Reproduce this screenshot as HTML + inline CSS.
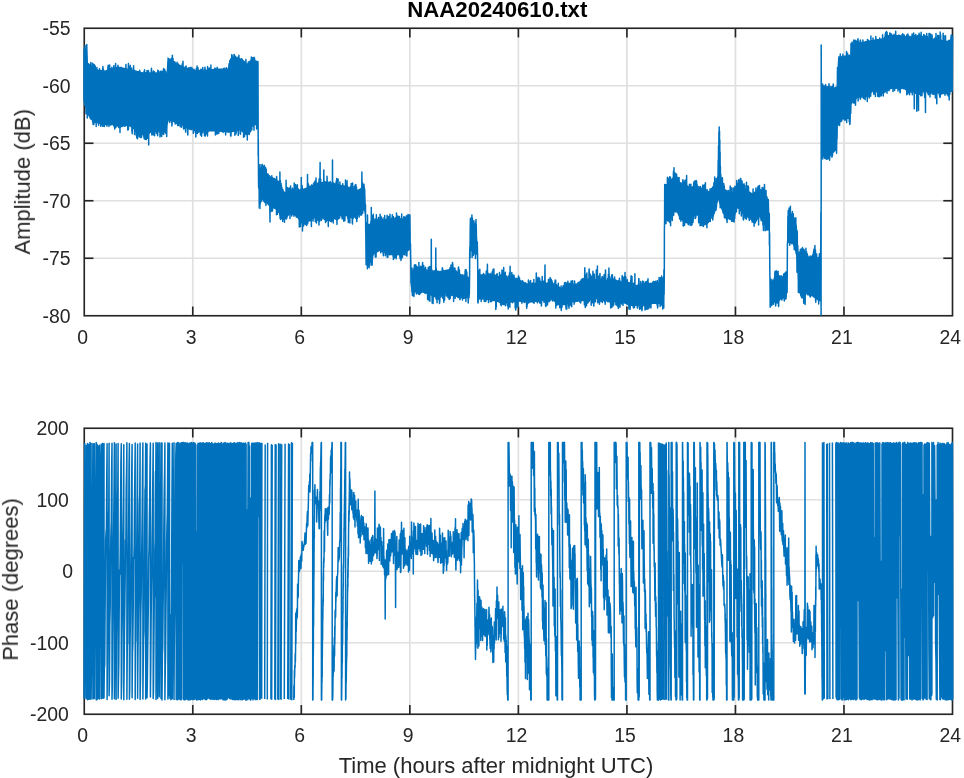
<!DOCTYPE html>
<html lang="en">
<head>
<meta charset="utf-8">
<title>NAA20240610.txt</title>
<style>
html,body{margin:0;padding:0;background:#fff;}
body{width:964px;height:778px;overflow:hidden;}
svg{display:block;}
.g{stroke:#E0E0E0;stroke-width:1.7;}
.ax{stroke:#262626;stroke-width:1.65;stroke-linecap:butt;}
.d{fill:none;stroke:#0072BD;stroke-width:1.5;stroke-linejoin:round;}
text{font-family:"Liberation Sans",Arial,Helvetica,sans-serif;fill:#262626;}
.t{font-size:19.4px;}
.lab{font-size:22.0px;}
.ttl{font-size:22.2px;font-weight:bold;fill:#000;}
</style>
</head>
<body>
<svg width="964" height="778" viewBox="0 0 964 778">
<rect width="964" height="778" fill="#fff"/>
<!-- amplitude axes -->
<g>
<line x1="192.78" y1="28.25" x2="192.78" y2="315.75" class="g"/>
<line x1="301.31" y1="28.25" x2="301.31" y2="315.75" class="g"/>
<line x1="409.84" y1="28.25" x2="409.84" y2="315.75" class="g"/>
<line x1="518.38" y1="28.25" x2="518.38" y2="315.75" class="g"/>
<line x1="626.91" y1="28.25" x2="626.91" y2="315.75" class="g"/>
<line x1="735.44" y1="28.25" x2="735.44" y2="315.75" class="g"/>
<line x1="843.97" y1="28.25" x2="843.97" y2="315.75" class="g"/>
<line x1="84.25" y1="85.75" x2="952.5" y2="85.75" class="g"/>
<line x1="84.25" y1="143.25" x2="952.5" y2="143.25" class="g"/>
<line x1="84.25" y1="200.75" x2="952.5" y2="200.75" class="g"/>
<line x1="84.25" y1="258.25" x2="952.5" y2="258.25" class="g"/>
<rect x="84.25" y="28.25" width="868.25" height="287.5" class="ax" fill="none"/>
<line x1="192.78" y1="315.75" x2="192.78" y2="306.55" class="ax"/>
<line x1="192.78" y1="28.25" x2="192.78" y2="37.45" class="ax"/>
<line x1="301.31" y1="315.75" x2="301.31" y2="306.55" class="ax"/>
<line x1="301.31" y1="28.25" x2="301.31" y2="37.45" class="ax"/>
<line x1="409.84" y1="315.75" x2="409.84" y2="306.55" class="ax"/>
<line x1="409.84" y1="28.25" x2="409.84" y2="37.45" class="ax"/>
<line x1="518.38" y1="315.75" x2="518.38" y2="306.55" class="ax"/>
<line x1="518.38" y1="28.25" x2="518.38" y2="37.45" class="ax"/>
<line x1="626.91" y1="315.75" x2="626.91" y2="306.55" class="ax"/>
<line x1="626.91" y1="28.25" x2="626.91" y2="37.45" class="ax"/>
<line x1="735.44" y1="315.75" x2="735.44" y2="306.55" class="ax"/>
<line x1="735.44" y1="28.25" x2="735.44" y2="37.45" class="ax"/>
<line x1="843.97" y1="315.75" x2="843.97" y2="306.55" class="ax"/>
<line x1="843.97" y1="28.25" x2="843.97" y2="37.45" class="ax"/>
<line x1="84.25" y1="85.75" x2="93.45" y2="85.75" class="ax"/>
<line x1="952.5" y1="85.75" x2="943.3" y2="85.75" class="ax"/>
<line x1="84.25" y1="143.25" x2="93.45" y2="143.25" class="ax"/>
<line x1="952.5" y1="143.25" x2="943.3" y2="143.25" class="ax"/>
<line x1="84.25" y1="200.75" x2="93.45" y2="200.75" class="ax"/>
<line x1="952.5" y1="200.75" x2="943.3" y2="200.75" class="ax"/>
<line x1="84.25" y1="258.25" x2="93.45" y2="258.25" class="ax"/>
<line x1="952.5" y1="258.25" x2="943.3" y2="258.25" class="ax"/>
<polygon points="83.5,48.4 84.0,48.4 84.5,48.4 85.0,48.4 85.5,48.4 86.0,48.4 86.5,48.4 87.0,48.4 87.5,55.3 88.0,62.4 88.5,63.0 89.0,63.5 89.5,64.1 90.0,64.7 90.5,65.2 91.0,65.7 91.5,66.2 92.0,66.7 92.5,67.2 93.0,67.7 93.5,68.2 94.0,68.7 94.5,69.2 95.0,69.7 95.5,69.7 96.0,69.7 96.5,69.8 97.0,69.8 97.5,69.8 98.0,69.9 98.5,69.9 99.0,70.0 99.5,70.0 100.0,70.0 100.5,70.1 101.0,70.1 101.5,70.1 102.0,70.2 102.5,70.2 103.0,70.2 103.5,70.3 104.0,70.3 104.5,70.4 105.0,70.4 105.5,70.2 106.0,70.1 106.5,69.9 107.0,69.8 107.5,69.6 108.0,69.4 108.5,69.3 109.0,69.1 109.5,69.0 110.0,68.8 110.5,68.6 111.0,68.5 111.5,68.3 112.0,68.2 112.5,68.0 113.0,67.8 113.5,67.7 114.0,67.5 114.5,67.4 115.0,67.2 115.5,67.0 116.0,66.9 116.5,66.7 117.0,66.6 117.5,66.4 118.0,66.5 118.5,66.6 119.0,66.7 119.5,66.8 120.0,66.9 120.5,67.0 121.0,67.1 121.5,67.2 122.0,67.3 122.5,67.4 123.0,67.5 123.5,67.6 124.0,67.7 124.5,67.8 125.0,67.9 125.5,68.0 126.0,68.1 126.5,68.2 127.0,68.3 127.5,68.4 128.0,68.5 128.5,68.6 129.0,68.7 129.5,68.8 130.0,68.9 130.5,69.0 131.0,69.2 131.5,69.3 132.0,69.4 132.5,69.6 133.0,69.7 133.5,69.8 134.0,69.9 134.5,70.1 135.0,70.2 135.5,70.3 136.0,70.5 136.5,70.6 137.0,70.7 137.5,70.9 138.0,71.0 138.5,71.1 139.0,71.2 139.5,71.4 140.0,71.5 140.5,71.6 141.0,71.8 141.5,71.9 142.0,72.0 142.5,72.2 143.0,72.2 143.5,72.2 144.0,72.2 144.5,72.2 145.0,72.2 145.5,72.2 146.0,72.2 146.5,72.2 147.0,72.2 147.5,72.2 148.0,72.2 148.5,72.2 149.0,72.2 149.5,72.2 150.0,72.2 150.5,72.2 151.0,72.2 151.5,72.2 152.0,72.2 152.5,72.2 153.0,72.2 153.5,72.2 154.0,72.2 154.5,72.2 155.0,72.2 155.5,72.2 156.0,72.3 156.5,72.3 157.0,72.4 157.5,72.4 158.0,72.5 158.5,72.5 159.0,72.6 159.5,72.6 160.0,72.7 160.5,72.7 161.0,72.8 161.5,72.9 162.0,72.9 162.5,73.0 163.0,73.0 163.5,73.1 164.0,73.1 164.5,73.2 165.0,73.2 165.5,73.3 166.0,73.3 166.5,73.4 167.0,65.3 167.5,57.1 168.0,57.5 168.5,57.8 169.0,58.1 169.5,58.5 170.0,58.8 170.5,59.1 171.0,59.5 171.5,59.8 172.0,60.1 172.5,60.5 173.0,60.8 173.5,61.1 174.0,61.5 174.5,61.8 175.0,62.1 175.5,62.4 176.0,62.6 176.5,62.9 177.0,63.1 177.5,63.4 178.0,63.6 178.5,63.9 179.0,64.2 179.5,64.4 180.0,64.7 180.5,64.9 181.0,65.2 181.5,65.4 182.0,65.7 182.5,65.9 183.0,66.2 183.5,66.4 184.0,66.7 184.5,66.9 185.0,67.2 185.5,67.3 186.0,67.5 186.5,67.7 187.0,67.8 187.5,68.0 188.0,68.2 188.5,68.3 189.0,68.5 189.5,68.7 190.0,68.8 190.5,69.0 191.0,69.2 191.5,69.3 192.0,69.5 192.5,69.7 193.0,69.7 193.5,69.7 194.0,69.7 194.5,69.7 195.0,69.7 195.5,69.7 196.0,69.7 196.5,69.7 197.0,69.7 197.5,69.7 198.0,69.7 198.5,69.7 199.0,69.7 199.5,69.7 200.0,69.7 200.5,69.7 201.0,69.7 201.5,69.7 202.0,69.7 202.5,69.7 203.0,69.7 203.5,69.7 204.0,69.7 204.5,69.7 205.0,69.7 205.5,69.6 206.0,69.6 206.5,69.5 207.0,69.5 207.5,69.4 208.0,69.4 208.5,69.3 209.0,69.2 209.5,69.2 210.0,69.2 210.5,69.1 211.0,69.1 211.5,69.0 212.0,69.0 212.5,68.9 213.0,68.9 213.5,68.8 214.0,68.8 214.5,68.7 215.0,68.7 215.5,68.6 216.0,68.6 216.5,68.5 217.0,68.5 217.5,68.4 218.0,68.4 218.5,68.4 219.0,68.4 219.5,68.4 220.0,68.4 220.5,68.4 221.0,68.4 221.5,68.4 222.0,68.4 222.5,68.4 223.0,68.4 223.5,68.4 224.0,68.4 224.5,68.4 225.0,68.4 225.5,68.4 226.0,68.4 226.5,68.4 227.0,68.4 227.5,68.4 228.0,68.4 228.5,66.0 229.0,63.6 229.5,61.3 230.0,58.9 230.5,58.5 231.0,58.1 231.5,57.6 232.0,57.2 232.5,56.8 233.0,56.4 233.5,56.5 234.0,56.7 234.5,56.8 235.0,56.9 235.5,57.1 236.0,57.2 236.5,57.3 237.0,57.5 237.5,57.6 238.0,57.7 238.5,57.8 239.0,58.0 239.5,58.1 240.0,58.2 240.5,58.4 241.0,58.5 241.5,58.6 242.0,58.8 242.5,58.9 243.0,59.5 243.5,60.0 244.0,60.6 244.5,61.1 245.0,61.7 245.5,62.2 246.0,62.8 246.5,63.3 247.0,63.9 247.5,63.3 248.0,62.7 248.5,62.1 249.0,61.5 249.5,61.0 250.0,60.4 250.5,59.8 251.0,59.2 251.5,59.0 252.0,59.1 252.5,59.3 253.0,59.5 253.5,59.6 254.0,59.8 254.5,59.9 255.0,60.1 255.5,60.3 256.0,60.4 256.5,60.6 257.0,60.7 257.5,60.9 258.0,60.9 258.5,170.9 259.0,170.0 259.5,169.0 260.0,168.1 260.5,167.2 261.0,166.2 261.5,165.3 262.0,164.3 262.5,163.4 263.0,164.4 263.5,165.4 264.0,166.4 264.5,167.4 265.0,168.4 265.5,169.4 266.0,170.4 266.5,171.4 267.0,172.4 267.5,173.4 268.0,173.9 268.5,174.4 269.0,174.9 269.5,175.4 270.0,175.9 270.5,176.4 271.0,176.9 271.5,177.4 272.0,177.9 272.5,178.4 273.0,178.9 273.5,179.4 274.0,179.9 274.5,180.4 275.0,180.9 275.5,181.4 276.0,181.9 276.5,182.4 277.0,182.9 277.5,183.4 278.0,184.0 278.5,184.6 279.0,185.2 279.5,185.7 280.0,186.3 280.5,186.9 281.0,187.5 281.5,188.1 282.0,188.7 282.5,189.2 283.0,189.8 283.5,190.4 284.0,191.0 284.5,191.6 285.0,192.2 285.5,191.9 286.0,191.7 286.5,191.5 287.0,191.3 287.5,191.1 288.0,190.8 288.5,190.6 289.0,190.4 289.5,190.2 290.0,190.0 290.5,189.8 291.0,189.6 291.5,189.3 292.0,189.1 292.5,188.9 293.0,188.9 293.5,189.0 294.0,189.0 294.5,189.1 295.0,189.1 295.5,189.2 296.0,189.2 296.5,189.2 297.0,189.3 297.5,189.3 298.0,189.4 298.5,189.4 299.0,189.5 299.5,189.5 300.0,189.5 300.5,189.6 301.0,189.6 301.5,189.6 302.0,189.3 302.5,189.2 303.0,189.0 303.5,188.8 304.0,188.6 304.5,188.3 305.0,188.2 305.5,188.0 306.0,187.8 306.5,187.6 307.0,187.3 307.5,187.2 308.0,186.9 308.5,186.7 309.0,186.5 309.5,186.3 310.0,186.1 310.5,185.8 311.0,185.6 311.5,185.4 312.0,185.2 312.5,185.0 313.0,184.8 313.5,184.6 314.0,184.3 314.5,184.1 315.0,183.9 315.5,183.7 316.0,183.6 316.5,183.4 317.0,183.2 317.5,183.0 318.0,182.8 318.5,182.7 319.0,182.5 319.5,182.3 320.0,182.2 320.5,182.1 321.0,182.1 321.5,182.0 322.0,182.0 322.5,181.9 323.0,181.8 323.5,181.8 324.0,181.8 324.5,181.7 325.0,181.7 325.5,181.6 326.0,181.6 326.5,181.5 327.0,181.5 327.5,181.4 328.0,181.5 328.5,181.7 329.0,181.8 329.5,181.9 330.0,182.1 330.5,182.2 331.0,182.3 331.5,182.4 332.0,182.6 332.5,182.7 333.0,182.8 333.5,183.0 334.0,183.1 334.5,183.2 335.0,183.3 335.5,183.5 336.0,183.6 336.5,183.7 337.0,183.9 337.5,184.0 338.0,184.1 338.5,184.3 339.0,184.4 339.5,184.5 340.0,184.7 340.5,184.8 341.0,184.9 341.5,185.0 342.0,185.2 342.5,185.3 343.0,185.4 343.5,185.5 344.0,185.7 344.5,185.8 345.0,185.9 345.5,186.0 346.0,186.2 346.5,186.3 347.0,186.4 347.5,186.5 348.0,186.7 348.5,186.8 349.0,186.9 349.5,187.0 350.0,187.2 350.5,187.3 351.0,187.5 351.5,187.7 352.0,187.8 352.5,188.0 353.0,188.2 353.5,188.3 354.0,188.5 354.5,188.7 355.0,188.8 355.5,189.0 356.0,189.2 356.5,189.3 357.0,189.5 357.5,189.7 358.0,189.4 358.5,189.2 359.0,189.0 359.5,188.8 360.0,188.6 360.5,188.4 361.0,188.2 361.5,188.0 362.0,187.8 362.5,187.6 363.0,187.3 363.5,187.1 364.0,186.9 364.5,186.7 365.0,186.5 365.5,203.2 366.0,228.3 366.5,227.8 367.0,227.3 367.5,226.8 368.0,226.4 368.5,225.9 369.0,225.4 369.5,224.9 370.0,224.4 370.5,224.0 371.0,223.5 371.5,223.0 372.0,222.5 372.5,222.0 373.0,221.6 373.5,221.1 374.0,220.6 374.5,220.1 375.0,219.7 375.5,219.6 376.0,219.6 376.5,219.5 377.0,219.5 377.5,219.4 378.0,219.4 378.5,219.4 379.0,219.3 379.5,219.3 380.0,219.2 380.5,219.2 381.0,219.2 381.5,219.1 382.0,219.1 382.5,219.0 383.0,219.0 383.5,218.9 384.0,218.9 384.5,218.9 385.0,218.8 385.5,218.8 386.0,218.7 386.5,218.7 387.0,218.7 387.5,218.6 388.0,218.6 388.5,218.5 389.0,218.5 389.5,218.4 390.0,218.4 390.5,218.4 391.0,218.4 391.5,218.4 392.0,218.4 392.5,218.4 393.0,218.4 393.5,218.4 394.0,218.4 394.5,218.4 395.0,218.4 395.5,218.4 396.0,218.4 396.5,218.4 397.0,218.4 397.5,218.4 398.0,218.4 398.5,218.4 399.0,218.4 399.5,218.4 400.0,218.4 400.5,218.4 401.0,218.4 401.5,218.4 402.0,218.4 402.5,218.4 403.0,218.1 403.5,217.9 404.0,217.6 404.5,217.4 405.0,217.1 405.5,216.9 406.0,216.6 406.5,216.3 407.0,216.1 407.5,215.8 408.0,215.6 408.5,215.3 409.0,215.0 409.5,214.8 410.0,214.5 410.5,234.1 411.0,273.4 411.5,272.4 412.0,271.3 412.5,270.3 413.0,269.3 413.5,268.2 414.0,267.2 414.5,266.2 415.0,265.1 415.5,265.4 416.0,265.6 416.5,265.8 417.0,266.0 417.5,266.3 418.0,266.5 418.5,266.7 419.0,266.9 419.5,267.2 420.0,267.4 420.5,267.6 421.0,267.8 421.5,268.1 422.0,268.3 422.5,268.5 423.0,268.8 423.5,269.0 424.0,269.2 424.5,269.4 425.0,269.6 425.5,269.7 426.0,269.7 426.5,269.8 427.0,269.8 427.5,269.9 428.0,269.9 428.5,269.9 429.0,270.0 429.5,270.0 430.0,270.1 430.5,270.1 431.0,270.1 431.5,270.2 432.0,270.2 432.5,270.3 433.0,270.3 433.5,270.4 434.0,270.4 434.5,270.4 435.0,270.5 435.5,270.5 436.0,270.6 436.5,270.6 437.0,270.6 437.5,270.7 438.0,270.7 438.5,270.8 439.0,270.8 439.5,270.9 440.0,270.9 440.5,270.8 441.0,270.7 441.5,270.6 442.0,270.5 442.5,270.4 443.0,270.3 443.5,270.2 444.0,270.1 444.5,270.0 445.0,269.9 445.5,269.8 446.0,269.7 446.5,269.6 447.0,269.5 447.5,269.4 448.0,269.3 448.5,269.2 449.0,269.1 449.5,269.0 450.0,268.9 450.5,268.8 451.0,268.7 451.5,268.6 452.0,268.5 452.5,268.4 453.0,268.7 453.5,269.1 454.0,269.4 454.5,269.7 455.0,270.1 455.5,270.4 456.0,270.7 456.5,271.1 457.0,271.4 457.5,271.7 458.0,272.1 458.5,272.4 459.0,272.7 459.5,273.1 460.0,273.4 460.5,273.7 461.0,273.9 461.5,274.2 462.0,274.5 462.5,274.7 463.0,275.0 463.5,275.2 464.0,275.5 464.5,275.8 465.0,276.0 465.5,276.3 466.0,276.6 466.5,276.8 467.0,277.1 467.5,277.3 468.0,277.6 468.5,277.9 469.0,278.1 469.5,278.4 470.0,220.4 470.5,220.7 471.0,221.1 471.5,221.4 472.0,221.7 472.5,222.1 473.0,222.4 473.5,222.7 474.0,222.9 474.5,223.2 475.0,223.4 475.5,223.7 476.0,223.9 476.5,224.2 477.0,224.4 477.5,256.2 478.0,272.3 478.5,272.7 479.0,273.1 479.5,273.5 480.0,273.9 480.5,274.3 481.0,274.7 481.5,275.1 482.0,275.5 482.5,275.9 483.0,275.9 483.5,275.9 484.0,275.9 484.5,275.9 485.0,275.9 485.5,275.9 486.0,275.9 486.5,275.9 487.0,275.9 487.5,275.9 488.0,275.9 488.5,275.9 489.0,275.9 489.5,275.9 490.0,275.9 490.5,275.9 491.0,275.9 491.5,275.9 492.0,275.9 492.5,275.9 493.0,275.9 493.5,275.9 494.0,275.9 494.5,275.9 495.0,275.9 495.5,275.9 496.0,275.9 496.5,275.9 497.0,275.9 497.5,275.9 498.0,276.0 498.5,276.0 499.0,276.1 499.5,276.2 500.0,276.3 500.5,276.3 501.0,276.4 501.5,276.5 502.0,276.6 502.5,276.6 503.0,276.7 503.5,276.8 504.0,276.8 504.5,276.9 505.0,277.0 505.5,277.1 506.0,277.1 506.5,277.2 507.0,277.3 507.5,277.3 508.0,277.4 508.5,277.5 509.0,277.6 509.5,277.6 510.0,277.7 510.5,277.8 511.0,277.9 511.5,277.9 512.0,278.0 512.5,278.1 513.0,278.1 513.5,278.2 514.0,278.3 514.5,278.4 515.0,278.4 515.5,278.5 516.0,278.6 516.5,278.6 517.0,278.7 517.5,278.8 518.0,278.9 518.5,279.0 519.0,279.3 519.5,279.5 520.0,279.8 520.5,280.0 521.0,280.2 521.5,280.5 522.0,280.7 522.5,281.0 523.0,281.2 523.5,281.5 524.0,281.7 524.5,281.9 525.0,282.2 525.5,282.4 526.0,282.7 526.5,282.9 527.0,283.2 527.5,283.4 528.0,283.4 528.5,283.4 529.0,283.4 529.5,283.3 530.0,283.3 530.5,283.3 531.0,283.3 531.5,283.3 532.0,283.3 532.5,283.2 533.0,283.2 533.5,283.2 534.0,283.2 534.5,283.2 535.0,283.2 535.5,283.2 536.0,283.1 536.5,283.1 537.0,283.1 537.5,283.1 538.0,283.1 538.5,283.1 539.0,283.1 539.5,283.0 540.0,283.0 540.5,283.0 541.0,283.0 541.5,283.0 542.0,283.0 542.5,282.9 543.0,282.9 543.5,282.9 544.0,282.9 544.5,282.9 545.0,282.9 545.5,282.9 546.0,282.8 546.5,282.8 547.0,282.8 547.5,282.8 548.0,282.8 548.5,282.8 549.0,282.8 549.5,282.7 550.0,282.7 550.5,282.7 551.0,282.7 551.5,282.7 552.0,282.7 552.5,282.6 553.0,282.9 553.5,283.2 554.0,283.5 554.5,283.8 555.0,284.1 555.5,284.4 556.0,284.7 556.5,284.9 557.0,285.2 557.5,285.5 558.0,285.8 558.5,286.1 559.0,286.4 559.5,286.7 560.0,287.0 560.5,287.2 561.0,287.5 561.5,287.8 562.0,288.1 562.5,288.4 563.0,288.1 563.5,287.8 564.0,287.5 564.5,287.2 565.0,286.9 565.5,286.6 566.0,286.3 566.5,286.0 567.0,285.7 567.5,285.4 568.0,285.1 568.5,284.8 569.0,284.5 569.5,284.2 570.0,283.9 570.5,283.9 571.0,283.8 571.5,283.8 572.0,283.8 572.5,283.8 573.0,283.8 573.5,283.7 574.0,283.7 574.5,283.7 575.0,283.6 575.5,283.6 576.0,283.6 576.5,283.6 577.0,283.5 577.5,283.5 578.0,283.5 578.5,283.5 579.0,283.4 579.5,283.4 580.0,283.4 580.5,283.1 581.0,282.8 581.5,282.5 582.0,282.1 582.5,281.8 583.0,281.5 583.5,281.2 584.0,280.9 584.5,280.6 585.0,280.3 585.5,280.0 586.0,279.6 586.5,279.3 587.0,279.0 587.5,278.7 588.0,278.4 588.5,278.1 589.0,277.8 589.5,277.5 590.0,277.1 590.5,277.3 591.0,277.4 591.5,277.6 592.0,277.8 592.5,277.9 593.0,278.0 593.5,278.2 594.0,278.3 594.5,278.5 595.0,278.6 595.5,278.8 596.0,278.9 596.5,279.1 597.0,279.2 597.5,279.4 598.0,279.5 598.5,279.7 599.0,279.8 599.5,280.0 600.0,280.1 600.5,280.3 601.0,280.4 601.5,280.6 602.0,280.8 602.5,280.9 603.0,280.8 603.5,280.6 604.0,280.4 604.5,280.3 605.0,280.1 605.5,280.0 606.0,279.8 606.5,279.7 607.0,279.5 607.5,279.4 608.0,279.2 608.5,279.1 609.0,278.9 609.5,278.8 610.0,278.6 610.5,278.5 611.0,278.3 611.5,278.2 612.0,278.0 612.5,277.9 613.0,278.1 613.5,278.4 614.0,278.6 614.5,278.8 615.0,279.0 615.5,279.3 616.0,279.5 616.5,279.7 617.0,280.0 617.5,280.2 618.0,280.4 618.5,280.6 619.0,280.9 619.5,281.1 620.0,281.3 620.5,281.6 621.0,281.8 621.5,282.0 622.0,282.2 622.5,282.5 623.0,282.7 623.5,282.9 624.0,283.2 624.5,283.4 625.0,283.6 625.5,283.8 626.0,284.1 626.5,284.3 627.0,284.5 627.5,284.8 628.0,285.0 628.5,285.2 629.0,285.4 629.5,285.7 630.0,285.9 630.5,285.8 631.0,285.7 631.5,285.6 632.0,285.6 632.5,285.5 633.0,285.4 633.5,285.3 634.0,285.2 634.5,285.1 635.0,285.1 635.5,285.0 636.0,284.9 636.5,284.8 637.0,284.7 637.5,284.6 638.0,284.6 638.5,284.5 639.0,284.4 639.5,284.3 640.0,284.2 640.5,284.1 641.0,284.1 641.5,284.0 642.0,283.9 642.5,283.8 643.0,283.7 643.5,283.6 644.0,283.6 644.5,283.5 645.0,283.4 645.5,283.4 646.0,283.3 646.5,283.3 647.0,283.2 647.5,283.2 648.0,283.2 648.5,283.1 649.0,283.1 649.5,283.1 650.0,283.0 650.5,283.0 651.0,282.9 651.5,282.9 652.0,282.9 652.5,282.8 653.0,282.8 653.5,282.8 654.0,282.7 654.5,282.7 655.0,282.6 655.5,282.6 656.0,282.5 656.5,282.5 657.0,282.4 657.5,282.4 658.0,282.3 658.5,282.3 659.0,282.2 659.5,282.2 660.0,282.1 660.5,281.3 661.0,280.5 661.5,279.6 662.0,278.8 662.5,277.9 663.0,277.1 663.5,276.2 664.0,275.4 664.5,216.1 665.0,186.1 665.5,185.5 666.0,184.9 666.5,184.3 667.0,183.7 667.5,183.1 668.0,182.5 668.5,181.9 669.0,181.3 669.5,180.7 670.0,180.2 670.5,179.7 671.0,179.2 671.5,178.7 672.0,178.2 672.5,177.7 673.0,177.2 673.5,176.7 674.0,176.2 674.5,175.7 675.0,175.2 675.5,175.8 676.0,176.6 676.5,177.2 677.0,178.0 677.5,178.7 678.0,179.3 678.5,180.1 679.0,180.8 679.5,181.5 680.0,182.2 680.5,182.3 681.0,182.4 681.5,182.5 682.0,182.7 682.5,182.8 683.0,182.9 683.5,183.0 684.0,183.2 684.5,183.3 685.0,183.4 685.5,183.8 686.0,184.2 686.5,184.5 687.0,184.9 687.5,185.3 688.0,185.7 688.5,186.0 689.0,186.4 689.5,186.8 690.0,187.2 690.5,187.0 691.0,186.8 691.5,186.6 692.0,186.3 692.5,186.2 693.0,186.0 693.5,185.8 694.0,185.6 694.5,185.3 695.0,185.2 695.5,185.0 696.0,184.8 696.5,184.8 697.0,185.1 697.5,185.4 698.0,185.7 698.5,185.9 699.0,186.2 699.5,186.5 700.0,186.8 700.5,187.1 701.0,187.4 701.5,187.7 702.0,187.9 702.5,188.2 703.0,188.5 703.5,188.8 704.0,189.1 704.5,189.4 705.0,189.7 705.5,189.8 706.0,190.0 706.5,190.2 707.0,190.3 707.5,190.5 708.0,190.7 708.5,190.8 709.0,191.0 709.5,191.2 710.0,191.3 710.5,191.5 711.0,191.7 711.5,191.8 712.0,192.0 712.5,192.2 713.0,190.5 713.5,188.9 714.0,187.3 714.5,185.7 715.0,184.1 715.5,182.5 716.0,180.9 716.5,181.1 717.0,181.4 717.5,181.6 718.0,181.9 718.5,182.1 719.0,182.3 719.5,182.6 720.0,182.8 720.5,183.0 721.0,183.3 721.5,183.8 722.0,184.5 722.5,185.2 723.0,185.8 723.5,186.6 724.0,187.2 724.5,188.0 725.0,188.7 725.5,189.3 726.0,190.1 726.5,190.8 727.0,191.5 727.5,192.2 728.0,192.2 728.5,192.2 729.0,192.2 729.5,192.2 730.0,192.2 730.5,192.2 731.0,192.2 731.5,192.2 732.0,192.2 732.5,192.2 733.0,192.2 733.5,192.2 734.0,192.2 734.5,192.2 735.0,192.2 735.5,189.0 736.0,185.8 736.5,182.7 737.0,182.7 737.5,182.7 738.0,182.7 738.5,182.7 739.0,182.7 739.5,182.7 740.0,182.7 740.5,183.2 741.0,183.8 741.5,184.4 742.0,185.0 742.5,185.5 743.0,186.1 743.5,186.7 744.0,187.2 744.5,187.8 745.0,188.4 745.5,188.7 746.0,189.1 746.5,189.4 747.0,189.7 747.5,190.1 748.0,190.4 748.5,190.7 749.0,191.1 749.5,191.4 750.0,191.7 750.5,192.1 751.0,192.4 751.5,192.7 752.0,193.1 752.5,193.4 753.0,193.0 753.5,192.6 754.0,192.2 754.5,191.8 755.0,191.4 755.5,191.0 756.0,190.6 756.5,190.2 757.0,189.8 757.5,189.4 758.0,189.0 758.5,188.6 759.0,188.5 759.5,188.7 760.0,188.8 760.5,189.0 761.0,189.2 761.5,189.4 762.0,189.5 762.5,189.7 763.0,189.9 763.5,190.1 764.0,190.7 764.5,191.8 765.0,192.9 765.5,194.0 766.0,195.1 766.5,196.2 767.0,197.3 767.5,198.4 768.0,199.1 768.5,199.8 769.0,200.5 769.5,226.7 770.0,278.4 770.5,279.4 771.0,280.4 771.5,281.4 772.0,282.4 772.5,283.4 773.0,282.1 773.5,280.9 774.0,279.6 774.5,278.4 775.0,277.1 775.5,275.9 776.0,274.6 776.5,273.4 777.0,272.1 777.5,272.9 778.0,273.6 778.5,274.4 779.0,275.1 779.5,275.8 780.0,276.6 780.5,277.3 781.0,278.0 781.5,278.3 782.0,278.0 782.5,277.7 783.0,277.4 783.5,277.1 784.0,276.8 784.5,276.6 785.0,276.3 785.5,276.0 786.0,275.7 786.5,275.4 787.0,275.1 787.5,241.6 788.0,216.1 788.5,214.9 789.0,213.8 789.5,212.6 790.0,211.4 790.5,212.0 791.0,212.6 791.5,213.2 792.0,213.8 792.5,214.4 793.0,215.0 793.5,215.6 794.0,216.7 794.5,218.3 795.0,219.9 795.5,221.6 796.0,223.2 796.5,224.8 797.0,226.4 797.5,237.2 798.0,248.0 798.5,253.0 799.0,252.2 799.5,251.3 800.0,250.5 800.5,249.7 801.0,248.9 801.5,248.0 802.0,247.2 802.5,246.4 803.0,247.3 803.5,248.3 804.0,249.2 804.5,250.1 805.0,251.1 805.5,252.0 806.0,252.9 806.5,253.8 807.0,254.5 807.5,255.3 808.0,256.0 808.5,256.8 809.0,257.5 809.5,258.3 810.0,259.0 810.5,259.8 811.0,260.5 811.5,260.0 812.0,258.2 812.5,256.5 813.0,254.7 813.5,253.0 814.0,251.2 814.5,249.4 815.0,247.7 815.5,250.3 816.0,252.9 816.5,255.5 817.0,258.1 817.5,260.8 818.0,263.4 818.5,261.5 819.0,259.6 819.5,257.7 820.0,255.8 820.5,253.9 821.0,197.9 821.5,87.9 822.0,87.7 822.5,87.5 823.0,87.3 823.5,87.1 824.0,86.9 824.5,86.8 825.0,86.6 825.5,86.4 826.0,86.2 826.5,86.0 827.0,86.0 827.5,86.1 828.0,86.3 828.5,86.5 829.0,86.6 829.5,86.8 830.0,86.9 830.5,87.1 831.0,87.3 831.5,87.4 832.0,87.6 832.5,87.7 833.0,87.9 833.5,87.7 834.0,87.4 834.5,87.2 835.0,86.9 835.5,86.7 836.0,86.4 836.5,86.2 837.0,85.9 837.5,67.6 838.0,58.3 838.5,58.0 839.0,57.8 839.5,57.6 840.0,57.3 840.5,57.1 841.0,56.9 841.5,56.6 842.0,56.4 842.5,56.1 843.0,55.9 843.5,55.8 844.0,55.7 844.5,55.6 845.0,55.5 845.5,55.4 846.0,55.3 846.5,55.2 847.0,55.1 847.5,55.0 848.0,54.9 848.5,54.8 849.0,54.7 849.5,54.6 850.0,54.6 850.5,54.6 851.0,47.1 851.5,43.4 852.0,43.3 852.5,43.2 853.0,43.2 853.5,43.1 854.0,43.0 854.5,43.0 855.0,42.9 855.5,42.8 856.0,42.8 856.5,42.7 857.0,42.6 857.5,42.6 858.0,42.5 858.5,42.4 859.0,42.4 859.5,42.3 860.0,42.2 860.5,42.1 861.0,42.0 861.5,41.9 862.0,41.9 862.5,41.8 863.0,41.6 863.5,41.5 864.0,41.4 864.5,41.4 865.0,41.2 865.5,41.1 866.0,41.0 866.5,40.9 867.0,40.9 867.5,40.8 868.0,40.6 868.5,40.5 869.0,40.4 869.5,40.4 870.0,40.2 870.5,40.1 871.0,40.0 871.5,39.9 872.0,39.9 872.5,39.8 873.0,39.6 873.5,39.6 874.0,39.5 874.5,39.5 875.0,39.4 875.5,39.3 876.0,39.3 876.5,39.2 877.0,39.1 877.5,39.1 878.0,39.0 878.5,39.0 879.0,38.9 879.5,38.8 880.0,38.8 880.5,38.7 881.0,38.6 881.5,38.6 882.0,38.5 882.5,38.5 883.0,38.4 883.5,37.8 884.0,37.2 884.5,36.6 885.0,36.1 885.5,35.5 886.0,34.9 886.5,34.9 887.0,34.9 887.5,34.9 888.0,34.9 888.5,34.9 889.0,34.9 889.5,34.9 890.0,34.9 890.5,34.9 891.0,34.9 891.5,34.9 892.0,34.9 892.5,34.9 893.0,34.9 893.5,34.9 894.0,34.9 894.5,34.9 895.0,34.9 895.5,34.9 896.0,34.9 896.5,34.9 897.0,34.9 897.5,34.9 898.0,34.9 898.5,35.0 899.0,35.0 899.5,35.1 900.0,35.2 900.5,35.2 901.0,35.3 901.5,35.4 902.0,35.4 902.5,35.5 903.0,35.6 903.5,35.6 904.0,35.7 904.5,35.8 905.0,35.8 905.5,35.9 906.0,36.2 906.5,36.6 907.0,36.9 907.5,37.2 908.0,37.6 908.5,37.9 909.0,38.2 909.5,38.3 910.0,38.1 910.5,37.9 911.0,37.7 911.5,37.5 912.0,37.3 912.5,37.1 913.0,36.9 913.5,36.7 914.0,36.5 914.5,36.3 915.0,36.1 915.5,35.9 916.0,35.7 916.5,35.5 917.0,35.3 917.5,35.1 918.0,34.9 918.5,35.0 919.0,35.1 919.5,35.2 920.0,35.4 920.5,35.5 921.0,35.6 921.5,35.7 922.0,35.8 922.5,35.9 923.0,36.0 923.5,36.1 924.0,36.2 924.5,36.4 925.0,36.5 925.5,36.6 926.0,36.7 926.5,36.8 927.0,36.9 927.5,37.0 928.0,37.1 928.5,37.3 929.0,37.4 929.5,37.5 930.0,37.6 930.5,37.8 931.0,37.9 931.5,38.0 932.0,38.1 932.5,38.3 933.0,38.4 933.5,38.5 934.0,38.6 934.5,38.8 935.0,38.9 935.5,39.0 936.0,39.1 936.5,39.3 937.0,39.4 937.5,39.5 938.0,39.6 938.5,39.7 939.0,39.8 939.5,39.8 940.0,39.9 940.5,40.0 941.0,40.0 941.5,40.1 942.0,40.1 942.5,40.2 943.0,40.3 943.5,40.3 944.0,40.4 944.5,40.5 945.0,40.5 945.5,40.6 946.0,40.6 946.5,40.7 947.0,40.8 947.5,40.8 948.0,40.9 948.5,40.5 949.0,40.1 949.5,39.7 950.0,39.3 950.5,39.0 951.0,38.6 951.5,38.2 952.0,37.8 952.5,37.4 953.0,37.4 953.0,91.6 952.5,91.6 952.0,91.7 951.5,91.9 951.0,92.0 950.5,92.1 950.0,92.3 949.5,92.4 949.0,92.5 948.5,92.7 948.0,92.8 947.5,92.9 947.0,93.0 946.5,93.2 946.0,93.3 945.5,93.4 945.0,93.6 944.5,93.7 944.0,93.8 943.5,94.0 943.0,94.1 942.5,94.0 942.0,94.0 941.5,93.9 941.0,93.9 940.5,93.8 940.0,93.8 939.5,93.8 939.0,93.7 938.5,93.6 938.0,93.6 937.5,93.5 937.0,93.5 936.5,93.4 936.0,93.4 935.5,93.3 935.0,93.3 934.5,93.2 934.0,93.2 933.5,93.1 933.0,93.1 932.5,93.0 932.0,93.0 931.5,92.9 931.0,92.9 930.5,92.8 930.0,92.8 929.5,92.7 929.0,92.6 928.5,92.5 928.0,92.4 927.5,92.3 927.0,92.3 926.5,92.2 926.0,92.1 925.5,92.0 925.0,91.9 924.5,91.8 924.0,91.8 923.5,91.7 923.0,91.6 922.5,91.6 922.0,91.7 921.5,91.7 921.0,91.8 920.5,91.8 920.0,91.9 919.5,91.9 919.0,92.0 918.5,92.0 918.0,92.1 917.5,92.1 917.0,92.1 916.5,92.2 916.0,92.2 915.5,92.3 915.0,92.3 914.5,92.4 914.0,92.4 913.5,92.5 913.0,92.5 912.5,92.6 912.0,92.6 911.5,92.6 911.0,92.7 910.5,92.7 910.0,92.8 909.5,92.8 909.0,92.7 908.5,92.3 908.0,92.0 907.5,91.7 907.0,91.3 906.5,91.0 906.0,90.6 905.5,90.3 905.0,90.0 904.5,89.6 904.0,89.3 903.5,88.9 903.0,88.6 902.5,88.6 902.0,88.6 901.5,88.7 901.0,88.7 900.5,88.7 900.0,88.7 899.5,88.7 899.0,88.8 898.5,88.8 898.0,88.8 897.5,88.8 897.0,88.8 896.5,88.9 896.0,88.9 895.5,88.9 895.0,88.9 894.5,88.9 894.0,89.0 893.5,89.0 893.0,89.0 892.5,89.0 892.0,89.0 891.5,89.1 891.0,89.1 890.5,89.1 890.0,89.4 889.5,89.8 889.0,90.1 888.5,90.4 888.0,90.8 887.5,91.1 887.0,91.4 886.5,91.8 886.0,92.1 885.5,92.4 885.0,92.8 884.5,93.1 884.0,93.4 883.5,93.8 883.0,94.1 882.5,94.0 882.0,93.8 881.5,93.7 881.0,93.6 880.5,93.5 880.0,93.3 879.5,93.2 879.0,93.1 878.5,93.0 878.0,92.8 877.5,92.7 877.0,92.6 876.5,92.5 876.0,92.3 875.5,92.2 875.0,92.1 874.5,92.0 874.0,91.8 873.5,91.7 873.0,91.6 872.5,92.0 872.0,92.4 871.5,92.8 871.0,93.3 870.5,93.7 870.0,94.1 869.5,94.5 869.0,94.9 868.5,95.3 868.0,95.8 867.5,96.2 867.0,96.6 866.5,97.0 866.0,97.4 865.5,97.8 865.0,97.8 864.5,97.8 864.0,97.8 863.5,97.8 863.0,97.8 862.5,97.8 862.0,97.8 861.5,97.8 861.0,97.8 860.5,97.8 860.0,97.8 859.5,97.8 859.0,97.8 858.5,97.8 858.0,97.8 857.5,98.2 857.0,98.6 856.5,99.0 856.0,99.3 855.5,99.7 855.0,100.1 854.5,100.4 854.0,100.8 853.5,101.2 853.0,101.6 852.5,101.9 852.0,102.3 851.5,102.7 851.0,108.3 850.5,119.1 850.0,119.1 849.5,119.1 849.0,119.1 848.5,119.1 848.0,119.1 847.5,119.1 847.0,119.1 846.5,119.1 846.0,119.1 845.5,119.1 845.0,119.2 844.5,119.3 844.0,119.3 843.5,119.4 843.0,119.5 842.5,119.6 842.0,119.7 841.5,119.7 841.0,119.8 840.5,119.9 840.0,120.0 839.5,120.1 839.0,120.1 838.5,120.2 838.0,120.3 837.5,130.1 837.0,149.6 836.5,150.1 836.0,150.5 835.5,151.0 835.0,151.5 834.5,151.9 834.0,152.4 833.5,152.9 833.0,153.3 832.5,153.9 832.0,154.5 831.5,155.0 831.0,155.6 830.5,156.2 830.0,156.7 829.5,157.3 829.0,157.8 828.5,158.4 828.0,158.9 827.5,159.5 827.0,160.1 826.5,160.1 826.0,159.6 825.5,159.2 825.0,158.7 824.5,158.2 824.0,157.7 823.5,157.3 823.0,156.8 822.5,156.3 822.0,155.8 821.5,155.3 821.0,252.8 820.5,301.5 820.0,301.3 819.5,301.1 819.0,300.9 818.5,300.7 818.0,300.5 817.5,300.4 817.0,300.0 816.5,299.6 816.0,299.2 815.5,298.9 815.0,298.5 814.5,298.1 814.0,297.7 813.5,297.4 813.0,297.0 812.5,296.6 812.0,296.3 811.5,296.1 811.0,295.8 810.5,295.6 810.0,295.3 809.5,295.0 809.0,294.8 808.5,294.5 808.0,294.3 807.5,294.0 807.0,293.7 806.5,293.5 806.0,293.6 805.5,294.2 805.0,294.8 804.5,295.4 804.0,295.9 803.5,296.5 803.0,297.1 802.5,297.7 802.0,298.2 801.5,298.8 801.0,298.1 800.5,296.0 800.0,293.9 799.5,291.8 799.0,289.7 798.5,287.6 798.0,281.6 797.5,271.6 797.0,262.9 796.5,255.3 796.0,251.1 795.5,250.1 795.0,249.1 794.5,248.1 794.0,247.1 793.5,246.1 793.0,245.1 792.5,244.1 792.0,244.0 791.5,243.8 791.0,243.7 790.5,243.6 790.0,243.4 789.5,243.3 789.0,243.2 788.5,243.0 788.0,242.9 787.5,265.9 787.0,296.6 786.5,296.8 786.0,297.0 785.5,297.2 785.0,297.4 784.5,297.6 784.0,297.8 783.5,298.0 783.0,298.2 782.5,298.4 782.0,298.7 781.5,299.0 781.0,299.2 780.5,299.6 780.0,299.9 779.5,300.2 779.0,300.5 778.5,300.8 778.0,301.1 777.5,301.4 777.0,301.7 776.5,302.0 776.0,302.2 775.5,302.6 775.0,302.9 774.5,302.7 774.0,302.6 773.5,302.5 773.0,302.4 772.5,302.2 772.0,302.1 771.5,302.0 771.0,301.9 770.5,301.7 770.0,301.6 769.5,251.6 769.0,226.6 768.5,226.6 768.0,226.6 767.5,226.6 767.0,226.6 766.5,226.6 766.0,226.6 765.5,226.6 765.0,226.6 764.5,225.4 764.0,224.2 763.5,223.0 763.0,221.8 762.5,220.6 762.0,219.4 761.5,218.2 761.0,217.0 760.5,215.8 760.0,214.6 759.5,215.6 759.0,216.6 758.5,217.6 758.0,218.6 757.5,219.6 757.0,220.6 756.5,221.6 756.0,222.6 755.5,223.6 755.0,224.6 754.5,224.0 754.0,223.5 753.5,222.9 753.0,222.4 752.5,221.8 752.0,221.3 751.5,220.8 751.0,220.2 750.5,219.7 750.0,219.1 749.5,218.8 749.0,218.4 748.5,218.1 748.0,217.8 747.5,217.4 747.0,217.1 746.5,216.8 746.0,216.4 745.5,216.1 745.0,215.8 744.5,215.4 744.0,215.1 743.5,214.8 743.0,214.4 742.5,214.1 742.0,213.4 741.5,212.7 741.0,212.0 740.5,211.3 740.0,210.6 739.5,209.9 739.0,209.2 738.5,208.5 738.0,207.8 737.5,207.1 737.0,209.0 736.5,210.8 736.0,212.7 735.5,214.6 735.0,216.4 734.5,218.3 734.0,220.2 733.5,221.0 733.0,220.8 732.5,220.6 732.0,220.4 731.5,220.3 731.0,220.1 730.5,219.9 730.0,219.7 729.5,219.5 729.0,219.3 728.5,219.2 728.0,219.0 727.5,218.8 727.0,218.6 726.5,218.4 726.0,218.2 725.5,218.0 725.0,217.8 724.5,216.7 724.0,215.5 723.5,214.3 723.0,213.2 722.5,212.0 722.0,210.8 721.5,209.7 721.0,208.4 720.5,206.9 720.0,205.4 719.5,204.0 719.0,202.5 718.5,201.1 718.0,199.6 717.5,201.9 717.0,204.2 716.5,206.5 716.0,208.8 715.5,211.1 715.0,213.3 714.5,214.1 714.0,214.8 713.5,215.5 713.0,216.2 712.5,216.9 712.0,217.7 711.5,218.4 711.0,219.1 710.5,219.8 710.0,220.5 709.5,221.2 709.0,221.9 708.5,222.7 708.0,223.4 707.5,224.1 707.0,224.0 706.5,223.8 706.0,223.7 705.5,223.6 705.0,223.5 704.5,223.3 704.0,223.2 703.5,223.1 703.0,223.0 702.5,222.8 702.0,222.0 701.5,221.1 701.0,220.3 700.5,219.4 700.0,218.5 699.5,217.7 699.0,216.8 698.5,216.0 698.0,215.1 697.5,214.2 697.0,213.4 696.5,212.5 696.0,212.7 695.5,213.9 695.0,215.1 694.5,216.3 694.0,217.5 693.5,218.7 693.0,219.9 692.5,221.1 692.0,222.3 691.5,223.5 691.0,224.0 690.5,223.9 690.0,223.8 689.5,223.8 689.0,223.7 688.5,223.5 688.0,223.4 687.5,223.3 687.0,223.2 686.5,223.2 686.0,223.0 685.5,222.9 685.0,222.8 684.5,222.5 684.0,222.1 683.5,221.7 683.0,221.3 682.5,221.0 682.0,220.6 681.5,220.2 681.0,219.8 680.5,219.5 680.0,219.1 679.5,218.0 679.0,216.9 678.5,215.9 678.0,214.8 677.5,213.7 677.0,212.7 676.5,211.6 676.0,210.5 675.5,209.4 675.0,208.3 674.5,209.8 674.0,211.2 673.5,212.7 673.0,214.2 672.5,215.6 672.0,217.0 671.5,218.5 671.0,219.9 670.5,221.4 670.0,222.8 669.5,222.5 669.0,222.1 668.5,221.8 668.0,221.4 667.5,221.1 667.0,220.7 666.5,220.3 666.0,220.0 665.5,219.6 665.0,219.3 664.5,247.3 664.0,303.6 663.5,303.6 663.0,303.6 662.5,303.7 662.0,303.7 661.5,303.7 661.0,303.7 660.5,303.8 660.0,303.8 659.5,303.8 659.0,303.8 658.5,303.8 658.0,303.9 657.5,303.9 657.0,303.9 656.5,303.9 656.0,303.9 655.5,304.0 655.0,304.0 654.5,304.0 654.0,304.0 653.5,304.1 653.0,304.1 652.5,304.1 652.0,304.2 651.5,304.3 651.0,304.3 650.5,304.4 650.0,304.5 649.5,304.6 649.0,304.7 648.5,304.7 648.0,304.8 647.5,304.9 647.0,305.0 646.5,305.1 646.0,305.1 645.5,305.2 645.0,305.3 644.5,305.4 644.0,305.5 643.5,305.5 643.0,305.6 642.5,305.7 642.0,305.8 641.5,305.9 641.0,305.9 640.5,306.0 640.0,306.1 639.5,306.1 639.0,306.1 638.5,306.1 638.0,306.1 637.5,306.1 637.0,306.1 636.5,306.1 636.0,306.1 635.5,306.1 635.0,306.1 634.5,306.1 634.0,306.1 633.5,306.1 633.0,306.1 632.5,306.1 632.0,306.1 631.5,306.1 631.0,306.1 630.5,306.1 630.0,306.1 629.5,305.9 629.0,305.7 628.5,305.4 628.0,305.2 627.5,305.0 627.0,304.8 626.5,304.5 626.0,304.3 625.5,304.1 625.0,303.9 624.5,303.6 624.0,303.4 623.5,303.2 623.0,303.0 622.5,302.7 622.0,302.5 621.5,302.3 621.0,302.1 620.5,301.8 620.0,301.6 619.5,301.7 619.0,301.7 618.5,301.8 618.0,301.9 617.5,301.9 617.0,302.0 616.5,302.0 616.0,302.1 615.5,302.2 615.0,302.2 614.5,302.3 614.0,302.4 613.5,302.4 613.0,302.5 612.5,302.5 612.0,302.6 611.5,302.7 611.0,302.7 610.5,302.8 610.0,302.9 609.5,302.6 609.0,302.4 608.5,302.2 608.0,302.0 607.5,301.7 607.0,301.5 606.5,301.3 606.0,301.1 605.5,300.8 605.0,300.6 604.5,300.4 604.0,300.2 603.5,299.9 603.0,299.7 602.5,299.5 602.0,299.2 601.5,299.0 601.0,298.8 600.5,298.6 600.0,298.4 599.5,298.5 599.0,298.6 598.5,298.7 598.0,298.8 597.5,298.9 597.0,299.0 596.5,299.1 596.0,299.2 595.5,299.2 595.0,299.4 594.5,299.5 594.0,299.6 593.5,299.7 593.0,299.8 592.5,299.9 592.0,300.0 591.5,300.1 591.0,300.2 590.5,300.2 590.0,300.4 589.5,300.4 589.0,300.5 588.5,300.5 588.0,300.6 587.5,300.6 587.0,300.7 586.5,300.7 586.0,300.8 585.5,300.8 585.0,300.9 584.5,300.9 584.0,301.0 583.5,301.0 583.0,301.1 582.5,301.1 582.0,301.2 581.5,301.2 581.0,301.2 580.5,301.3 580.0,301.4 579.5,301.4 579.0,301.5 578.5,301.5 578.0,301.6 577.5,301.6 577.0,301.7 576.5,301.8 576.0,301.8 575.5,301.9 575.0,302.0 574.5,302.1 574.0,302.2 573.5,302.2 573.0,302.3 572.5,302.4 572.0,302.5 571.5,302.6 571.0,302.6 570.5,302.7 570.0,302.8 569.5,302.9 569.0,303.0 568.5,303.0 568.0,303.1 567.5,303.2 567.0,303.3 566.5,303.4 566.0,303.4 565.5,303.5 565.0,303.6 564.5,303.4 564.0,303.3 563.5,303.1 563.0,303.0 562.5,302.8 562.0,302.6 561.5,302.5 561.0,302.3 560.5,302.2 560.0,302.0 559.5,301.8 559.0,301.7 558.5,301.5 558.0,301.4 557.5,301.2 557.0,301.0 556.5,300.9 556.0,300.7 555.5,300.6 555.0,300.4 554.5,300.2 554.0,300.1 553.5,299.9 553.0,299.8 552.5,299.6 552.0,299.7 551.5,299.8 551.0,299.8 550.5,299.9 550.0,300.0 549.5,300.1 549.0,300.2 548.5,300.2 548.0,300.3 547.5,300.4 547.0,300.5 546.5,300.6 546.0,300.6 545.5,300.7 545.0,300.8 544.5,300.9 544.0,301.0 543.5,301.0 543.0,301.1 542.5,301.2 542.0,301.3 541.5,301.4 541.0,301.4 540.5,301.5 540.0,301.6 539.5,301.7 539.0,301.7 538.5,301.8 538.0,301.8 537.5,301.9 537.0,301.9 536.5,302.0 536.0,302.0 535.5,302.1 535.0,302.1 534.5,302.2 534.0,302.2 533.5,302.2 533.0,302.3 532.5,302.4 532.0,302.4 531.5,302.5 531.0,302.5 530.5,302.6 530.0,302.6 529.5,302.7 529.0,302.7 528.5,302.8 528.0,302.8 527.5,302.9 527.0,302.8 526.5,302.7 526.0,302.6 525.5,302.6 525.0,302.5 524.5,302.4 524.0,302.4 523.5,302.3 523.0,302.2 522.5,302.2 522.0,302.1 521.5,302.0 521.0,302.0 520.5,301.9 520.0,301.8 519.5,301.8 519.0,301.7 518.5,301.6 518.0,301.6 517.5,301.7 517.0,301.8 516.5,301.9 516.0,301.9 515.5,302.0 515.0,302.1 514.5,302.2 514.0,302.2 513.5,302.3 513.0,302.4 512.5,302.5 512.0,302.5 511.5,302.6 511.0,302.7 510.5,302.8 510.0,302.8 509.5,302.9 509.0,303.0 508.5,303.1 508.0,303.1 507.5,303.2 507.0,303.3 506.5,303.4 506.0,303.4 505.5,303.5 505.0,303.6 504.5,303.5 504.0,303.4 503.5,303.3 503.0,303.2 502.5,303.1 502.0,303.0 501.5,302.8 501.0,302.7 500.5,302.6 500.0,302.5 499.5,302.4 499.0,302.3 498.5,302.2 498.0,302.1 497.5,302.0 497.0,301.9 496.5,301.8 496.0,301.7 495.5,301.5 495.0,301.4 494.5,301.3 494.0,301.2 493.5,301.1 493.0,301.0 492.5,300.9 492.0,300.8 491.5,300.7 491.0,300.6 490.5,300.5 490.0,300.4 489.5,300.3 489.0,300.2 488.5,300.2 488.0,300.1 487.5,300.1 487.0,300.0 486.5,300.0 486.0,299.9 485.5,299.9 485.0,299.8 484.5,299.8 484.0,299.7 483.5,299.7 483.0,299.6 482.5,299.6 482.0,299.5 481.5,299.5 481.0,299.4 480.5,299.4 480.0,299.3 479.5,299.3 479.0,299.2 478.5,299.2 478.0,299.1 477.5,283.6 477.0,252.6 476.5,252.5 476.0,252.3 475.5,252.2 475.0,252.1 474.5,252.0 474.0,251.8 473.5,251.7 473.0,251.6 472.5,251.6 472.0,251.6 471.5,251.6 471.0,251.6 470.5,251.6 470.0,251.6 469.5,297.9 469.0,297.9 468.5,298.0 468.0,298.1 467.5,298.2 467.0,298.3 466.5,298.4 466.0,298.4 465.5,298.5 465.0,298.6 464.5,298.5 464.0,298.4 463.5,298.3 463.0,298.2 462.5,298.1 462.0,298.0 461.5,297.9 461.0,297.8 460.5,297.7 460.0,297.6 459.5,297.5 459.0,297.4 458.5,297.3 458.0,297.2 457.5,297.1 457.0,297.0 456.5,296.9 456.0,296.8 455.5,296.7 455.0,296.6 454.5,296.4 454.0,296.3 453.5,296.1 453.0,296.0 452.5,295.8 452.0,295.6 451.5,295.5 451.0,295.3 450.5,295.1 450.0,295.0 449.5,294.8 449.0,294.7 448.5,294.5 448.0,294.3 447.5,294.2 447.0,294.0 446.5,293.8 446.0,293.7 445.5,293.5 445.0,293.4 444.5,293.7 444.0,294.1 443.5,294.4 443.0,294.8 442.5,295.1 442.0,295.5 441.5,295.8 441.0,296.2 440.5,296.5 440.0,296.9 439.5,297.2 439.0,297.6 438.5,297.9 438.0,298.2 437.5,298.6 437.0,298.4 436.5,298.2 436.0,297.9 435.5,297.7 435.0,297.5 434.5,297.2 434.0,297.0 433.5,296.8 433.0,296.6 432.5,296.4 432.0,296.1 431.5,295.9 431.0,295.7 430.5,295.5 430.0,295.2 429.5,295.0 429.0,294.8 428.5,294.6 428.0,294.3 427.5,294.1 427.0,294.0 426.5,293.8 426.0,293.7 425.5,293.5 425.0,293.4 424.5,293.2 424.0,293.1 423.5,292.9 423.0,292.8 422.5,292.6 422.0,292.5 421.5,292.3 421.0,292.2 420.5,292.0 420.0,291.9 419.5,291.7 419.0,291.6 418.5,291.4 418.0,291.2 417.5,291.1 417.0,291.0 416.5,290.8 416.0,290.7 415.5,290.5 415.0,290.4 414.5,290.2 414.0,290.0 413.5,289.9 413.0,289.7 412.5,289.6 412.0,289.4 411.5,289.3 411.0,289.1 410.5,262.8 410.0,249.8 409.5,250.2 409.0,250.5 408.5,250.9 408.0,251.3 407.5,251.6 407.0,252.0 406.5,252.4 406.0,252.8 405.5,253.1 405.0,253.5 404.5,253.9 404.0,254.2 403.5,254.6 403.0,255.0 402.5,255.3 402.0,255.3 401.5,255.3 401.0,255.3 400.5,255.3 400.0,255.3 399.5,255.3 399.0,255.3 398.5,255.3 398.0,255.3 397.5,255.3 397.0,255.3 396.5,255.3 396.0,255.3 395.5,255.3 395.0,255.3 394.5,255.3 394.0,255.3 393.5,255.3 393.0,255.3 392.5,255.3 392.0,255.3 391.5,255.3 391.0,255.3 390.5,255.3 390.0,255.3 389.5,255.1 389.0,254.9 388.5,254.7 388.0,254.5 387.5,254.2 387.0,254.0 386.5,253.8 386.0,253.5 385.5,253.3 385.0,253.1 384.5,252.9 384.0,252.7 383.5,252.4 383.0,252.2 382.5,252.0 382.0,251.8 381.5,251.5 381.0,251.3 380.5,251.1 380.0,250.8 379.5,251.2 379.0,251.4 378.5,251.8 378.0,252.0 377.5,252.3 377.0,252.7 376.5,253.0 376.0,253.2 375.5,253.5 375.0,253.8 374.5,254.2 374.0,254.5 373.5,255.4 373.0,257.1 372.5,258.7 372.0,260.4 371.5,262.0 371.0,262.9 370.5,263.1 370.0,263.3 369.5,263.4 369.0,263.6 368.5,263.7 368.0,263.9 367.5,264.1 367.0,264.2 366.5,264.4 366.0,264.6 365.5,231.3 365.0,209.3 364.5,209.8 364.0,210.3 363.5,210.8 363.0,211.2 362.5,211.7 362.0,212.2 361.5,212.7 361.0,213.1 360.5,213.6 360.0,214.1 359.5,214.4 359.0,214.8 358.5,215.1 358.0,215.4 357.5,215.8 357.0,216.1 356.5,216.4 356.0,216.8 355.5,217.1 355.0,217.4 354.5,217.8 354.0,218.1 353.5,218.4 353.0,218.8 352.5,219.1 352.0,218.8 351.5,218.6 351.0,218.3 350.5,218.1 350.0,217.8 349.5,217.6 349.0,217.3 348.5,217.1 348.0,216.8 347.5,216.6 347.0,216.3 346.5,216.1 346.0,215.8 345.5,215.6 345.0,215.3 344.5,215.4 344.0,215.5 343.5,215.5 343.0,215.6 342.5,215.7 342.0,215.7 341.5,215.8 341.0,215.8 340.5,215.9 340.0,216.0 339.5,216.0 339.0,216.1 338.5,216.2 338.0,216.2 337.5,216.3 337.0,216.3 336.5,216.4 336.0,216.5 335.5,216.5 335.0,216.6 334.5,216.9 334.0,217.2 333.5,217.5 333.0,217.7 332.5,218.0 332.0,218.3 331.5,218.6 331.0,218.9 330.5,219.2 330.0,219.5 329.5,219.7 329.0,220.0 328.5,220.3 328.0,220.6 327.5,220.9 327.0,221.2 326.5,221.5 326.0,221.4 325.5,221.0 325.0,220.6 324.5,220.2 324.0,219.8 323.5,219.4 323.0,219.0 322.5,218.6 322.0,218.2 321.5,217.8 321.0,217.4 320.5,217.0 320.0,216.6 319.5,216.8 319.0,216.9 318.5,217.1 318.0,217.3 317.5,217.4 317.0,217.6 316.5,217.8 316.0,217.9 315.5,218.1 315.0,218.3 314.5,218.4 314.0,218.6 313.5,218.8 313.0,218.9 312.5,219.1 312.0,219.5 311.5,219.8 311.0,220.2 310.5,220.6 310.0,220.9 309.5,221.3 309.0,221.7 308.5,222.0 308.0,222.4 307.5,222.8 307.0,223.1 306.5,223.5 306.0,223.9 305.5,224.2 305.0,224.6 304.5,224.4 304.0,224.1 303.5,223.9 303.0,223.7 302.5,223.4 302.0,223.2 301.5,223.0 301.0,222.5 300.5,221.9 300.0,221.3 299.5,220.7 299.0,220.1 298.5,219.5 298.0,218.9 297.5,218.2 297.0,217.6 296.5,217.0 296.0,216.4 295.5,215.8 295.0,215.2 294.5,214.6 294.0,213.9 293.5,213.3 293.0,212.7 292.5,212.1 292.0,212.6 291.5,213.0 291.0,213.5 290.5,214.0 290.0,214.4 289.5,214.9 289.0,215.4 288.5,215.8 288.0,216.3 287.5,216.8 287.0,217.2 286.5,217.7 286.0,218.2 285.5,218.6 285.0,219.1 284.5,218.5 284.0,217.9 283.5,217.3 283.0,216.8 282.5,216.2 282.0,215.6 281.5,215.0 281.0,214.4 280.5,213.8 280.0,213.3 279.5,212.7 279.0,212.1 278.5,211.5 278.0,210.9 277.5,210.3 277.0,210.1 276.5,209.9 276.0,209.7 275.5,209.5 275.0,209.3 274.5,209.0 274.0,208.8 273.5,208.6 273.0,208.4 272.5,208.2 272.0,208.0 271.5,207.8 271.0,207.5 270.5,207.3 270.0,207.1 269.5,206.6 269.0,206.1 268.5,205.6 268.0,205.1 267.5,204.6 267.0,204.1 266.5,203.6 266.0,203.1 265.5,202.6 265.0,202.1 264.5,201.6 264.0,201.1 263.5,200.6 263.0,200.1 262.5,199.6 262.0,200.8 261.5,202.0 261.0,203.2 260.5,204.3 260.0,205.5 259.5,206.7 259.0,207.9 258.5,209.1 258.0,125.3 257.5,125.3 257.0,125.3 256.5,125.3 256.0,125.3 255.5,125.3 255.0,125.3 254.5,125.3 254.0,125.3 253.5,125.3 253.0,125.3 252.5,125.3 252.0,127.1 251.5,128.8 251.0,130.6 250.5,132.3 250.0,134.1 249.5,134.3 249.0,134.4 248.5,134.6 248.0,134.8 247.5,134.9 247.0,135.1 246.5,135.3 246.0,135.2 245.5,134.8 245.0,134.3 244.5,133.9 244.0,133.5 243.5,133.2 243.0,132.8 242.5,132.3 242.0,131.9 241.5,131.5 241.0,131.2 240.5,130.8 240.0,130.3 239.5,130.5 239.0,130.6 238.5,130.7 238.0,130.8 237.5,131.0 237.0,131.1 236.5,131.2 236.0,131.3 235.5,131.5 235.0,131.6 234.5,131.7 234.0,131.8 233.5,132.0 233.0,132.1 232.5,132.2 232.0,132.3 231.5,132.5 231.0,132.6 230.5,132.7 230.0,132.8 229.5,132.8 229.0,132.8 228.5,132.7 228.0,132.7 227.5,132.6 227.0,132.5 226.5,132.5 226.0,132.4 225.5,132.4 225.0,132.3 224.5,132.3 224.0,132.2 223.5,132.2 223.0,132.2 222.5,132.1 222.0,132.0 221.5,132.0 221.0,131.9 220.5,131.9 220.0,131.8 219.5,131.8 219.0,131.8 218.5,131.7 218.0,131.7 217.5,131.6 217.0,131.6 216.5,131.6 216.0,131.6 215.5,131.6 215.0,131.6 214.5,131.6 214.0,131.6 213.5,131.6 213.0,131.6 212.5,131.6 212.0,131.6 211.5,131.6 211.0,131.6 210.5,131.6 210.0,131.6 209.5,131.6 209.0,131.6 208.5,131.6 208.0,131.6 207.5,131.6 207.0,131.6 206.5,131.6 206.0,131.6 205.5,131.6 205.0,131.6 204.5,131.5 204.0,131.5 203.5,131.4 203.0,131.3 202.5,131.2 202.0,131.2 201.5,131.1 201.0,131.0 200.5,131.0 200.0,130.9 199.5,130.8 199.0,130.7 198.5,130.7 198.0,130.6 197.5,130.5 197.0,130.5 196.5,130.4 196.0,130.3 195.5,130.2 195.0,130.2 194.5,130.1 194.0,130.0 193.5,130.0 193.0,129.9 192.5,129.8 192.0,129.7 191.5,129.7 191.0,129.6 190.5,129.5 190.0,129.5 189.5,129.4 189.0,129.3 188.5,129.2 188.0,129.2 187.5,129.1 187.0,128.8 186.5,128.4 186.0,128.1 185.5,127.8 185.0,127.4 184.5,127.1 184.0,126.8 183.5,126.4 183.0,126.1 182.5,125.8 182.0,125.4 181.5,125.1 181.0,124.8 180.5,124.4 180.0,124.1 179.5,123.9 179.0,123.8 178.5,123.6 178.0,123.5 177.5,123.3 177.0,123.2 176.5,123.0 176.0,122.8 175.5,122.7 175.0,122.5 174.5,122.4 174.0,122.2 173.5,122.1 173.0,121.9 172.5,121.8 172.0,121.6 171.5,121.4 171.0,121.3 170.5,121.1 170.0,121.0 169.5,120.8 169.0,120.7 168.5,120.5 168.0,120.3 167.5,124.5 167.0,128.7 166.5,132.8 166.0,132.8 165.5,132.8 165.0,132.7 164.5,132.7 164.0,132.6 163.5,132.6 163.0,132.5 162.5,132.5 162.0,132.4 161.5,132.4 161.0,132.4 160.5,132.3 160.0,132.3 159.5,132.2 159.0,132.2 158.5,132.1 158.0,132.1 157.5,132.0 157.0,132.0 156.5,132.0 156.0,131.9 155.5,131.9 155.0,131.8 154.5,131.8 154.0,131.7 153.5,131.7 153.0,131.6 152.5,131.6 152.0,132.0 151.5,132.3 151.0,132.7 150.5,133.0 150.0,133.4 149.5,133.7 149.0,134.1 148.5,134.5 148.0,134.8 147.5,135.2 147.0,135.5 146.5,135.9 146.0,136.2 145.5,136.6 145.0,136.3 144.5,136.0 144.0,135.8 143.5,135.5 143.0,135.2 142.5,134.9 142.0,134.6 141.5,134.3 141.0,134.1 140.5,133.8 140.0,133.5 139.5,133.2 139.0,132.9 138.5,132.7 138.0,132.4 137.5,132.1 137.0,131.7 136.5,131.4 136.0,131.0 135.5,130.6 135.0,130.3 134.5,129.9 134.0,129.5 133.5,129.2 133.0,128.8 132.5,128.4 132.0,128.1 131.5,127.7 131.0,127.3 130.5,127.0 130.0,126.6 129.5,126.5 129.0,126.4 128.5,126.4 128.0,126.3 127.5,126.2 127.0,126.1 126.5,126.0 126.0,126.0 125.5,125.9 125.0,125.8 124.5,125.7 124.0,125.6 123.5,125.6 123.0,125.5 122.5,125.4 122.0,125.3 121.5,125.2 121.0,125.2 120.5,125.1 120.0,125.0 119.5,124.9 119.0,124.8 118.5,124.8 118.0,124.7 117.5,124.6 117.0,124.6 116.5,124.7 116.0,124.7 115.5,124.7 115.0,124.8 114.5,124.8 114.0,124.8 113.5,124.8 113.0,124.9 112.5,124.9 112.0,124.9 111.5,125.0 111.0,125.0 110.5,125.0 110.0,125.0 109.5,125.1 109.0,125.1 108.5,125.1 108.0,125.2 107.5,125.2 107.0,125.2 106.5,125.3 106.0,125.3 105.5,125.3 105.0,125.3 104.5,125.2 104.0,125.1 103.5,125.0 103.0,124.8 102.5,124.7 102.0,124.6 101.5,124.5 101.0,124.3 100.5,124.2 100.0,124.1 99.5,124.0 99.0,123.8 98.5,123.7 98.0,123.6 97.5,123.5 97.0,123.3 96.5,123.2 96.0,123.1 95.5,123.0 95.0,122.8 94.5,122.5 94.0,122.1 93.5,121.7 93.0,121.3 92.5,121.0 92.0,120.6 91.5,120.2 91.0,119.8 90.5,119.5 90.0,119.1 89.5,118.1 89.0,117.1 88.5,116.1 88.0,115.1 87.5,114.1 87.0,113.1 86.5,112.1 86.0,110.3 85.5,107.8 85.0,105.3 84.5,102.8 84.0,101.6 83.5,101.6" fill="#0072BD" stroke="none"/>
<polyline class="d" points="84.2,100.8 84.3,53.3 84.5,48.8 84.6,104.9 84.8,82.6 84.9,52.7 85.1,45.8 85.2,104.3 85.4,105.4 85.5,87.1 85.7,50.9 85.9,83.2 86.0,113.8 86.2,54.0 86.3,113.8 86.5,50.3 86.6,65.9 86.8,44.6 86.9,108.0 87.1,71.7 87.3,118.1 87.4,99.5 87.6,110.9 87.7,100.2 87.9,89.8 88.0,115.1 88.2,102.3 88.3,64.9 88.5,89.7 88.6,85.7 88.8,88.1 89.0,78.5 89.1,64.4 89.3,85.3 89.4,98.4 89.6,70.0 89.7,105.4 89.9,91.5 90.0,86.0 90.2,66.4 90.4,71.5 90.5,68.5 90.7,71.0 90.8,62.5 91.0,118.2 91.1,118.7 91.3,92.2 91.4,112.9 91.6,89.1 91.8,79.1 91.9,71.3 92.1,67.4 92.2,65.7 92.4,111.0 92.5,63.3 92.7,122.1 92.8,75.7 93.0,121.7 93.1,124.4 93.3,114.0 93.5,70.6 93.6,64.3 93.8,124.6 93.9,100.9 94.1,64.4 94.2,71.9 94.4,96.5 94.5,65.0 94.7,122.4 94.9,121.9 95.0,68.7 95.2,79.6 95.3,66.3 95.5,122.2 95.6,69.6 95.8,122.5 95.9,82.7 96.1,119.5 96.2,126.4 96.4,92.9 96.6,71.3 96.7,102.0 96.9,67.6 97.0,110.1 97.2,74.7 97.3,92.7 97.5,93.4 97.6,115.6 97.8,70.3 98.0,70.9 98.1,91.4 98.3,72.0 98.4,101.4 98.6,125.2 98.7,93.3 98.9,114.2 99.0,87.6 99.2,116.8 99.4,68.8 99.5,85.6 99.7,69.2 99.8,107.4 100.0,108.0 100.1,73.2 100.3,71.7 100.4,105.7 100.6,121.8 100.7,126.2 100.9,107.2 101.1,90.3 101.2,106.1 101.4,90.4 101.5,80.7 101.7,121.6 101.8,79.0 102.0,85.7 102.1,124.8 102.3,93.5 102.5,126.3 102.6,68.6 102.8,113.1 102.9,66.5 103.1,124.4 103.2,120.0 103.4,69.1 103.5,113.7 103.7,75.6 103.8,109.4 104.0,126.5 104.2,87.0 104.3,126.4 104.5,109.8 104.6,117.6 104.8,79.0 104.9,118.9 105.1,71.4 105.2,92.7 105.4,121.0 105.6,99.0 105.7,90.6 105.9,86.0 106.0,107.3 106.2,99.5 106.3,93.7 106.5,90.5 106.6,112.1 106.8,77.5 107.0,126.2 107.1,113.9 107.3,115.4 107.4,122.9 107.6,88.8 107.7,97.1 107.9,66.7 108.0,123.1 108.2,65.2 108.3,68.7 108.5,79.4 108.7,69.4 108.8,74.0 109.0,126.5 109.1,99.9 109.3,92.5 109.4,98.0 109.6,67.4 109.7,65.0 109.9,120.1 110.1,114.5 110.2,75.2 110.4,124.7 110.5,69.0 110.7,76.8 110.8,125.3 111.0,101.9 111.1,95.0 111.3,69.9 111.4,68.7 111.6,80.8 111.8,120.2 111.9,67.2 112.1,101.9 112.2,75.5 112.4,122.5 112.5,120.8 112.7,114.4 112.8,124.4 113.0,119.4 113.2,117.8 113.3,69.4 113.5,125.6 113.6,98.7 113.8,65.7 113.9,123.4 114.1,89.8 114.2,91.2 114.4,127.2 114.6,77.3 114.7,129.1 114.9,119.7 115.0,108.5 115.2,81.3 115.3,111.4 115.5,65.5 115.6,63.4 115.8,126.8 115.9,127.5 116.1,86.4 116.3,124.6 116.4,123.9 116.6,124.9 116.7,117.4 116.9,111.6 117.0,70.7 117.2,97.7 117.3,125.1 117.5,126.0 117.7,115.7 117.8,103.4 118.0,65.3 118.1,100.7 118.3,84.6 118.4,103.5 118.6,96.0 118.7,127.6 118.9,104.8 119.0,102.6 119.2,97.5 119.4,102.6 119.5,113.3 119.7,80.4 119.8,106.7 120.0,132.5 120.1,90.7 120.3,103.6 120.4,125.2 120.6,95.7 120.8,126.9 120.9,67.3 121.1,71.2 121.2,103.4 121.4,67.4 121.5,80.3 121.7,118.6 121.8,85.6 122.0,123.9 122.2,72.8 122.3,126.6 122.5,118.8 122.6,102.4 122.8,124.7 122.9,125.6 123.1,80.3 123.2,90.8 123.4,75.8 123.5,78.3 123.7,100.1 123.9,77.4 124.0,125.6 124.2,126.1 124.3,123.8 124.5,104.2 124.6,94.7 124.8,88.7 124.9,118.3 125.1,126.2 125.3,87.3 125.4,125.2 125.6,89.0 125.7,117.9 125.9,64.4 126.0,67.0 126.2,113.2 126.3,71.6 126.5,80.5 126.6,73.9 126.8,109.0 127.0,90.8 127.1,100.2 127.3,116.5 127.4,118.4 127.6,75.0 127.7,129.4 127.9,130.1 128.0,128.4 128.2,88.4 128.4,63.5 128.5,129.3 128.7,82.6 128.8,103.4 129.0,66.6 129.1,88.3 129.3,114.0 129.4,85.6 129.6,85.8 129.8,73.4 129.9,115.7 130.1,68.4 130.2,65.3 130.4,69.9 130.5,95.8 130.7,80.5 130.8,102.5 131.0,75.9 131.1,108.9 131.3,73.7 131.5,104.9 131.6,68.1 131.8,120.0 131.9,131.4 132.1,119.5 132.2,133.8 132.4,126.5 132.5,121.4 132.7,107.0 132.9,86.7 133.0,99.5 133.2,90.5 133.3,126.0 133.5,76.8 133.6,65.7 133.8,75.1 133.9,84.7 134.1,70.1 134.2,89.8 134.4,126.8 134.6,134.4 134.7,106.6 134.9,90.8 135.0,108.7 135.2,76.5 135.3,119.2 135.5,88.6 135.6,81.0 135.8,131.3 136.0,90.2 136.1,126.8 136.3,135.5 136.4,132.7 136.6,86.2 136.7,137.7 136.9,78.2 137.0,129.7 137.2,77.7 137.4,138.8 137.5,138.1 137.7,71.8 137.8,91.9 138.0,101.8 138.1,134.8 138.3,76.4 138.4,87.7 138.6,132.7 138.7,121.0 138.9,131.5 139.1,123.8 139.2,136.9 139.4,92.6 139.5,136.7 139.7,70.2 139.8,92.7 140.0,76.0 140.1,136.1 140.3,78.0 140.5,120.9 140.6,81.9 140.8,137.6 140.9,103.2 141.1,128.7 141.2,85.0 141.4,137.6 141.5,132.5 141.7,136.1 141.9,134.4 142.0,134.7 142.2,105.1 142.3,124.8 142.5,122.3 142.6,130.6 142.8,105.0 142.9,89.3 143.1,89.8 143.2,129.8 143.4,101.2 143.6,132.1 143.7,129.3 143.9,137.4 144.0,71.4 144.2,105.4 144.3,139.0 144.5,69.8 144.6,101.2 144.8,137.7 145.0,96.9 145.1,126.6 145.3,112.2 145.4,138.4 145.6,139.4 145.7,97.2 145.9,72.8 146.0,123.1 146.2,74.2 146.3,139.6 146.5,123.5 146.7,87.9 146.8,124.4 147.0,70.6 147.1,97.0 147.3,78.4 147.4,138.2 147.6,125.5 147.7,123.6 147.9,99.2 148.1,137.7 148.2,127.2 148.4,129.6 148.5,70.6 148.7,145.0 148.8,123.0 149.0,124.9 149.1,78.7 149.3,119.3 149.5,124.2 149.6,76.8 149.8,90.3 149.9,74.3 150.1,131.5 150.2,124.9 150.4,95.4 150.5,76.3 150.7,79.5 150.8,113.8 151.0,107.0 151.2,105.1 151.3,69.8 151.5,68.3 151.6,113.7 151.8,133.2 151.9,134.9 152.1,100.9 152.2,130.2 152.4,134.8 152.6,80.5 152.7,122.2 152.9,72.8 153.0,116.1 153.2,133.1 153.3,71.1 153.5,78.9 153.6,90.5 153.8,135.1 153.9,130.2 154.1,78.1 154.3,128.9 154.4,71.8 154.6,135.8 154.7,124.8 154.9,96.1 155.0,79.1 155.2,82.6 155.3,112.7 155.5,121.1 155.7,116.4 155.8,74.4 156.0,83.0 156.1,76.1 156.3,121.0 156.4,133.4 156.6,116.8 156.7,122.7 156.9,118.0 157.1,101.2 157.2,82.5 157.4,110.3 157.5,95.2 157.7,135.7 157.8,70.3 158.0,126.6 158.1,87.9 158.3,91.0 158.4,75.9 158.6,71.1 158.8,125.4 158.9,120.7 159.1,121.8 159.2,107.2 159.4,110.2 159.5,131.9 159.7,92.6 159.8,79.5 160.0,136.9 160.2,71.7 160.3,135.8 160.5,130.3 160.6,74.6 160.8,71.2 160.9,109.9 161.1,71.1 161.2,81.6 161.4,131.6 161.5,76.3 161.7,136.4 161.9,97.4 162.0,99.5 162.2,99.2 162.3,132.5 162.5,133.5 162.6,71.9 162.8,71.2 162.9,123.1 163.1,134.1 163.3,124.2 163.4,69.9 163.6,68.5 163.7,134.5 163.9,79.4 164.0,91.1 164.2,73.8 164.3,78.3 164.5,113.8 164.7,89.0 164.8,69.4 165.0,82.4 165.1,128.7 165.3,112.6 165.4,119.4 165.6,125.2 165.7,133.2 165.9,71.7 166.0,113.2 166.2,131.4 166.4,127.0 166.5,73.2 166.7,136.4 166.8,128.0 167.0,88.6 167.1,76.2 167.3,75.5 167.4,123.3 167.6,119.7 167.8,84.7 167.9,72.8 168.1,115.7 168.2,99.5 168.4,61.4 168.5,72.4 168.7,104.5 168.8,68.0 169.0,73.1 169.1,117.4 169.3,121.1 169.5,108.1 169.6,112.7 169.8,122.6 169.9,118.8 170.1,120.0 170.2,85.1 170.4,70.9 170.5,114.6 170.7,120.4 170.9,61.9 171.0,80.5 171.2,58.3 171.3,119.7 171.5,93.0 171.6,88.8 171.8,120.0 171.9,125.9 172.1,123.3 172.3,64.6 172.4,55.3 172.6,72.7 172.7,118.3 172.9,67.0 173.0,58.5 173.2,63.0 173.3,84.9 173.5,121.5 173.6,105.1 173.8,96.4 174.0,84.5 174.1,81.7 174.3,61.9 174.4,112.0 174.6,120.9 174.7,61.7 174.9,78.5 175.0,117.2 175.2,124.0 175.4,116.2 175.5,84.3 175.7,93.8 175.8,71.4 176.0,78.3 176.1,101.7 176.3,120.7 176.4,121.6 176.6,123.5 176.7,121.5 176.9,119.3 177.1,62.2 177.2,76.5 177.4,105.9 177.5,93.2 177.7,125.4 177.8,83.6 178.0,125.0 178.1,122.3 178.3,63.9 178.5,125.6 178.6,105.6 178.8,79.2 178.9,123.2 179.1,100.7 179.2,78.1 179.4,118.0 179.5,78.2 179.7,102.5 179.9,124.1 180.0,87.2 180.2,126.8 180.3,124.2 180.5,84.7 180.6,71.1 180.8,88.7 180.9,125.4 181.1,66.9 181.2,109.4 181.4,88.2 181.6,127.2 181.7,119.9 181.9,81.6 182.0,116.8 182.2,63.9 182.3,108.8 182.5,69.3 182.6,107.8 182.8,70.2 183.0,61.3 183.1,70.9 183.3,96.1 183.4,90.7 183.6,129.0 183.7,73.1 183.9,111.0 184.0,125.7 184.2,93.2 184.3,128.6 184.5,109.0 184.7,125.9 184.8,86.2 185.0,125.1 185.1,67.0 185.3,69.1 185.4,69.8 185.6,132.1 185.7,128.1 185.9,97.4 186.1,65.9 186.2,78.3 186.4,99.1 186.5,99.4 186.7,100.6 186.8,80.8 187.0,125.8 187.1,91.4 187.3,110.2 187.5,97.3 187.6,133.0 187.8,134.9 187.9,133.2 188.1,67.9 188.2,91.7 188.4,118.1 188.5,124.6 188.7,69.6 188.8,85.2 189.0,67.7 189.2,114.9 189.3,76.5 189.5,80.5 189.6,72.5 189.8,129.3 189.9,128.0 190.1,67.9 190.2,72.9 190.4,86.1 190.6,67.6 190.7,69.3 190.9,67.3 191.0,95.5 191.2,129.7 191.3,84.9 191.5,70.8 191.6,75.7 191.8,108.3 192.0,68.1 192.1,119.6 192.3,91.6 192.4,68.7 192.6,127.7 192.7,107.8 192.9,127.4 193.0,95.5 193.2,103.3 193.3,133.3 193.5,107.6 193.7,130.4 193.8,113.6 194.0,69.3 194.1,90.0 194.3,82.1 194.4,130.4 194.6,106.0 194.7,122.9 194.9,99.8 195.1,123.4 195.2,124.7 195.4,132.5 195.5,87.4 195.7,87.7 195.8,136.9 196.0,133.1 196.1,89.6 196.3,129.7 196.4,68.2 196.6,70.6 196.8,68.7 196.9,106.8 197.1,66.0 197.2,84.5 197.4,133.5 197.5,95.2 197.7,67.6 197.8,115.2 198.0,67.8 198.2,129.9 198.3,123.3 198.5,112.5 198.6,130.2 198.8,132.2 198.9,104.3 199.1,103.2 199.2,121.2 199.4,79.6 199.6,108.3 199.7,130.9 199.9,102.4 200.0,118.8 200.2,124.3 200.3,105.7 200.5,135.0 200.6,131.3 200.8,123.7 200.9,69.3 201.1,134.9 201.3,105.1 201.4,126.1 201.6,136.2 201.7,107.7 201.9,94.8 202.0,69.3 202.2,89.8 202.3,132.8 202.5,68.7 202.7,114.2 202.8,67.4 203.0,127.0 203.1,70.7 203.3,123.4 203.4,70.9 203.6,113.6 203.7,75.9 203.9,95.1 204.0,133.0 204.2,75.7 204.4,96.8 204.5,135.7 204.7,75.0 204.8,68.2 205.0,67.2 205.1,127.2 205.3,136.0 205.4,96.1 205.6,124.0 205.8,130.9 205.9,125.5 206.1,112.7 206.2,130.7 206.4,133.8 206.5,129.8 206.7,124.4 206.8,90.0 207.0,134.3 207.2,73.8 207.3,104.8 207.5,136.1 207.6,66.5 207.8,77.0 207.9,74.4 208.1,99.9 208.2,77.9 208.4,131.4 208.5,89.0 208.7,87.0 208.9,68.6 209.0,128.9 209.2,114.8 209.3,102.0 209.5,68.1 209.6,93.6 209.8,108.8 209.9,74.3 210.1,128.3 210.3,127.7 210.4,91.8 210.6,130.3 210.7,125.6 210.9,64.9 211.0,105.5 211.2,70.6 211.3,82.4 211.5,71.5 211.6,69.4 211.8,80.9 212.0,102.1 212.1,108.4 212.3,78.5 212.4,126.8 212.6,75.3 212.7,128.7 212.9,73.8 213.0,87.6 213.2,88.0 213.4,129.6 213.5,74.0 213.7,102.6 213.8,128.9 214.0,96.8 214.1,126.0 214.3,123.9 214.4,116.4 214.6,116.3 214.8,74.0 214.9,67.9 215.1,113.8 215.2,121.0 215.4,135.1 215.5,92.1 215.7,122.8 215.8,76.2 216.0,114.8 216.1,69.0 216.3,70.8 216.5,133.0 216.6,134.1 216.8,90.5 216.9,84.9 217.1,108.9 217.2,67.2 217.4,119.6 217.5,133.8 217.7,78.7 217.9,126.7 218.0,131.6 218.2,128.1 218.3,116.7 218.5,87.5 218.6,120.8 218.8,133.6 218.9,127.8 219.1,74.0 219.2,108.2 219.4,89.6 219.6,85.6 219.7,113.7 219.9,79.0 220.0,77.2 220.2,126.8 220.3,76.7 220.5,71.7 220.6,99.2 220.8,76.9 221.0,85.7 221.1,96.2 221.3,100.2 221.4,116.2 221.6,99.1 221.7,75.6 221.9,74.1 222.0,70.5 222.2,93.4 222.4,73.9 222.5,122.5 222.7,130.4 222.8,115.9 223.0,77.4 223.1,132.6 223.3,109.0 223.4,93.5 223.6,68.4 223.7,120.8 223.9,68.9 224.1,123.9 224.2,86.6 224.4,91.8 224.5,68.3 224.7,109.9 224.8,78.0 225.0,103.9 225.1,85.8 225.3,81.8 225.5,81.8 225.6,134.9 225.8,109.7 225.9,93.2 226.1,119.6 226.2,70.2 226.4,67.7 226.5,92.4 226.7,67.9 226.8,69.3 227.0,88.1 227.2,127.7 227.3,70.7 227.5,72.0 227.6,131.5 227.8,101.0 227.9,106.0 228.1,75.1 228.2,76.3 228.4,118.6 228.6,75.1 228.7,70.7 228.9,98.4 229.0,65.6 229.2,63.6 229.3,73.9 229.5,108.6 229.6,130.9 229.8,60.8 230.0,77.5 230.1,71.4 230.3,128.5 230.4,86.7 230.6,136.0 230.7,128.4 230.9,59.1 231.0,136.0 231.2,91.2 231.3,63.4 231.5,103.2 231.7,54.7 231.8,55.3 232.0,71.8 232.1,54.9 232.3,66.7 232.4,63.5 232.6,60.9 232.7,131.0 232.9,78.4 233.1,104.5 233.2,98.5 233.4,88.4 233.5,65.0 233.7,82.9 233.8,86.6 234.0,54.8 234.1,57.8 234.3,54.4 234.4,65.3 234.6,85.8 234.8,98.1 234.9,135.3 235.1,108.9 235.2,121.7 235.4,56.3 235.5,124.9 235.7,130.3 235.8,94.9 236.0,134.0 236.2,58.1 236.3,57.4 236.5,132.0 236.6,84.5 236.8,109.5 236.9,122.0 237.1,125.7 237.2,108.5 237.4,78.7 237.6,104.6 237.7,97.9 237.9,89.3 238.0,108.0 238.2,56.8 238.3,135.5 238.5,58.5 238.6,109.3 238.8,110.1 238.9,55.2 239.1,110.7 239.3,58.9 239.4,77.4 239.6,59.0 239.7,99.9 239.9,110.9 240.0,119.5 240.2,133.7 240.3,87.7 240.5,134.2 240.7,76.6 240.8,127.4 241.0,130.9 241.1,129.9 241.3,62.4 241.4,59.2 241.6,95.9 241.7,58.8 241.9,117.9 242.1,100.5 242.2,119.9 242.4,119.8 242.5,129.2 242.7,101.1 242.8,84.0 243.0,114.4 243.1,69.4 243.3,113.5 243.4,67.8 243.6,137.2 243.8,124.6 243.9,119.0 244.1,65.2 244.2,75.1 244.4,136.3 244.5,136.4 244.7,133.5 244.8,109.1 245.0,98.3 245.2,61.7 245.3,131.9 245.5,81.0 245.6,116.5 245.8,106.7 245.9,59.6 246.1,72.0 246.2,129.6 246.4,82.1 246.5,120.1 246.7,98.2 246.9,91.2 247.0,123.3 247.2,71.1 247.3,140.1 247.5,101.7 247.6,125.4 247.8,111.2 247.9,92.9 248.1,64.2 248.3,62.0 248.4,93.8 248.6,74.2 248.7,105.6 248.9,86.6 249.0,83.3 249.2,134.6 249.3,78.4 249.5,122.2 249.7,109.6 249.8,61.4 250.0,63.4 250.1,79.6 250.3,122.9 250.4,70.9 250.6,65.3 250.7,131.3 250.9,96.6 251.0,120.5 251.2,71.9 251.4,56.9 251.5,126.8 251.7,105.2 251.8,129.8 252.0,60.5 252.1,106.0 252.3,87.8 252.4,63.2 252.6,75.4 252.8,57.7 252.9,125.6 253.1,88.8 253.2,110.0 253.4,87.2 253.5,126.5 253.7,118.5 253.8,101.1 254.0,130.2 254.1,57.3 254.3,92.8 254.5,122.8 254.6,58.3 254.8,121.2 254.9,98.8 255.1,63.1 255.2,77.3 255.4,111.2 255.5,81.0 255.7,107.6 255.9,69.8 256.0,121.5 256.2,77.4 256.3,96.1 256.5,85.3 256.6,129.0 256.8,82.2 256.9,111.5 257.1,119.1 257.3,110.7 257.4,64.2 257.6,112.2 257.7,73.7 257.9,61.5 258.0,64.4 258.2,156.0 258.3,138.9 258.5,178.5 258.6,187.2 258.8,182.9 259.0,188.3 259.1,171.2 259.3,168.5 259.4,178.1 259.6,182.4 259.7,172.9 259.9,208.4 260.0,164.4 260.2,203.1 260.4,180.5 260.5,191.6 260.7,172.5 260.8,194.8 261.0,180.0 261.1,196.7 261.3,193.8 261.4,195.9 261.6,186.1 261.7,201.1 261.9,168.5 262.1,164.5 262.2,172.4 262.4,165.5 262.5,165.4 262.7,177.8 262.8,169.3 263.0,166.9 263.1,181.8 263.3,166.7 263.5,193.6 263.6,195.8 263.8,177.9 263.9,201.5 264.1,200.5 264.2,173.1 264.4,165.4 264.5,178.4 264.7,174.4 264.9,202.4 265.0,170.5 265.2,198.6 265.3,190.4 265.5,167.5 265.6,200.7 265.8,178.2 265.9,205.5 266.1,186.6 266.2,169.1 266.4,179.2 266.6,201.4 266.7,202.3 266.9,202.2 267.0,180.4 267.2,182.4 267.3,183.2 267.5,177.6 267.6,190.7 267.8,175.9 268.0,174.0 268.1,197.7 268.3,183.3 268.4,178.0 268.6,181.4 268.7,202.7 268.9,203.4 269.0,199.9 269.2,194.4 269.3,191.9 269.5,175.8 269.7,192.7 269.8,207.8 270.0,222.0 270.1,197.4 270.3,206.8 270.4,198.2 270.6,177.5 270.7,204.5 270.9,211.4 271.1,185.5 271.2,183.1 271.4,186.9 271.5,211.0 271.7,209.1 271.8,175.7 272.0,206.8 272.1,190.4 272.3,180.6 272.5,210.9 272.6,180.1 272.8,178.0 272.9,187.4 273.1,205.5 273.2,178.2 273.4,195.3 273.5,184.9 273.7,203.8 273.8,202.4 274.0,201.4 274.2,179.6 274.3,198.7 274.5,178.6 274.6,180.1 274.8,184.4 274.9,179.4 275.1,206.0 275.2,196.2 275.4,198.2 275.6,181.1 275.7,186.4 275.9,203.9 276.0,202.2 276.2,199.4 276.3,178.7 276.5,214.8 276.6,176.6 276.8,180.9 276.9,208.3 277.1,181.8 277.3,182.2 277.4,214.3 277.6,181.9 277.7,181.7 277.9,185.7 278.0,181.1 278.2,186.2 278.3,185.0 278.5,211.8 278.7,212.2 278.8,181.8 279.0,183.8 279.1,202.6 279.3,183.7 279.4,182.3 279.6,206.2 279.7,215.2 279.9,172.1 280.1,218.5 280.2,211.0 280.4,180.6 280.5,211.6 280.7,219.5 280.8,212.2 281.0,190.1 281.1,183.6 281.3,201.0 281.4,185.4 281.6,200.7 281.8,195.6 281.9,187.4 282.1,217.1 282.2,218.8 282.4,190.7 282.5,204.5 282.7,221.6 282.8,189.6 283.0,190.7 283.2,214.6 283.3,205.3 283.5,195.5 283.6,193.9 283.8,219.2 283.9,211.7 284.1,204.1 284.2,209.9 284.4,210.5 284.5,222.3 284.7,206.1 284.9,210.2 285.0,213.6 285.2,198.2 285.3,200.4 285.5,196.2 285.6,206.0 285.8,218.5 285.9,211.8 286.1,180.3 286.3,218.9 286.4,188.3 286.6,190.1 286.7,209.1 286.9,218.0 287.0,187.4 287.2,200.6 287.3,211.6 287.5,212.0 287.7,188.0 287.8,207.8 288.0,199.4 288.1,199.3 288.3,210.1 288.4,213.0 288.6,195.9 288.7,193.3 288.9,203.2 289.0,193.4 289.2,188.1 289.4,198.2 289.5,190.4 289.7,200.9 289.8,188.5 290.0,218.4 290.1,197.1 290.3,191.7 290.4,212.5 290.6,186.0 290.8,193.4 290.9,191.0 291.1,198.1 291.2,213.4 291.4,212.2 291.5,210.2 291.7,216.0 291.8,192.0 292.0,200.5 292.1,206.8 292.3,207.9 292.5,188.3 292.6,209.3 292.8,197.9 292.9,211.6 293.1,189.3 293.2,214.6 293.4,193.5 293.5,205.5 293.7,195.5 293.9,216.2 294.0,206.3 294.2,183.1 294.3,190.2 294.5,213.4 294.6,184.5 294.8,200.6 294.9,200.9 295.1,214.8 295.3,184.4 295.4,197.4 295.6,215.5 295.7,185.1 295.9,204.8 296.0,200.3 296.2,203.1 296.3,217.3 296.5,215.3 296.6,212.4 296.8,201.4 297.0,186.2 297.1,191.3 297.3,184.7 297.4,186.3 297.6,200.7 297.7,206.3 297.9,206.6 298.0,205.3 298.2,191.1 298.4,195.9 298.5,189.1 298.7,189.8 298.8,200.0 299.0,219.5 299.1,191.1 299.3,226.9 299.4,222.7 299.6,206.2 299.8,202.7 299.9,202.1 300.1,193.1 300.2,225.7 300.4,196.6 300.5,226.4 300.7,214.9 300.8,189.2 301.0,191.0 301.1,207.2 301.3,177.5 301.5,220.3 301.6,193.5 301.8,195.1 301.9,222.8 302.1,215.4 302.2,185.7 302.4,192.7 302.5,230.9 302.7,189.5 302.9,203.7 303.0,210.6 303.2,209.4 303.3,211.7 303.5,200.6 303.6,225.9 303.8,194.0 303.9,216.9 304.1,215.0 304.2,188.9 304.4,190.0 304.6,191.1 304.7,196.5 304.9,194.2 305.0,223.4 305.2,194.3 305.3,224.4 305.5,200.9 305.6,223.3 305.8,213.9 306.0,209.2 306.1,204.2 306.3,221.9 306.4,190.5 306.6,208.6 306.7,225.4 306.9,193.9 307.0,195.8 307.2,189.0 307.4,185.4 307.5,174.5 307.7,223.8 307.8,206.9 308.0,217.8 308.1,183.2 308.3,214.3 308.4,184.2 308.6,188.4 308.7,185.1 308.9,200.9 309.1,214.6 309.2,186.8 309.4,214.3 309.5,186.7 309.7,220.7 309.8,206.6 310.0,186.7 310.1,190.8 310.3,217.5 310.5,190.2 310.6,218.2 310.8,202.0 310.9,217.5 311.1,198.9 311.2,217.3 311.4,226.4 311.5,184.9 311.7,193.6 311.8,201.9 312.0,189.8 312.2,216.6 312.3,185.6 312.5,209.6 312.6,190.6 312.8,188.6 312.9,213.9 313.1,221.1 313.2,209.8 313.4,185.6 313.6,183.2 313.7,183.5 313.9,189.9 314.0,184.1 314.2,186.5 314.3,182.9 314.5,185.4 314.6,203.6 314.8,182.1 315.0,181.2 315.1,203.2 315.3,221.8 315.4,215.6 315.6,212.2 315.7,208.8 315.9,190.7 316.0,177.9 316.2,184.3 316.3,202.5 316.5,223.0 316.7,210.5 316.8,194.5 317.0,219.0 317.1,218.0 317.3,220.3 317.4,185.9 317.6,219.8 317.7,192.3 317.9,216.4 318.1,193.2 318.2,182.9 318.4,182.5 318.5,199.4 318.7,191.9 318.8,218.6 319.0,224.9 319.1,178.9 319.3,179.3 319.4,220.6 319.6,221.2 319.8,213.1 319.9,182.1 320.1,162.5 320.2,192.1 320.4,181.6 320.5,182.6 320.7,179.3 320.8,188.8 321.0,205.1 321.2,220.6 321.3,215.8 321.5,213.8 321.6,195.4 321.8,219.4 321.9,193.3 322.1,204.1 322.2,215.9 322.4,216.7 322.6,189.5 322.7,182.5 322.9,182.6 323.0,187.5 323.2,188.1 323.3,193.1 323.5,213.6 323.6,207.9 323.8,170.0 323.9,179.7 324.1,209.7 324.3,182.1 324.4,194.4 324.6,189.7 324.7,186.9 324.9,203.4 325.0,181.7 325.2,186.2 325.3,194.3 325.5,222.5 325.7,213.6 325.8,187.9 326.0,216.8 326.1,198.7 326.3,221.3 326.4,220.1 326.6,194.2 326.7,216.7 326.9,204.8 327.0,176.2 327.2,180.4 327.4,182.0 327.5,201.1 327.7,213.0 327.8,195.5 328.0,215.4 328.1,188.4 328.3,226.4 328.4,212.8 328.6,184.0 328.8,187.0 328.9,209.2 329.1,220.2 329.2,196.0 329.4,209.2 329.5,186.6 329.7,188.8 329.8,202.9 330.0,196.7 330.2,181.5 330.3,221.3 330.5,216.7 330.6,210.2 330.8,193.8 330.9,185.2 331.1,220.2 331.2,216.3 331.4,203.8 331.5,221.8 331.7,188.5 331.9,213.4 332.0,188.4 332.2,185.2 332.3,220.8 332.5,160.0 332.6,191.9 332.8,219.3 332.9,218.6 333.1,201.0 333.3,223.0 333.4,183.6 333.6,182.9 333.7,217.9 333.9,183.2 334.0,214.0 334.2,199.6 334.3,218.4 334.5,195.0 334.6,199.0 334.8,215.5 335.0,185.5 335.1,216.2 335.3,216.2 335.4,219.0 335.6,219.1 335.7,195.4 335.9,211.7 336.0,182.6 336.2,217.0 336.4,180.2 336.5,214.2 336.7,178.4 336.8,218.7 337.0,224.4 337.1,190.1 337.3,214.1 337.4,204.6 337.6,218.4 337.8,219.5 337.9,202.9 338.1,179.1 338.2,207.6 338.4,186.0 338.5,215.3 338.7,195.6 338.8,204.6 339.0,184.9 339.1,218.3 339.3,190.3 339.5,206.5 339.6,216.9 339.8,217.7 339.9,182.1 340.1,194.9 340.2,189.2 340.4,215.0 340.5,206.7 340.7,215.3 340.9,194.3 341.0,201.4 341.2,188.4 341.3,187.0 341.5,187.6 341.6,198.1 341.8,216.9 341.9,206.6 342.1,211.5 342.2,219.0 342.4,189.2 342.6,184.8 342.7,183.7 342.9,186.3 343.0,187.1 343.2,188.8 343.3,193.5 343.5,217.4 343.6,215.6 343.8,221.3 344.0,186.1 344.1,210.0 344.3,190.8 344.4,189.7 344.6,214.1 344.7,213.5 344.9,220.7 345.0,198.1 345.2,211.1 345.4,216.1 345.5,179.9 345.7,197.3 345.8,201.5 346.0,188.0 346.1,213.2 346.3,189.4 346.4,213.0 346.6,214.0 346.7,206.7 346.9,210.1 347.1,180.7 347.2,213.8 347.4,185.9 347.5,216.5 347.7,218.2 347.8,198.0 348.0,189.2 348.1,197.7 348.3,222.4 348.5,220.4 348.6,219.6 348.8,197.2 348.9,188.6 349.1,207.5 349.2,217.5 349.4,207.2 349.5,213.7 349.7,203.0 349.9,223.1 350.0,187.3 350.2,208.2 350.3,188.2 350.5,213.4 350.6,195.9 350.8,186.2 350.9,191.0 351.1,190.7 351.2,183.4 351.4,195.9 351.6,195.3 351.7,187.4 351.9,202.1 352.0,195.0 352.2,205.8 352.3,222.5 352.5,223.9 352.6,183.1 352.8,193.0 353.0,218.4 353.1,218.1 353.3,217.5 353.4,190.4 353.6,210.3 353.7,198.6 353.9,194.5 354.0,192.5 354.2,205.4 354.3,186.4 354.5,199.4 354.7,214.9 354.8,203.9 355.0,185.2 355.1,195.2 355.3,216.3 355.4,204.2 355.6,203.1 355.7,218.2 355.9,184.5 356.1,203.1 356.2,199.6 356.4,202.3 356.5,186.9 356.7,219.3 356.8,221.6 357.0,199.6 357.1,210.3 357.3,218.4 357.5,194.9 357.6,200.1 357.8,199.9 357.9,192.2 358.1,214.2 358.2,213.9 358.4,205.0 358.5,211.1 358.7,213.6 358.8,211.7 359.0,215.0 359.2,217.1 359.3,204.5 359.5,209.1 359.6,204.2 359.8,214.1 359.9,204.0 360.1,210.2 360.2,205.4 360.4,190.4 360.6,214.1 360.7,215.1 360.9,204.3 361.0,188.4 361.2,205.7 361.3,215.1 361.5,214.9 361.6,215.0 361.8,182.6 361.9,172.0 362.1,209.1 362.3,185.9 362.4,182.4 362.6,184.0 362.7,213.2 362.9,198.0 363.0,208.7 363.2,204.7 363.3,190.6 363.5,204.8 363.7,193.1 363.8,185.6 364.0,184.3 364.1,209.5 364.3,209.2 364.4,201.6 364.6,189.2 364.7,195.2 364.9,212.2 365.1,203.9 365.2,207.9 365.4,216.7 365.5,204.8 365.7,232.2 365.8,226.0 366.0,250.4 366.1,264.8 366.3,228.5 366.4,235.4 366.6,223.1 366.8,225.8 366.9,242.0 367.1,233.4 367.2,234.1 367.4,268.8 367.5,215.0 367.7,230.3 367.8,226.9 368.0,232.3 368.2,239.7 368.3,254.7 368.5,253.9 368.6,264.0 368.8,253.4 368.9,266.9 369.1,224.4 369.2,267.8 369.4,231.4 369.5,262.1 369.7,224.4 369.9,229.7 370.0,226.6 370.2,242.5 370.3,225.4 370.5,238.9 370.6,223.2 370.8,244.8 370.9,220.9 371.1,265.2 371.3,207.5 371.4,222.4 371.6,231.5 371.7,256.8 371.9,215.7 372.0,219.1 372.2,264.9 372.3,240.8 372.5,259.3 372.7,219.5 372.8,251.8 373.0,231.8 373.1,224.7 373.3,214.2 373.4,242.7 373.6,250.7 373.7,221.1 373.9,245.6 374.0,230.5 374.2,236.1 374.4,234.5 374.5,241.2 374.7,231.6 374.8,223.5 375.0,218.9 375.1,223.4 375.3,256.9 375.4,228.4 375.6,226.2 375.8,247.4 375.9,225.0 376.1,256.9 376.2,235.2 376.4,214.8 376.5,226.5 376.7,227.6 376.8,235.5 377.0,221.6 377.1,244.4 377.3,220.1 377.5,250.2 377.6,222.1 377.8,251.1 377.9,220.2 378.1,238.8 378.2,224.2 378.4,218.2 378.5,217.5 378.7,231.5 378.9,237.0 379.0,232.7 379.2,226.6 379.3,234.2 379.5,249.4 379.6,249.0 379.8,220.0 379.9,245.4 380.1,214.2 380.3,233.3 380.4,236.8 380.6,222.7 380.7,252.8 380.9,217.4 381.0,216.5 381.2,227.4 381.3,230.6 381.5,220.9 381.6,238.3 381.8,233.0 382.0,218.0 382.1,251.8 382.3,221.1 382.4,250.1 382.6,251.8 382.7,230.9 382.9,225.3 383.0,220.2 383.2,253.0 383.4,255.8 383.5,253.1 383.7,247.0 383.8,237.9 384.0,244.3 384.1,217.4 384.3,219.3 384.4,244.0 384.6,249.1 384.7,215.6 384.9,233.3 385.1,235.6 385.2,227.4 385.4,255.8 385.5,228.5 385.7,224.6 385.8,226.2 386.0,232.0 386.1,251.2 386.3,238.6 386.5,241.4 386.6,253.9 386.8,227.0 386.9,234.9 387.1,215.3 387.2,257.4 387.4,216.5 387.5,254.9 387.7,253.3 387.9,257.1 388.0,216.9 388.2,216.6 388.3,243.5 388.5,235.6 388.6,220.0 388.8,217.0 388.9,223.9 389.1,253.1 389.2,246.2 389.4,228.9 389.6,254.7 389.7,216.3 389.9,254.1 390.0,214.2 390.2,221.1 390.3,242.6 390.5,224.8 390.6,227.7 390.8,221.9 391.0,241.2 391.1,240.8 391.3,244.0 391.4,225.3 391.6,250.1 391.7,252.0 391.9,217.7 392.0,223.3 392.2,230.4 392.3,214.8 392.5,227.5 392.7,235.8 392.8,228.2 393.0,245.7 393.1,256.5 393.3,216.4 393.4,259.4 393.6,242.7 393.7,219.0 393.9,236.2 394.1,232.5 394.2,256.0 394.4,258.0 394.5,245.2 394.7,255.5 394.8,235.4 395.0,241.9 395.1,217.7 395.3,222.7 395.5,243.3 395.6,221.3 395.8,225.2 395.9,257.6 396.1,220.1 396.2,258.7 396.4,255.1 396.5,213.1 396.7,237.9 396.8,228.5 397.0,254.7 397.2,216.2 397.3,240.7 397.5,248.9 397.6,225.3 397.8,224.0 397.9,215.9 398.1,246.4 398.2,230.6 398.4,216.9 398.6,248.4 398.7,243.9 398.9,216.8 399.0,251.1 399.2,234.7 399.3,225.5 399.5,216.5 399.6,231.7 399.8,256.5 400.0,252.7 400.1,258.8 400.3,240.4 400.4,247.5 400.6,219.0 400.7,258.9 400.9,221.4 401.0,260.4 401.2,253.0 401.3,220.6 401.5,257.4 401.7,214.1 401.8,223.0 402.0,257.9 402.1,252.9 402.3,233.9 402.4,257.2 402.6,243.7 402.7,238.7 402.9,223.9 403.1,253.1 403.2,251.8 403.4,254.4 403.5,253.8 403.7,254.3 403.8,216.7 404.0,219.9 404.1,227.2 404.3,243.3 404.4,246.7 404.6,233.3 404.8,245.9 404.9,217.0 405.1,255.3 405.2,218.3 405.4,218.6 405.5,242.0 405.7,222.8 405.8,246.6 406.0,250.5 406.2,218.5 406.3,251.2 406.5,215.8 406.6,243.8 406.8,256.1 406.9,255.4 407.1,237.3 407.2,216.7 407.4,242.0 407.6,249.1 407.7,249.0 407.9,244.5 408.0,214.5 408.2,245.3 408.3,222.8 408.5,233.7 408.6,223.2 408.8,215.0 408.9,227.6 409.1,245.8 409.3,241.0 409.4,239.6 409.6,226.1 409.7,218.9 409.9,214.9 410.0,245.3 410.2,247.8 410.3,242.9 410.5,244.7 410.7,258.5 410.8,261.4 411.0,283.0 411.1,269.0 411.3,282.4 411.4,286.1 411.6,271.3 411.7,271.8 411.9,291.9 412.0,267.9 412.2,281.3 412.4,295.4 412.5,291.6 412.7,275.3 412.8,293.5 413.0,293.3 413.1,287.1 413.3,289.9 413.4,295.5 413.6,293.5 413.8,271.0 413.9,296.5 414.1,293.1 414.2,271.9 414.4,265.1 414.5,292.1 414.7,273.5 414.8,265.1 415.0,290.0 415.2,291.4 415.3,279.2 415.5,282.4 415.6,284.8 415.8,264.8 415.9,274.4 416.1,292.6 416.2,270.8 416.4,293.9 416.5,277.1 416.7,271.4 416.9,271.1 417.0,271.2 417.2,283.9 417.3,275.1 417.5,270.1 417.6,285.7 417.8,290.7 417.9,293.2 418.1,273.4 418.3,294.1 418.4,280.8 418.6,285.3 418.7,284.2 418.9,262.4 419.0,274.2 419.2,291.9 419.3,290.6 419.5,294.6 419.6,267.2 419.8,292.4 420.0,271.0 420.1,283.3 420.3,285.6 420.4,291.1 420.6,293.3 420.7,266.2 420.9,271.9 421.0,288.4 421.2,276.0 421.4,271.8 421.5,267.5 421.7,292.3 421.8,291.6 422.0,288.1 422.1,272.3 422.3,267.0 422.4,265.7 422.6,262.6 422.8,287.9 422.9,266.0 423.1,285.8 423.2,275.5 423.4,280.3 423.5,280.4 423.7,265.5 423.8,281.4 424.0,279.7 424.1,268.2 424.3,286.6 424.5,272.3 424.6,279.9 424.8,291.1 424.9,268.4 425.1,293.4 425.2,292.2 425.4,269.5 425.5,267.2 425.7,283.6 425.9,271.0 426.0,291.6 426.2,285.4 426.3,277.1 426.5,291.6 426.6,284.3 426.8,275.8 426.9,270.1 427.1,280.2 427.2,277.6 427.4,271.9 427.6,299.4 427.7,275.4 427.9,273.5 428.0,274.8 428.2,295.2 428.3,267.2 428.5,298.6 428.6,284.6 428.8,286.5 429.0,275.2 429.1,300.7 429.3,295.6 429.4,271.9 429.6,279.8 429.7,266.6 429.9,301.3 430.0,271.6 430.2,286.9 430.4,267.7 430.5,266.9 430.7,291.6 430.8,283.6 431.0,287.6 431.1,293.3 431.3,239.2 431.4,274.3 431.6,269.5 431.7,269.5 431.9,276.7 432.1,300.3 432.2,303.1 432.4,281.2 432.5,285.7 432.7,276.6 432.8,276.8 433.0,303.3 433.1,303.4 433.3,280.4 433.5,289.8 433.6,271.8 433.8,295.6 433.9,294.8 434.1,281.4 434.2,281.8 434.4,271.3 434.5,280.4 434.7,273.8 434.8,270.7 435.0,295.8 435.2,295.2 435.3,273.8 435.5,293.0 435.6,293.2 435.8,248.0 435.9,271.7 436.1,298.9 436.2,268.0 436.4,278.5 436.6,298.2 436.7,295.7 436.9,271.6 437.0,302.8 437.2,285.1 437.3,278.3 437.5,280.9 437.6,296.5 437.8,284.8 438.0,271.2 438.1,299.0 438.3,296.1 438.4,283.7 438.6,271.9 438.7,294.6 438.9,295.6 439.0,296.0 439.2,297.7 439.3,299.1 439.5,303.5 439.7,296.3 439.8,301.8 440.0,285.6 440.1,297.3 440.3,297.3 440.4,284.8 440.6,276.9 440.7,274.1 440.9,297.1 441.1,284.8 441.2,289.5 441.4,275.1 441.5,278.4 441.7,276.8 441.8,272.6 442.0,293.1 442.1,287.6 442.3,267.8 442.4,269.7 442.6,297.6 442.8,269.1 442.9,298.4 443.1,275.3 443.2,281.4 443.4,281.1 443.5,297.9 443.7,297.5 443.8,302.3 444.0,292.1 444.2,295.0 444.3,299.5 444.5,284.7 444.6,300.1 444.8,271.3 444.9,284.4 445.1,272.3 445.2,281.4 445.4,277.6 445.6,282.7 445.7,289.2 445.9,284.5 446.0,271.5 446.2,287.5 446.3,296.0 446.5,295.4 446.6,285.3 446.8,294.5 446.9,271.3 447.1,286.7 447.3,282.7 447.4,274.2 447.6,285.2 447.7,285.5 447.9,297.6 448.0,293.0 448.2,270.6 448.3,291.1 448.5,296.8 448.7,270.8 448.8,270.7 449.0,297.5 449.1,299.0 449.3,299.4 449.4,293.1 449.6,282.8 449.7,297.5 449.9,274.9 450.0,267.8 450.2,298.5 450.4,272.1 450.5,295.0 450.7,288.3 450.8,277.1 451.0,265.0 451.1,293.8 451.3,290.5 451.4,295.6 451.6,289.7 451.8,295.0 451.9,292.8 452.1,294.6 452.2,290.5 452.4,263.7 452.5,262.5 452.7,293.0 452.8,264.1 453.0,271.0 453.2,294.9 453.3,286.0 453.5,278.3 453.6,301.6 453.8,295.4 453.9,286.8 454.1,292.4 454.2,267.9 454.4,271.6 454.5,294.2 454.7,279.0 454.9,288.5 455.0,268.3 455.2,298.2 455.3,271.7 455.5,273.0 455.6,280.3 455.8,281.9 455.9,289.2 456.1,276.5 456.3,271.0 456.4,294.2 456.6,276.9 456.7,277.1 456.9,272.1 457.0,275.6 457.2,291.6 457.3,289.3 457.5,276.3 457.7,297.3 457.8,279.1 458.0,290.6 458.1,297.4 458.3,267.8 458.4,297.6 458.6,266.9 458.7,283.4 458.9,275.5 459.0,297.3 459.2,286.1 459.4,269.9 459.5,287.8 459.7,278.5 459.8,299.3 460.0,299.6 460.1,277.2 460.3,298.6 460.4,276.9 460.6,293.3 460.8,281.4 460.9,286.9 461.1,288.7 461.2,289.4 461.4,292.6 461.5,277.9 461.7,284.3 461.8,290.0 462.0,297.9 462.1,294.1 462.3,297.7 462.5,299.9 462.6,282.3 462.8,274.7 462.9,285.4 463.1,285.4 463.2,297.1 463.4,297.9 463.5,280.2 463.7,284.1 463.9,279.5 464.0,298.5 464.2,283.8 464.3,290.8 464.5,289.5 464.6,274.7 464.8,294.2 464.9,281.3 465.1,271.5 465.3,269.8 465.4,269.9 465.6,270.0 465.7,278.9 465.9,301.5 466.0,275.4 466.2,269.7 466.3,289.2 466.5,295.6 466.6,284.8 466.8,272.0 467.0,278.1 467.1,281.3 467.3,284.7 467.4,279.7 467.6,276.8 467.7,294.1 467.9,293.9 468.0,289.9 468.2,303.0 468.4,298.8 468.5,280.3 468.7,295.1 468.8,298.0 469.0,277.5 469.1,293.9 469.3,294.7 469.4,289.3 469.6,273.9 469.7,252.3 469.9,246.7 470.1,257.7 470.2,231.8 470.4,218.4 470.5,250.0 470.7,249.1 470.8,220.5 471.0,218.0 471.1,248.3 471.3,249.4 471.5,250.1 471.6,232.9 471.8,250.7 471.9,215.1 472.1,257.6 472.2,241.3 472.4,218.1 472.5,229.1 472.7,225.4 472.9,238.0 473.0,233.9 473.2,227.8 473.3,255.4 473.5,225.2 473.6,223.8 473.8,223.2 473.9,220.7 474.1,227.7 474.2,247.6 474.4,231.6 474.6,252.6 474.7,251.8 474.9,254.0 475.0,254.1 475.2,226.2 475.3,235.6 475.5,258.4 475.6,222.8 475.8,248.7 476.0,219.6 476.1,246.3 476.3,244.6 476.4,237.8 476.6,252.0 476.7,249.7 476.9,254.2 477.0,245.3 477.2,245.8 477.3,241.9 477.5,251.4 477.7,265.9 477.8,302.6 478.0,276.4 478.1,303.0 478.3,288.9 478.4,270.2 478.6,298.2 478.7,299.7 478.9,297.3 479.1,282.7 479.2,298.0 479.4,293.5 479.5,281.7 479.7,296.9 479.8,269.2 480.0,297.9 480.1,285.0 480.3,275.5 480.5,292.6 480.6,295.6 480.8,297.3 480.9,296.2 481.1,289.5 481.2,301.5 481.4,298.8 481.5,293.4 481.7,278.0 481.8,281.6 482.0,274.4 482.2,295.9 482.3,291.5 482.5,275.4 482.6,277.4 482.8,296.5 482.9,275.8 483.1,280.2 483.2,287.3 483.4,285.8 483.6,273.4 483.7,274.2 483.9,286.7 484.0,295.7 484.2,277.7 484.3,301.5 484.5,288.5 484.6,297.5 484.8,275.0 484.9,280.0 485.1,300.6 485.3,287.9 485.4,294.9 485.6,301.4 485.7,284.9 485.9,283.6 486.0,301.0 486.2,275.1 486.3,271.0 486.5,275.3 486.7,272.4 486.8,296.4 487.0,273.5 487.1,296.8 487.3,276.7 487.4,264.2 487.6,291.6 487.7,275.4 487.9,274.8 488.1,283.8 488.2,273.2 488.4,300.0 488.5,302.6 488.7,291.5 488.8,277.5 489.0,289.2 489.1,274.7 489.3,288.9 489.4,288.1 489.6,293.9 489.8,274.2 489.9,289.8 490.1,282.5 490.2,273.6 490.4,277.1 490.5,301.7 490.7,286.9 490.8,274.3 491.0,279.2 491.2,294.8 491.3,300.2 491.5,301.6 491.6,299.6 491.8,295.5 491.9,282.3 492.1,272.0 492.2,276.7 492.4,274.1 492.5,294.7 492.7,276.4 492.9,300.6 493.0,269.6 493.2,273.5 493.3,270.6 493.5,271.0 493.6,300.3 493.8,281.7 493.9,269.0 494.1,297.5 494.3,292.0 494.4,283.9 494.6,297.1 494.7,277.7 494.9,275.4 495.0,292.4 495.2,275.3 495.3,292.4 495.5,294.6 495.7,286.3 495.8,309.4 496.0,303.7 496.1,291.6 496.3,307.0 496.4,280.4 496.6,274.3 496.7,300.0 496.9,276.2 497.0,297.5 497.2,273.7 497.4,300.1 497.5,276.8 497.7,294.4 497.8,282.0 498.0,290.4 498.1,296.7 498.3,299.9 498.4,280.8 498.6,291.2 498.8,280.5 498.9,278.3 499.1,302.3 499.2,299.3 499.4,276.5 499.5,272.5 499.7,299.7 499.8,296.5 500.0,287.9 500.1,285.4 500.3,299.3 500.5,301.3 500.6,304.5 500.8,274.9 500.9,301.7 501.1,280.0 501.2,305.8 501.4,274.5 501.5,283.4 501.7,303.8 501.9,275.2 502.0,270.1 502.2,284.8 502.3,298.6 502.5,273.7 502.6,270.4 502.8,280.1 502.9,304.5 503.1,284.8 503.3,291.5 503.4,296.9 503.6,276.1 503.7,267.5 503.9,304.4 504.0,273.5 504.2,290.1 504.3,277.3 504.5,293.9 504.6,284.7 504.8,283.3 505.0,279.9 505.1,284.5 505.3,272.2 505.4,305.7 505.6,281.6 505.7,281.2 505.9,292.7 506.0,279.1 506.2,291.7 506.4,277.5 506.5,293.4 506.7,284.2 506.8,276.0 507.0,276.7 507.1,301.6 507.3,303.6 507.4,305.8 507.6,282.0 507.8,287.9 507.9,305.3 508.1,285.4 508.2,309.1 508.4,287.9 508.5,297.1 508.7,276.0 508.8,281.2 509.0,286.4 509.1,305.6 509.3,305.7 509.5,272.7 509.6,301.6 509.8,300.1 509.9,307.2 510.1,266.2 510.2,275.1 510.4,293.5 510.5,291.7 510.7,280.6 510.9,278.1 511.0,277.5 511.2,295.1 511.3,278.5 511.5,296.7 511.6,299.5 511.8,272.6 511.9,293.6 512.1,275.5 512.2,302.2 512.4,293.9 512.6,302.8 512.7,294.3 512.9,296.9 513.0,275.0 513.2,275.9 513.3,282.5 513.5,281.4 513.6,278.2 513.8,296.3 514.0,275.3 514.1,293.6 514.3,280.3 514.4,300.8 514.6,277.9 514.7,301.6 514.9,278.0 515.0,278.5 515.2,308.0 515.4,305.1 515.5,281.9 515.7,310.1 515.8,307.7 516.0,307.4 516.1,308.0 516.3,303.8 516.4,305.0 516.6,283.2 516.7,296.2 516.9,278.2 517.1,306.2 517.2,280.0 517.4,289.0 517.5,280.3 517.7,285.1 517.8,297.4 518.0,306.9 518.1,305.5 518.3,291.8 518.5,276.1 518.6,283.3 518.8,277.2 518.9,296.6 519.1,293.6 519.2,288.7 519.4,279.2 519.5,278.0 519.7,299.1 519.8,286.2 520.0,291.8 520.2,296.7 520.3,301.2 520.5,288.7 520.6,292.4 520.8,298.8 520.9,296.6 521.1,294.8 521.2,298.2 521.4,289.1 521.6,298.6 521.7,293.9 521.9,303.3 522.0,295.0 522.2,284.2 522.3,289.4 522.5,292.2 522.6,280.8 522.8,296.7 523.0,295.6 523.1,297.6 523.3,294.7 523.4,285.4 523.6,300.7 523.7,285.1 523.9,301.6 524.0,293.2 524.2,292.7 524.3,302.5 524.5,283.3 524.7,292.9 524.8,297.9 525.0,288.9 525.1,297.1 525.3,290.3 525.4,286.4 525.6,283.0 525.7,288.9 525.9,300.6 526.1,298.6 526.2,299.2 526.4,296.8 526.5,304.5 526.7,308.3 526.8,303.6 527.0,306.7 527.1,290.8 527.3,304.9 527.4,293.2 527.6,293.5 527.8,290.3 527.9,301.4 528.1,293.3 528.2,296.7 528.4,280.0 528.5,286.3 528.7,302.9 528.8,289.2 529.0,285.2 529.2,297.4 529.3,282.8 529.5,283.4 529.6,300.6 529.8,301.8 529.9,300.1 530.1,295.7 530.2,281.1 530.4,301.1 530.6,280.6 530.7,290.9 530.9,293.5 531.0,288.1 531.2,292.0 531.3,286.4 531.5,300.2 531.6,291.6 531.8,287.2 531.9,296.7 532.1,292.9 532.3,283.0 532.4,284.9 532.6,284.8 532.7,295.5 532.9,300.9 533.0,286.8 533.2,302.5 533.3,290.2 533.5,296.0 533.7,302.8 533.8,279.4 534.0,296.9 534.1,303.3 534.3,297.4 534.4,284.0 534.6,299.2 534.7,299.4 534.9,300.6 535.0,299.8 535.2,283.4 535.4,300.4 535.5,289.3 535.7,287.3 535.8,294.1 536.0,288.6 536.1,283.9 536.3,273.0 536.4,295.4 536.6,293.3 536.8,286.7 536.9,299.2 537.1,296.6 537.2,302.1 537.4,302.8 537.5,297.9 537.7,293.8 537.8,279.5 538.0,277.3 538.2,284.3 538.3,278.3 538.5,278.9 538.6,296.5 538.8,280.7 538.9,279.9 539.1,301.7 539.2,299.0 539.4,288.6 539.5,278.1 539.7,303.1 539.9,279.9 540.0,287.6 540.2,301.6 540.3,300.4 540.5,281.5 540.6,301.2 540.8,297.8 540.9,283.4 541.1,303.9 541.3,286.4 541.4,305.9 541.6,302.3 541.7,297.0 541.9,297.9 542.0,285.1 542.2,276.4 542.3,282.1 542.5,284.7 542.6,293.7 542.8,280.4 543.0,298.3 543.1,289.5 543.3,299.0 543.4,281.4 543.6,294.7 543.7,291.7 543.9,298.7 544.0,302.3 544.2,299.5 544.4,293.1 544.5,289.2 544.7,284.2 544.8,279.2 545.0,265.0 545.1,281.2 545.3,282.6 545.4,299.7 545.6,306.2 545.8,283.9 545.9,306.5 546.1,298.9 546.2,286.4 546.4,305.0 546.5,304.7 546.7,300.8 546.8,284.7 547.0,295.5 547.1,286.3 547.3,291.9 547.5,304.9 547.6,283.1 547.8,284.1 547.9,302.8 548.1,289.8 548.2,301.4 548.4,298.7 548.5,279.4 548.7,289.8 548.9,291.7 549.0,295.5 549.2,279.7 549.3,282.6 549.5,301.5 549.6,282.3 549.8,300.7 549.9,286.1 550.1,277.6 550.2,287.6 550.4,300.3 550.6,284.3 550.7,285.9 550.9,290.9 551.0,278.9 551.2,293.7 551.3,279.7 551.5,281.0 551.6,291.6 551.8,286.7 552.0,280.7 552.1,295.6 552.3,282.5 552.4,301.1 552.6,282.9 552.7,290.3 552.9,300.5 553.0,290.0 553.2,292.5 553.4,298.3 553.5,295.5 553.7,290.9 553.8,285.9 554.0,287.6 554.1,299.3 554.3,301.1 554.4,300.1 554.6,287.8 554.7,292.0 554.9,281.5 555.1,294.9 555.2,279.9 555.4,302.1 555.5,283.8 555.7,280.2 555.8,308.0 556.0,301.3 556.1,285.3 556.3,302.7 556.5,284.8 556.6,292.8 556.8,287.0 556.9,294.2 557.1,305.0 557.2,286.2 557.4,304.6 557.5,287.8 557.7,288.3 557.9,304.8 558.0,299.7 558.2,291.6 558.3,283.2 558.5,292.2 558.6,286.6 558.8,300.2 558.9,303.9 559.1,289.4 559.2,294.0 559.4,298.9 559.6,304.6 559.7,307.6 559.9,294.2 560.0,307.7 560.2,291.1 560.3,307.0 560.5,293.2 560.6,291.9 560.8,297.3 561.0,292.3 561.1,286.0 561.3,310.5 561.4,292.0 561.6,289.8 561.7,290.3 561.9,291.2 562.0,307.2 562.2,298.1 562.3,297.4 562.5,300.7 562.7,290.8 562.8,287.3 563.0,304.5 563.1,285.7 563.3,286.1 563.4,301.4 563.6,289.8 563.7,292.2 563.9,303.2 564.1,304.6 564.2,303.9 564.4,304.0 564.5,282.7 564.7,284.7 564.8,290.6 565.0,304.5 565.1,291.1 565.3,282.9 565.5,289.5 565.6,297.9 565.8,282.4 565.9,306.2 566.1,308.9 566.2,283.1 566.4,305.4 566.5,295.7 566.7,309.2 566.8,308.3 567.0,283.7 567.2,283.5 567.3,301.8 567.5,303.6 567.6,286.4 567.8,283.1 567.9,281.3 568.1,284.8 568.2,284.0 568.4,300.2 568.6,306.5 568.7,298.4 568.9,284.2 569.0,308.3 569.2,284.6 569.3,304.3 569.5,304.1 569.6,299.7 569.8,283.3 569.9,293.9 570.1,305.0 570.3,303.3 570.4,286.2 570.6,302.4 570.7,298.5 570.9,301.2 571.0,285.1 571.2,281.0 571.3,306.0 571.5,304.3 571.7,306.7 571.8,296.8 572.0,292.5 572.1,298.9 572.3,294.0 572.4,281.7 572.6,280.7 572.7,284.6 572.9,285.1 573.1,288.2 573.2,284.7 573.4,287.6 573.5,288.0 573.7,287.9 573.8,292.8 574.0,295.7 574.1,304.3 574.3,289.0 574.4,300.5 574.6,280.9 574.8,297.1 574.9,301.9 575.1,295.1 575.2,299.4 575.4,295.9 575.5,298.1 575.7,287.8 575.8,295.0 576.0,287.1 576.2,300.7 576.3,288.0 576.5,289.8 576.6,301.0 576.8,285.6 576.9,300.7 577.1,285.8 577.2,296.6 577.4,291.2 577.5,283.6 577.7,301.2 577.9,286.4 578.0,291.2 578.2,287.5 578.3,282.5 578.5,290.1 578.6,291.1 578.8,283.8 578.9,290.6 579.1,288.4 579.3,299.6 579.4,282.0 579.6,288.0 579.7,289.5 579.9,301.9 580.0,299.1 580.2,288.3 580.3,302.5 580.5,281.3 580.7,303.0 580.8,293.1 581.0,288.7 581.1,284.7 581.3,279.8 581.4,281.4 581.6,293.6 581.7,295.8 581.9,297.9 582.0,283.7 582.2,300.1 582.4,278.8 582.5,300.5 582.7,299.5 582.8,300.4 583.0,280.9 583.1,278.6 583.3,289.8 583.4,297.8 583.6,296.1 583.8,286.6 583.9,300.7 584.1,299.3 584.2,287.8 584.4,304.8 584.5,288.4 584.7,274.0 584.8,267.7 585.0,279.0 585.1,303.4 585.3,307.5 585.5,291.1 585.6,304.2 585.8,278.6 585.9,289.2 586.1,275.0 586.2,279.8 586.4,303.7 586.5,305.8 586.7,283.5 586.9,273.0 587.0,285.7 587.2,295.8 587.3,292.3 587.5,298.9 587.6,297.1 587.8,303.1 587.9,291.7 588.1,302.7 588.3,285.7 588.4,301.7 588.6,292.6 588.7,298.7 588.9,289.4 589.0,270.5 589.2,268.9 589.3,301.3 589.5,296.9 589.6,284.0 589.8,295.9 590.0,279.7 590.1,290.0 590.3,290.7 590.4,274.3 590.6,279.1 590.7,294.9 590.9,290.2 591.0,275.9 591.2,305.2 591.4,292.2 591.5,297.7 591.7,281.6 591.8,293.2 592.0,276.4 592.1,285.3 592.3,302.8 592.4,282.3 592.6,289.3 592.7,299.9 592.9,271.2 593.1,275.5 593.2,290.9 593.4,273.8 593.5,294.9 593.7,306.1 593.8,305.6 594.0,295.0 594.1,303.3 594.3,274.2 594.5,292.4 594.6,292.4 594.8,295.3 594.9,281.8 595.1,300.2 595.2,286.9 595.4,301.8 595.5,283.5 595.7,299.1 595.9,283.4 596.0,298.5 596.2,285.4 596.3,270.0 596.5,296.7 596.6,293.7 596.8,274.2 596.9,295.8 597.1,295.1 597.2,285.5 597.4,266.1 597.6,302.7 597.7,278.6 597.9,297.5 598.0,302.4 598.2,301.9 598.3,279.2 598.5,292.5 598.6,276.3 598.8,291.8 599.0,302.2 599.1,281.6 599.3,292.8 599.4,304.3 599.6,301.6 599.7,274.9 599.9,298.3 600.0,273.6 600.2,291.1 600.3,294.2 600.5,289.6 600.7,296.0 600.8,298.9 601.0,291.1 601.1,301.4 601.3,282.9 601.4,287.0 601.6,278.7 601.7,295.6 601.9,277.4 602.1,301.5 602.2,276.4 602.4,302.4 602.5,293.9 602.7,283.5 602.8,299.3 603.0,277.5 603.1,283.9 603.3,300.7 603.5,297.9 603.6,285.8 603.8,280.2 603.9,280.7 604.1,274.8 604.2,275.2 604.4,290.5 604.5,281.7 604.7,302.1 604.8,275.3 605.0,278.3 605.2,304.3 605.3,274.4 605.5,270.0 605.6,271.4 605.8,291.0 605.9,284.9 606.1,298.9 606.2,294.8 606.4,290.3 606.6,291.4 606.7,298.1 606.9,296.1 607.0,286.5 607.2,291.2 607.3,301.8 607.5,298.8 607.6,278.4 607.8,297.1 607.9,281.9 608.1,281.5 608.3,286.1 608.4,274.3 608.6,277.0 608.7,299.0 608.9,268.1 609.0,292.5 609.2,274.1 609.3,289.5 609.5,292.1 609.7,279.1 609.8,276.8 610.0,292.9 610.1,280.6 610.3,293.4 610.4,287.4 610.6,300.6 610.7,307.9 610.9,282.0 611.1,307.1 611.2,284.8 611.4,295.2 611.5,304.7 611.7,275.0 611.8,300.6 612.0,307.2 612.1,303.8 612.3,305.2 612.4,274.7 612.6,299.5 612.8,305.6 612.9,282.4 613.1,301.3 613.2,305.7 613.4,304.9 613.5,305.4 613.7,283.8 613.8,304.6 614.0,285.4 614.2,297.1 614.3,291.8 614.5,295.1 614.6,277.1 614.8,285.8 614.9,284.3 615.1,292.0 615.2,292.6 615.4,293.7 615.6,293.6 615.7,298.0 615.9,304.8 616.0,282.8 616.2,303.2 616.3,290.0 616.5,282.5 616.6,305.1 616.8,300.9 616.9,298.7 617.1,303.6 617.3,286.3 617.4,306.0 617.6,302.8 617.7,303.6 617.9,284.1 618.0,301.3 618.2,282.6 618.3,308.4 618.5,280.8 618.7,306.4 618.8,282.2 619.0,306.2 619.1,299.1 619.3,292.6 619.4,278.2 619.6,280.9 619.7,296.2 619.9,283.1 620.0,307.2 620.2,288.1 620.4,281.4 620.5,299.1 620.7,300.8 620.8,286.2 621.0,283.5 621.1,292.7 621.3,287.5 621.4,285.9 621.6,303.9 621.8,296.7 621.9,288.4 622.1,276.2 622.2,275.6 622.4,287.4 622.5,290.1 622.7,292.4 622.8,298.8 623.0,305.6 623.2,283.9 623.3,277.5 623.5,290.0 623.6,300.7 623.8,278.0 623.9,300.4 624.1,277.5 624.2,293.0 624.4,276.5 624.5,298.4 624.7,302.2 624.9,281.0 625.0,272.5 625.2,288.8 625.3,282.1 625.5,297.1 625.6,300.2 625.8,277.0 625.9,282.6 626.1,296.6 626.3,295.2 626.4,288.5 626.6,286.0 626.7,280.4 626.9,281.1 627.0,280.0 627.2,304.1 627.3,279.7 627.5,284.8 627.6,296.4 627.8,298.3 628.0,303.3 628.1,294.5 628.3,295.8 628.4,282.4 628.6,289.5 628.7,285.2 628.9,308.9 629.0,285.7 629.2,298.4 629.4,301.7 629.5,299.7 629.7,301.2 629.8,284.1 630.0,282.4 630.1,309.3 630.3,305.3 630.4,300.5 630.6,282.0 630.8,280.3 630.9,280.0 631.1,275.7 631.2,289.3 631.4,295.0 631.5,291.4 631.7,284.7 631.8,296.8 632.0,276.5 632.1,297.7 632.3,298.2 632.5,298.2 632.6,283.3 632.8,286.5 632.9,283.4 633.1,306.7 633.2,285.7 633.4,304.0 633.5,308.0 633.7,293.8 633.9,292.5 634.0,286.0 634.2,282.7 634.3,290.0 634.5,307.5 634.6,294.2 634.8,288.0 634.9,273.8 635.1,304.2 635.2,288.3 635.4,290.7 635.6,301.2 635.7,286.6 635.9,292.5 636.0,294.6 636.2,299.9 636.3,298.5 636.5,297.1 636.6,304.4 636.8,296.8 637.0,303.7 637.1,297.8 637.3,307.7 637.4,307.0 637.6,308.0 637.7,300.0 637.9,299.7 638.0,303.5 638.2,298.9 638.4,304.7 638.5,303.5 638.7,282.1 638.8,278.4 639.0,280.3 639.1,300.4 639.3,291.4 639.4,301.3 639.6,309.2 639.7,300.7 639.9,292.1 640.1,309.1 640.2,298.4 640.4,294.1 640.5,290.3 640.7,282.3 640.8,281.4 641.0,302.5 641.1,284.5 641.3,308.6 641.5,286.5 641.6,307.5 641.8,308.6 641.9,310.7 642.1,309.3 642.2,307.2 642.4,283.2 642.5,301.8 642.7,306.4 642.8,281.0 643.0,292.5 643.2,283.3 643.3,281.5 643.5,293.3 643.6,300.9 643.8,287.1 643.9,283.2 644.1,304.6 644.2,305.5 644.4,298.1 644.6,293.5 644.7,297.7 644.9,288.9 645.0,309.9 645.2,308.7 645.3,282.1 645.5,297.4 645.6,284.6 645.8,308.2 646.0,292.6 646.1,281.8 646.3,291.6 646.4,300.8 646.6,309.2 646.7,281.5 646.9,290.1 647.0,308.2 647.2,304.7 647.3,297.5 647.5,304.6 647.7,280.5 647.8,309.1 648.0,278.7 648.1,306.1 648.3,303.4 648.4,282.5 648.6,295.4 648.7,308.5 648.9,285.7 649.1,301.7 649.2,306.7 649.4,285.9 649.5,307.0 649.7,296.3 649.8,295.8 650.0,303.9 650.1,293.0 650.3,305.4 650.4,284.7 650.6,284.4 650.8,283.2 650.9,308.0 651.1,296.2 651.2,284.4 651.4,292.8 651.5,301.9 651.7,287.8 651.8,284.3 652.0,289.6 652.2,285.4 652.3,283.0 652.5,284.4 652.6,293.2 652.8,283.3 652.9,286.4 653.1,285.6 653.2,281.6 653.4,295.2 653.6,291.9 653.7,281.5 653.9,295.5 654.0,290.5 654.2,301.1 654.3,287.6 654.5,282.0 654.6,293.0 654.8,285.9 654.9,290.6 655.1,288.4 655.3,285.8 655.4,284.4 655.6,281.3 655.7,296.0 655.9,292.6 656.0,290.3 656.2,301.8 656.3,282.3 656.5,293.5 656.7,302.5 656.8,284.1 657.0,287.0 657.1,305.3 657.3,280.5 657.4,282.7 657.6,308.1 657.7,303.4 657.9,306.9 658.0,295.9 658.2,289.7 658.4,291.4 658.5,294.5 658.7,302.9 658.8,286.3 659.0,283.9 659.1,277.5 659.3,289.8 659.4,297.6 659.6,277.9 659.8,292.2 659.9,279.9 660.1,306.6 660.2,277.7 660.4,302.5 660.5,279.2 660.7,291.8 660.8,295.9 661.0,280.4 661.2,290.7 661.3,300.0 661.5,305.1 661.6,276.1 661.8,277.0 661.9,282.4 662.1,302.9 662.2,302.6 662.4,302.6 662.5,302.1 662.7,309.0 662.9,298.3 663.0,278.3 663.2,308.0 663.3,300.9 663.5,303.4 663.6,302.0 663.8,308.0 663.9,269.8 664.1,294.5 664.3,275.6 664.4,228.7 664.6,219.9 664.7,184.4 664.9,204.0 665.0,212.2 665.2,189.7 665.3,184.6 665.5,208.7 665.7,196.5 665.8,198.4 666.0,223.7 666.1,217.6 666.3,202.0 666.4,184.8 666.6,210.9 666.7,219.7 666.9,206.2 667.0,184.4 667.2,213.7 667.4,177.3 667.5,181.0 667.7,220.7 667.8,220.7 668.0,178.8 668.1,206.8 668.3,220.6 668.4,218.6 668.6,197.9 668.8,189.1 668.9,212.9 669.1,178.3 669.2,177.9 669.4,219.3 669.5,183.8 669.7,176.8 669.8,222.4 670.0,219.8 670.1,180.0 670.3,177.3 670.5,177.2 670.6,225.7 670.8,196.8 670.9,184.1 671.1,194.1 671.2,218.2 671.4,196.1 671.5,186.5 671.7,191.6 671.9,183.6 672.0,192.3 672.2,214.4 672.3,220.5 672.5,211.7 672.6,187.6 672.8,178.9 672.9,206.3 673.1,201.8 673.3,203.9 673.4,173.3 673.6,171.1 673.7,215.3 673.9,187.8 674.0,167.7 674.2,208.7 674.3,204.9 674.5,182.3 674.6,200.2 674.8,175.8 675.0,211.7 675.1,173.1 675.3,207.0 675.4,208.5 675.6,174.0 675.7,192.7 675.9,198.7 676.0,200.5 676.2,212.0 676.4,204.4 676.5,173.9 676.7,177.3 676.8,204.4 677.0,204.8 677.1,189.4 677.3,198.8 677.4,206.7 677.6,177.6 677.7,210.7 677.9,211.0 678.1,180.3 678.2,183.9 678.4,179.1 678.5,197.9 678.7,195.7 678.8,179.3 679.0,205.5 679.1,177.6 679.3,211.7 679.5,209.6 679.6,219.1 679.8,192.8 679.9,182.7 680.1,183.0 680.2,205.3 680.4,203.1 680.5,184.8 680.7,201.8 680.9,221.2 681.0,204.3 681.2,202.7 681.3,183.6 681.5,213.5 681.6,194.6 681.8,199.6 681.9,192.2 682.1,208.9 682.2,212.2 682.4,199.4 682.6,204.4 682.7,180.3 682.9,202.7 683.0,179.7 683.2,226.1 683.3,198.1 683.5,226.0 683.6,211.2 683.8,224.1 684.0,182.3 684.1,191.1 684.3,209.5 684.4,220.9 684.6,225.3 684.7,186.1 684.9,205.9 685.0,180.2 685.2,195.6 685.3,184.7 685.5,193.6 685.7,180.3 685.8,200.9 686.0,222.5 686.1,181.0 686.3,194.3 686.4,206.0 686.6,175.5 686.7,183.3 686.9,207.8 687.1,222.5 687.2,194.8 687.4,210.6 687.5,221.1 687.7,213.0 687.8,193.0 688.0,199.7 688.1,222.7 688.3,224.7 688.5,216.3 688.6,195.0 688.8,193.4 688.9,191.7 689.1,214.9 689.2,202.4 689.4,184.3 689.5,211.6 689.7,203.5 689.8,188.4 690.0,225.1 690.2,215.6 690.3,190.1 690.5,207.3 690.6,210.1 690.8,188.4 690.9,184.3 691.1,225.4 691.2,187.7 691.4,192.4 691.6,207.7 691.7,223.7 691.9,189.4 692.0,224.7 692.2,222.2 692.3,203.2 692.5,191.5 692.6,194.2 692.8,209.5 692.9,196.9 693.1,222.2 693.3,189.0 693.4,194.0 693.6,218.7 693.7,184.3 693.9,182.0 694.0,213.1 694.2,208.3 694.3,188.0 694.5,181.3 694.7,196.5 694.8,183.6 695.0,196.8 695.1,215.0 695.3,181.0 695.4,218.5 695.6,210.8 695.7,217.6 695.9,216.0 696.1,215.3 696.2,180.6 696.4,181.9 696.5,182.8 696.7,181.7 696.8,212.6 697.0,198.1 697.1,184.7 697.3,204.9 697.4,215.1 697.6,189.7 697.8,200.1 697.9,205.5 698.1,193.3 698.2,200.7 698.4,206.2 698.5,214.0 698.7,222.7 698.8,215.7 699.0,222.0 699.2,189.4 699.3,206.4 699.5,216.3 699.6,214.7 699.8,210.5 699.9,206.1 700.1,225.7 700.2,224.6 700.4,186.5 700.5,224.8 700.7,195.8 700.9,202.5 701.0,189.0 701.2,195.8 701.3,214.7 701.5,225.6 701.6,190.0 701.8,194.2 701.9,202.8 702.1,200.2 702.3,209.4 702.4,222.2 702.6,186.3 702.7,201.2 702.9,184.9 703.0,224.2 703.2,226.5 703.3,225.2 703.5,226.3 703.7,211.5 703.8,212.7 704.0,186.3 704.1,196.5 704.3,188.5 704.4,185.1 704.6,224.5 704.7,185.5 704.9,205.8 705.0,184.2 705.2,216.0 705.4,182.7 705.5,206.5 705.7,220.0 705.8,202.4 706.0,223.3 706.1,224.6 706.3,211.6 706.4,192.3 706.6,212.3 706.8,202.0 706.9,227.8 707.1,189.5 707.2,222.6 707.4,220.2 707.5,216.0 707.7,208.6 707.8,199.0 708.0,222.6 708.1,217.3 708.3,214.0 708.5,219.2 708.6,222.1 708.8,199.1 708.9,198.8 709.1,211.2 709.2,203.6 709.4,217.7 709.5,221.1 709.7,200.6 709.9,202.4 710.0,188.9 710.2,190.3 710.3,221.4 710.5,202.0 710.6,207.4 710.8,204.3 710.9,217.5 711.1,201.1 711.3,205.4 711.4,188.6 711.6,193.2 711.7,216.0 711.9,198.8 712.0,217.5 712.2,212.2 712.3,217.3 712.5,191.2 712.6,187.4 712.8,220.0 713.0,188.1 713.1,186.5 713.3,216.2 713.4,214.3 713.6,190.2 713.7,197.6 713.9,182.8 714.0,203.1 714.2,198.4 714.4,210.9 714.5,193.0 714.7,177.1 714.8,179.5 715.0,206.8 715.1,206.7 715.3,203.6 715.4,181.4 715.6,191.5 715.8,210.6 715.9,197.6 716.1,209.8 716.2,207.3 716.4,178.5 716.5,206.9 716.7,198.2 716.8,184.5 717.0,191.1 717.1,191.5 717.3,201.7 717.5,193.6 717.6,188.5 717.8,176.0 717.9,194.0 718.1,170.0 718.2,160.0 718.4,196.0 718.5,146.0 718.7,190.0 718.9,132.0 719.0,185.0 719.2,127.0 719.3,190.0 719.5,131.0 719.6,195.0 719.8,140.0 719.9,190.0 720.1,152.0 720.2,207.8 720.4,166.0 720.6,207.4 720.7,174.0 720.9,177.8 721.0,187.0 721.2,202.8 721.3,192.6 721.5,189.7 721.6,207.0 721.8,203.5 722.0,183.8 722.1,194.4 722.3,198.8 722.4,177.8 722.6,205.5 722.7,199.7 722.9,190.3 723.0,183.5 723.2,213.0 723.4,199.8 723.5,209.3 723.7,183.4 723.8,200.5 724.0,185.0 724.1,210.2 724.3,186.4 724.4,217.0 724.6,217.7 724.7,191.2 724.9,213.1 725.1,195.5 725.2,216.3 725.4,206.4 725.5,194.1 725.7,212.4 725.8,197.0 726.0,218.2 726.1,214.4 726.3,213.4 726.5,190.8 726.6,220.0 726.8,193.1 726.9,190.6 727.1,222.4 727.2,205.6 727.4,217.1 727.5,209.6 727.7,208.8 727.8,210.1 728.0,191.9 728.2,210.7 728.3,211.0 728.5,190.5 728.6,211.5 728.8,218.5 728.9,201.0 729.1,195.4 729.2,202.4 729.4,202.9 729.6,216.3 729.7,204.2 729.9,219.5 730.0,195.0 730.2,185.9 730.3,187.6 730.5,202.8 730.6,201.9 730.8,187.4 731.0,212.0 731.1,216.0 731.3,210.8 731.4,189.2 731.6,221.2 731.7,205.9 731.9,187.9 732.0,219.4 732.2,192.7 732.3,221.3 732.5,193.8 732.7,202.6 732.8,217.2 733.0,198.1 733.1,216.3 733.3,221.4 733.4,199.2 733.6,188.0 733.7,219.8 733.9,191.0 734.1,221.9 734.2,220.0 734.4,191.2 734.5,214.1 734.7,218.3 734.8,190.9 735.0,186.2 735.1,191.9 735.3,199.8 735.4,194.8 735.6,186.7 735.8,202.2 735.9,186.2 736.1,212.0 736.2,201.5 736.4,186.1 736.5,211.5 736.7,180.4 736.8,202.6 737.0,207.9 737.2,185.2 737.3,199.3 737.5,190.8 737.6,205.3 737.8,190.2 737.9,206.3 738.1,207.1 738.2,194.9 738.4,208.2 738.6,182.8 738.7,179.7 738.9,199.3 739.0,205.3 739.2,180.1 739.3,213.7 739.5,201.7 739.6,193.0 739.8,182.1 739.9,188.2 740.1,200.9 740.3,201.9 740.4,178.5 740.6,208.5 740.7,178.6 740.9,188.3 741.0,180.6 741.2,183.1 741.3,216.1 741.5,184.9 741.7,205.5 741.8,187.0 742.0,180.9 742.1,183.1 742.3,192.3 742.4,186.7 742.6,184.5 742.7,197.3 742.9,206.9 743.0,209.5 743.2,219.3 743.4,210.0 743.5,219.9 743.7,192.8 743.8,187.0 744.0,183.7 744.1,184.5 744.3,194.2 744.4,185.6 744.6,191.8 744.8,185.5 744.9,199.8 745.1,217.9 745.2,200.0 745.4,193.0 745.5,199.4 745.7,216.8 745.8,198.8 746.0,215.3 746.2,219.2 746.3,218.2 746.5,182.2 746.6,218.5 746.8,187.3 746.9,197.7 747.1,185.9 747.2,207.9 747.4,191.2 747.5,187.4 747.7,189.2 747.9,191.2 748.0,190.8 748.2,185.9 748.3,194.8 748.5,186.9 748.6,200.4 748.8,217.8 748.9,204.4 749.1,216.2 749.3,220.5 749.4,203.3 749.6,195.9 749.7,208.3 749.9,219.3 750.0,194.8 750.2,195.5 750.3,201.4 750.5,194.3 750.6,196.9 750.8,218.4 751.0,217.0 751.1,210.1 751.3,215.4 751.4,207.0 751.6,217.7 751.7,198.6 751.9,198.8 752.0,207.4 752.2,222.3 752.4,211.5 752.5,207.2 752.7,213.4 752.8,194.1 753.0,194.1 753.1,188.9 753.3,214.0 753.4,196.7 753.6,219.9 753.8,204.0 753.9,194.3 754.1,226.3 754.2,194.9 754.4,199.9 754.5,212.9 754.7,222.6 754.8,216.5 755.0,218.6 755.1,219.9 755.3,202.1 755.5,193.2 755.6,214.6 755.8,213.0 755.9,188.0 756.1,208.9 756.2,220.6 756.4,201.2 756.5,209.7 756.7,203.8 756.9,198.7 757.0,208.0 757.2,211.8 757.3,210.8 757.5,215.2 757.6,187.7 757.8,195.6 757.9,219.3 758.1,186.2 758.2,209.3 758.4,205.0 758.6,225.1 758.7,207.2 758.9,185.9 759.0,216.7 759.2,206.2 759.3,186.5 759.5,185.6 759.6,203.3 759.8,189.9 760.0,215.8 760.1,208.9 760.3,214.2 760.4,218.0 760.6,216.9 760.7,192.7 760.9,214.5 761.0,218.7 761.2,220.8 761.4,218.7 761.5,201.3 761.7,212.3 761.8,198.8 762.0,214.9 762.1,187.5 762.3,208.5 762.4,218.0 762.6,220.6 762.7,202.9 762.9,225.1 763.1,208.4 763.2,187.9 763.4,230.6 763.5,192.4 763.7,196.6 763.8,193.5 764.0,196.9 764.1,212.3 764.3,188.2 764.5,184.4 764.6,191.2 764.8,221.7 764.9,208.2 765.1,230.8 765.2,197.9 765.4,217.1 765.5,230.0 765.7,202.7 765.8,191.1 766.0,190.5 766.2,206.3 766.3,220.3 766.5,230.1 766.6,198.4 766.8,223.7 766.9,196.7 767.1,214.7 767.2,198.4 767.4,218.8 767.6,227.3 767.7,203.4 767.9,230.1 768.0,212.9 768.2,209.0 768.3,199.6 768.5,223.9 768.6,220.7 768.8,228.4 769.0,221.7 769.1,228.9 769.3,213.4 769.4,245.2 769.6,232.9 769.7,256.6 769.9,277.0 770.0,277.3 770.2,307.3 770.3,286.4 770.5,296.4 770.7,283.1 770.8,295.9 771.0,302.1 771.1,279.2 771.3,305.4 771.4,283.0 771.6,281.2 771.7,295.7 771.9,305.3 772.1,282.4 772.2,304.3 772.4,281.4 772.5,294.3 772.7,286.7 772.8,280.1 773.0,287.5 773.1,301.9 773.3,285.1 773.5,304.2 773.6,299.5 773.8,293.3 773.9,294.3 774.1,299.3 774.2,279.2 774.4,278.0 774.5,285.1 774.7,299.1 774.8,273.7 775.0,271.4 775.2,295.8 775.3,286.8 775.5,282.7 775.6,305.9 775.8,304.6 775.9,293.7 776.1,284.7 776.2,270.7 776.4,297.8 776.6,302.5 776.7,293.2 776.9,302.8 777.0,277.6 777.2,297.3 777.3,271.7 777.5,279.8 777.6,301.5 777.8,303.1 777.9,299.1 778.1,271.3 778.3,283.0 778.4,302.9 778.6,306.5 778.7,305.2 778.9,276.6 779.0,297.3 779.2,276.3 779.3,300.6 779.5,293.0 779.7,283.3 779.8,275.9 780.0,298.9 780.1,293.2 780.3,287.3 780.4,279.6 780.6,284.0 780.7,279.5 780.9,288.4 781.1,287.7 781.2,275.7 781.4,278.4 781.5,279.3 781.7,299.0 781.8,300.0 782.0,299.2 782.1,284.7 782.3,298.7 782.4,287.6 782.6,297.3 782.8,276.4 782.9,297.6 783.1,278.4 783.2,296.2 783.4,288.9 783.5,277.5 783.7,274.1 783.8,282.5 784.0,299.0 784.2,273.6 784.3,300.9 784.5,274.2 784.6,280.8 784.8,299.5 784.9,297.4 785.1,294.3 785.2,273.5 785.4,275.4 785.5,272.2 785.7,296.2 785.9,273.3 786.0,298.8 786.2,293.9 786.3,272.1 786.5,272.4 786.6,282.1 786.8,289.3 786.9,278.5 787.1,292.6 787.3,263.8 787.4,244.3 787.6,241.7 787.7,241.1 787.9,216.2 788.0,235.8 788.2,210.4 788.3,235.3 788.5,232.1 788.7,210.2 788.8,237.3 789.0,215.1 789.1,208.0 789.3,242.2 789.4,225.9 789.6,212.0 789.7,245.3 789.9,212.7 790.0,226.6 790.2,235.9 790.4,206.3 790.5,235.3 790.7,228.6 790.8,239.2 791.0,229.0 791.1,214.9 791.3,216.0 791.4,228.2 791.6,238.8 791.8,243.7 791.9,233.3 792.1,238.3 792.2,227.6 792.4,211.5 792.5,231.1 792.7,241.1 792.8,234.7 793.0,239.9 793.1,215.2 793.3,214.0 793.5,238.7 793.6,228.1 793.8,224.6 793.9,234.6 794.1,217.9 794.2,249.5 794.4,247.6 794.5,247.7 794.7,229.9 794.9,227.1 795.0,243.3 795.2,233.3 795.3,223.5 795.5,251.0 795.6,224.4 795.8,217.7 795.9,236.4 796.1,253.7 796.3,231.1 796.4,230.3 796.6,231.4 796.7,249.2 796.9,258.7 797.0,272.2 797.2,231.0 797.3,234.5 797.5,267.5 797.6,271.3 797.8,245.6 798.0,268.6 798.1,252.3 798.3,267.3 798.4,292.5 798.6,253.7 798.7,291.0 798.9,265.8 799.0,279.9 799.2,263.8 799.4,255.9 799.5,292.2 799.7,260.1 799.8,254.6 800.0,291.9 800.1,254.3 800.3,293.8 800.4,249.3 800.6,279.2 800.7,275.0 800.9,295.6 801.1,265.3 801.2,252.3 801.4,292.2 801.5,278.7 801.7,280.1 801.8,291.1 802.0,274.1 802.1,264.2 802.3,297.6 802.5,267.8 802.6,251.7 802.8,296.5 802.9,291.9 803.1,288.8 803.2,251.0 803.4,298.8 803.5,276.8 803.7,303.2 803.9,299.0 804.0,249.4 804.2,280.3 804.3,252.8 804.5,270.3 804.6,269.9 804.8,274.1 804.9,260.1 805.1,304.6 805.2,299.4 805.4,274.6 805.6,269.4 805.7,277.7 805.9,248.2 806.0,282.3 806.2,291.5 806.3,293.5 806.5,251.4 806.6,293.2 806.8,293.7 807.0,293.0 807.1,253.4 807.3,256.4 807.4,255.5 807.6,255.1 807.7,294.7 807.9,278.9 808.0,290.0 808.2,262.6 808.3,294.2 808.5,290.1 808.7,257.1 808.8,269.5 809.0,263.5 809.1,267.3 809.3,295.4 809.4,278.3 809.6,257.8 809.7,280.2 809.9,272.3 810.1,296.7 810.2,255.9 810.4,296.8 810.5,296.9 810.7,263.6 810.8,291.8 811.0,257.1 811.1,262.1 811.3,260.3 811.5,290.3 811.6,264.9 811.8,266.3 811.9,255.9 812.1,263.2 812.2,287.8 812.4,295.5 812.5,257.6 812.7,259.2 812.8,255.7 813.0,254.0 813.2,277.7 813.3,266.3 813.5,292.0 813.6,251.0 813.8,278.6 813.9,249.3 814.1,251.8 814.2,284.7 814.4,260.1 814.6,294.4 814.7,256.8 814.9,245.5 815.0,254.2 815.2,290.4 815.3,295.7 815.5,250.6 815.6,300.3 815.8,302.2 815.9,269.9 816.1,265.1 816.3,289.1 816.4,281.7 816.6,263.5 816.7,254.1 816.9,271.8 817.0,271.2 817.2,296.7 817.3,287.8 817.5,259.0 817.7,290.3 817.8,259.3 818.0,260.0 818.1,284.2 818.3,257.5 818.4,280.0 818.6,270.5 818.7,303.9 818.9,264.4 819.1,294.9 819.2,296.0 819.4,253.7 819.5,263.8 819.7,265.7 819.8,298.7 820.0,300.6 820.1,298.1 820.3,300.1 820.4,288.5 820.6,252.3 820.8,245.2 820.9,212.4 821.1,315.0 821.2,45.0 821.4,114.6 821.5,132.1 821.7,157.3 821.8,93.6 822.0,128.0 822.2,96.8 822.3,133.0 822.5,86.9 822.6,84.0 822.8,159.1 822.9,94.4 823.1,85.3 823.2,109.2 823.4,128.5 823.6,101.6 823.7,128.5 823.9,113.7 824.0,130.9 824.2,90.6 824.3,149.3 824.5,115.3 824.6,86.0 824.8,86.1 824.9,158.4 825.1,87.4 825.3,158.5 825.4,141.0 825.6,84.6 825.7,102.1 825.9,140.2 826.0,122.7 826.2,101.9 826.3,150.2 826.5,111.5 826.7,101.2 826.8,117.4 827.0,154.1 827.1,141.6 827.3,94.8 827.4,127.7 827.6,94.1 827.7,94.5 827.9,158.9 828.0,94.8 828.2,153.2 828.4,141.2 828.5,147.4 828.7,138.2 828.8,134.5 829.0,83.8 829.1,154.2 829.3,157.9 829.4,140.7 829.6,160.3 829.8,138.7 829.9,86.2 830.1,130.5 830.2,128.6 830.4,112.5 830.5,128.7 830.7,126.3 830.8,93.2 831.0,95.1 831.2,120.6 831.3,153.4 831.5,143.5 831.6,86.7 831.8,152.5 831.9,157.2 832.1,142.3 832.2,156.6 832.4,126.3 832.5,155.6 832.7,85.9 832.9,141.5 833.0,146.9 833.2,103.1 833.3,84.0 833.5,129.9 833.6,147.2 833.8,103.0 833.9,91.4 834.1,148.5 834.3,94.3 834.4,140.5 834.6,129.3 834.7,132.5 834.9,92.0 835.0,103.1 835.2,135.2 835.3,93.0 835.5,140.8 835.6,118.4 835.8,114.6 836.0,125.0 836.1,148.7 836.3,114.7 836.4,136.4 836.6,153.2 836.7,98.7 836.9,122.9 837.0,139.0 837.2,94.2 837.4,76.6 837.5,67.5 837.7,88.4 837.8,76.6 838.0,125.0 838.1,119.4 838.3,68.2 838.4,85.7 838.6,72.4 838.8,78.1 838.9,56.7 839.1,63.5 839.2,82.7 839.4,122.0 839.5,125.6 839.7,122.2 839.8,61.5 840.0,72.4 840.1,110.8 840.3,53.9 840.5,121.1 840.6,120.8 840.8,121.5 840.9,120.3 841.1,120.9 841.2,85.5 841.4,58.8 841.5,105.3 841.7,121.0 841.9,84.6 842.0,56.4 842.2,68.1 842.3,97.1 842.5,84.9 842.6,118.0 842.8,108.8 842.9,54.3 843.1,73.1 843.2,116.9 843.4,57.4 843.6,116.5 843.7,62.3 843.9,56.9 844.0,76.3 844.2,58.3 844.3,119.7 844.5,65.0 844.6,95.8 844.8,73.4 845.0,120.2 845.1,60.3 845.3,75.5 845.4,79.3 845.6,119.8 845.7,63.1 845.9,109.4 846.0,72.3 846.2,56.4 846.4,116.0 846.5,51.6 846.7,122.5 846.8,58.1 847.0,87.4 847.1,73.0 847.3,66.8 847.4,53.8 847.6,53.4 847.7,105.8 847.9,82.2 848.1,115.1 848.2,58.7 848.4,67.8 848.5,58.7 848.7,74.2 848.8,89.7 849.0,83.3 849.1,117.3 849.3,121.6 849.5,108.1 849.6,118.4 849.8,124.5 849.9,121.9 850.1,122.9 850.2,60.4 850.4,106.9 850.5,111.8 850.7,113.4 850.8,110.3 851.0,43.4 851.2,43.9 851.3,44.0 851.5,103.6 851.6,82.6 851.8,102.5 851.9,102.5 852.1,42.1 852.2,44.8 852.4,100.1 852.6,93.4 852.7,80.1 852.9,100.1 853.0,91.0 853.2,44.2 853.3,96.8 853.5,102.9 853.6,57.5 853.8,39.9 854.0,66.5 854.1,57.2 854.3,83.8 854.4,102.1 854.6,42.2 854.7,80.7 854.9,102.8 855.0,103.5 855.2,40.3 855.3,61.2 855.5,105.2 855.7,97.5 855.8,99.4 856.0,47.6 856.1,51.6 856.3,41.3 856.4,47.9 856.6,95.9 856.7,41.1 856.9,83.2 857.1,50.5 857.2,55.2 857.4,80.9 857.5,43.5 857.7,94.0 857.8,39.3 858.0,38.8 858.1,100.9 858.3,93.0 858.4,41.5 858.6,50.2 858.8,65.6 858.9,94.0 859.1,45.0 859.2,45.6 859.4,90.0 859.5,95.6 859.7,90.1 859.8,54.0 860.0,49.2 860.2,40.3 860.3,99.3 860.5,40.1 860.6,98.4 860.8,63.0 860.9,54.7 861.1,59.2 861.2,94.1 861.4,95.2 861.6,82.5 861.7,92.3 861.9,78.2 862.0,60.1 862.2,75.7 862.3,84.4 862.5,87.1 862.6,46.0 862.8,88.2 862.9,40.1 863.1,89.5 863.3,55.0 863.4,65.7 863.6,98.4 863.7,91.2 863.9,60.6 864.0,59.3 864.2,48.8 864.3,94.2 864.5,92.6 864.7,61.7 864.8,82.7 865.0,98.1 865.1,99.8 865.3,50.5 865.4,95.5 865.6,55.6 865.7,45.2 865.9,73.4 866.0,67.1 866.2,87.5 866.4,61.5 866.5,90.4 866.7,77.6 866.8,96.4 867.0,52.1 867.1,94.1 867.3,101.4 867.4,39.6 867.6,43.4 867.8,60.0 867.9,48.1 868.1,96.0 868.2,96.1 868.4,40.3 868.5,56.6 868.7,47.7 868.8,90.9 869.0,44.4 869.2,97.9 869.3,90.6 869.5,88.1 869.6,45.4 869.8,49.8 869.9,65.8 870.1,77.4 870.2,90.6 870.4,90.5 870.5,47.5 870.7,96.3 870.9,35.9 871.0,57.9 871.2,86.7 871.3,60.8 871.5,60.2 871.6,91.5 871.8,55.3 871.9,89.3 872.1,83.3 872.3,48.9 872.4,88.2 872.6,90.6 872.7,40.4 872.9,52.5 873.0,38.0 873.2,87.8 873.3,42.7 873.5,48.6 873.6,92.9 873.8,94.2 874.0,92.3 874.1,41.6 874.3,48.1 874.4,52.1 874.6,91.0 874.7,53.5 874.9,49.1 875.0,81.2 875.2,50.8 875.4,96.4 875.5,60.9 875.7,65.7 875.8,36.6 876.0,43.4 876.1,41.7 876.3,55.8 876.4,59.9 876.6,80.9 876.8,43.9 876.9,39.4 877.1,62.3 877.2,72.3 877.4,83.0 877.5,49.2 877.7,96.2 877.8,49.5 878.0,43.7 878.1,62.6 878.3,49.7 878.5,95.4 878.6,39.9 878.8,43.7 878.9,96.8 879.1,56.0 879.2,94.1 879.4,94.1 879.5,43.4 879.7,37.9 879.9,96.6 880.0,75.2 880.2,39.6 880.3,65.4 880.5,68.7 880.6,40.5 880.8,79.0 880.9,48.1 881.1,87.9 881.3,48.8 881.4,95.7 881.6,92.4 881.7,83.6 881.9,82.0 882.0,70.1 882.2,55.5 882.3,43.0 882.5,49.9 882.6,34.7 882.8,64.3 883.0,89.2 883.1,72.4 883.3,96.1 883.4,43.0 883.6,90.0 883.7,51.2 883.9,77.3 884.0,88.9 884.2,72.3 884.4,76.7 884.5,60.8 884.7,59.7 884.8,83.5 885.0,53.3 885.1,41.0 885.3,33.7 885.4,41.0 885.6,63.3 885.7,32.6 885.9,83.7 886.1,53.8 886.2,41.0 886.4,76.1 886.5,31.5 886.7,65.1 886.8,37.1 887.0,93.3 887.1,32.4 887.3,46.3 887.5,81.4 887.6,88.3 887.8,47.7 887.9,81.3 888.1,36.3 888.2,73.4 888.4,41.8 888.5,78.1 888.7,62.5 888.9,90.8 889.0,38.1 889.2,59.4 889.3,41.2 889.5,89.7 889.6,85.0 889.8,33.1 889.9,62.2 890.1,61.4 890.2,33.3 890.4,81.5 890.6,56.1 890.7,56.8 890.9,80.3 891.0,36.3 891.2,85.2 891.3,79.6 891.5,79.5 891.6,34.1 891.8,61.9 892.0,81.3 892.1,40.1 892.3,88.6 892.4,86.9 892.6,38.6 892.7,54.5 892.9,84.1 893.0,91.4 893.2,51.6 893.3,86.2 893.5,73.3 893.7,60.3 893.8,83.0 894.0,47.4 894.1,34.3 894.3,82.4 894.4,35.9 894.6,90.5 894.7,70.7 894.9,43.0 895.1,82.1 895.2,40.9 895.4,44.9 895.5,72.6 895.7,31.3 895.8,63.5 896.0,84.0 896.1,48.9 896.3,37.9 896.5,82.0 896.6,67.5 896.8,81.5 896.9,53.6 897.1,67.3 897.2,47.0 897.4,84.4 897.5,46.7 897.7,87.6 897.8,79.5 898.0,90.9 898.2,88.6 898.3,55.7 898.5,43.1 898.6,65.7 898.8,89.0 898.9,34.9 899.1,80.8 899.2,83.7 899.4,81.2 899.6,45.8 899.7,86.1 899.9,92.0 900.0,88.9 900.2,92.7 900.3,35.9 900.5,61.8 900.6,56.0 900.8,84.9 900.9,49.4 901.1,50.4 901.3,53.6 901.4,87.8 901.6,87.2 901.7,88.6 901.9,69.9 902.0,34.4 902.2,35.2 902.3,54.0 902.5,45.3 902.7,33.8 902.8,42.4 903.0,39.0 903.1,80.7 903.3,88.8 903.4,81.7 903.6,59.3 903.7,35.0 903.9,85.2 904.1,80.2 904.2,35.1 904.4,54.3 904.5,63.9 904.7,84.7 904.8,87.8 905.0,37.2 905.1,45.9 905.3,52.1 905.4,44.4 905.6,66.6 905.8,87.9 905.9,39.4 906.1,79.1 906.2,87.6 906.4,73.5 906.5,69.9 906.7,35.0 906.8,94.8 907.0,38.8 907.2,82.8 907.3,39.2 907.5,58.9 907.6,94.0 907.8,36.6 907.9,34.1 908.1,82.0 908.2,80.8 908.4,92.1 908.5,87.6 908.7,92.7 908.9,36.1 909.0,68.7 909.2,73.3 909.3,59.5 909.5,36.8 909.6,94.8 909.8,52.0 909.9,86.3 910.1,82.8 910.3,51.1 910.4,91.5 910.6,44.0 910.7,88.9 910.9,36.4 911.0,53.0 911.2,68.9 911.3,61.0 911.5,55.3 911.7,74.4 911.8,91.9 912.0,86.0 912.1,34.1 912.3,94.8 912.4,77.0 912.6,37.2 912.7,89.1 912.9,63.0 913.0,77.6 913.2,34.6 913.4,88.8 913.5,49.4 913.7,33.0 913.8,56.1 914.0,69.2 914.1,87.7 914.3,108.8 914.4,35.6 914.6,73.1 914.8,74.7 914.9,38.6 915.1,93.2 915.2,40.6 915.4,82.6 915.5,77.1 915.7,36.0 915.8,34.4 916.0,55.8 916.1,93.6 916.3,46.3 916.5,86.8 916.6,79.5 916.8,111.2 916.9,92.4 917.1,88.6 917.2,40.2 917.4,95.1 917.5,57.5 917.7,39.6 917.9,82.9 918.0,35.6 918.2,36.7 918.3,93.8 918.5,110.5 918.6,69.7 918.8,35.3 918.9,81.1 919.1,33.2 919.3,94.0 919.4,70.2 919.6,94.3 919.7,87.6 919.9,35.3 920.0,52.8 920.2,77.2 920.3,54.4 920.5,88.2 920.6,71.4 920.8,95.8 921.0,69.5 921.1,32.3 921.3,36.2 921.4,37.7 921.6,86.0 921.7,48.0 921.9,92.1 922.0,95.8 922.2,79.3 922.4,60.0 922.5,59.3 922.7,84.7 922.8,37.3 923.0,40.2 923.1,67.3 923.3,91.4 923.4,85.0 923.6,43.6 923.7,34.6 923.9,59.5 924.1,34.7 924.2,93.3 924.4,82.8 924.5,68.3 924.7,97.4 924.8,38.9 925.0,38.0 925.1,36.0 925.3,91.0 925.5,112.5 925.6,53.4 925.8,86.0 925.9,36.3 926.1,74.7 926.2,88.1 926.4,38.0 926.5,67.6 926.7,33.6 926.9,45.8 927.0,45.6 927.2,44.5 927.3,36.6 927.5,46.1 927.6,93.0 927.8,67.8 927.9,66.7 928.1,52.0 928.2,81.1 928.4,94.7 928.6,48.0 928.7,93.6 928.9,57.6 929.0,33.4 929.2,82.8 929.3,33.6 929.5,87.5 929.6,82.8 929.8,67.9 930.0,96.9 930.1,42.1 930.3,37.0 930.4,87.8 930.6,93.7 930.7,34.0 930.9,38.1 931.0,57.9 931.2,54.5 931.4,51.1 931.5,90.5 931.7,91.7 931.8,61.4 932.0,54.7 932.1,34.9 932.3,94.0 932.4,71.2 932.6,93.7 932.7,94.0 932.9,76.6 933.1,52.6 933.2,42.6 933.4,83.7 933.5,40.3 933.7,54.9 933.8,94.4 934.0,90.1 934.1,89.8 934.3,79.4 934.5,40.3 934.6,79.5 934.8,49.1 934.9,38.0 935.1,93.6 935.2,85.1 935.4,98.1 935.5,47.0 935.7,37.2 935.8,63.3 936.0,33.5 936.2,58.7 936.3,93.2 936.5,38.1 936.6,41.5 936.8,103.8 936.9,75.8 937.1,65.0 937.2,56.0 937.4,41.9 937.6,57.5 937.7,35.5 937.9,73.6 938.0,47.6 938.2,38.2 938.3,38.9 938.5,37.1 938.6,35.5 938.8,50.0 939.0,46.4 939.1,81.3 939.3,95.1 939.4,89.7 939.6,61.3 939.7,91.2 939.9,97.4 940.0,93.2 940.2,31.9 940.3,96.6 940.5,34.2 940.7,36.5 940.8,86.6 941.0,63.3 941.1,87.1 941.3,41.2 941.4,40.2 941.6,92.5 941.7,94.1 941.9,90.6 942.1,76.9 942.2,55.3 942.4,46.3 942.5,82.0 942.7,61.8 942.8,73.0 943.0,78.9 943.1,33.3 943.3,75.0 943.4,79.8 943.6,93.4 943.8,90.8 943.9,35.7 944.1,89.6 944.2,41.0 944.4,66.2 944.5,82.3 944.7,83.0 944.8,92.3 945.0,95.2 945.2,81.2 945.3,83.8 945.5,35.7 945.6,44.9 945.8,47.4 945.9,84.3 946.1,93.3 946.2,90.2 946.4,86.7 946.6,48.9 946.7,87.7 946.9,51.5 947.0,43.9 947.2,74.2 947.3,94.8 947.5,63.2 947.6,91.6 947.8,56.4 947.9,94.7 948.1,46.3 948.3,95.9 948.4,41.6 948.6,40.4 948.7,66.7 948.9,48.5 949.0,92.3 949.2,100.0 949.3,48.9 949.5,75.4 949.7,90.9 949.8,94.3 950.0,86.2 950.1,59.7 950.3,60.7 950.4,87.8 950.6,68.5 950.7,81.2 950.9,37.0 951.0,91.2 951.2,34.9 951.4,47.7 951.5,79.8 951.7,70.8 951.8,66.1 952.0,52.1 952.1,90.4 952.3,82.8 952.4,53.9 952.6,35.6"/>
</g>
<!-- phase axes -->
<g>
<line x1="192.78" y1="428.25" x2="192.78" y2="714.25" class="g"/>
<line x1="301.31" y1="428.25" x2="301.31" y2="714.25" class="g"/>
<line x1="409.84" y1="428.25" x2="409.84" y2="714.25" class="g"/>
<line x1="518.38" y1="428.25" x2="518.38" y2="714.25" class="g"/>
<line x1="626.91" y1="428.25" x2="626.91" y2="714.25" class="g"/>
<line x1="735.44" y1="428.25" x2="735.44" y2="714.25" class="g"/>
<line x1="843.97" y1="428.25" x2="843.97" y2="714.25" class="g"/>
<line x1="84.25" y1="499.75" x2="952.5" y2="499.75" class="g"/>
<line x1="84.25" y1="571.25" x2="952.5" y2="571.25" class="g"/>
<line x1="84.25" y1="642.75" x2="952.5" y2="642.75" class="g"/>
<rect x="84.25" y="428.25" width="868.25" height="286.0" class="ax" fill="none"/>
<line x1="192.78" y1="714.25" x2="192.78" y2="705.05" class="ax"/>
<line x1="192.78" y1="428.25" x2="192.78" y2="437.45" class="ax"/>
<line x1="301.31" y1="714.25" x2="301.31" y2="705.05" class="ax"/>
<line x1="301.31" y1="428.25" x2="301.31" y2="437.45" class="ax"/>
<line x1="409.84" y1="714.25" x2="409.84" y2="705.05" class="ax"/>
<line x1="409.84" y1="428.25" x2="409.84" y2="437.45" class="ax"/>
<line x1="518.38" y1="714.25" x2="518.38" y2="705.05" class="ax"/>
<line x1="518.38" y1="428.25" x2="518.38" y2="437.45" class="ax"/>
<line x1="626.91" y1="714.25" x2="626.91" y2="705.05" class="ax"/>
<line x1="626.91" y1="428.25" x2="626.91" y2="437.45" class="ax"/>
<line x1="735.44" y1="714.25" x2="735.44" y2="705.05" class="ax"/>
<line x1="735.44" y1="428.25" x2="735.44" y2="437.45" class="ax"/>
<line x1="843.97" y1="714.25" x2="843.97" y2="705.05" class="ax"/>
<line x1="843.97" y1="428.25" x2="843.97" y2="437.45" class="ax"/>
<line x1="84.25" y1="499.75" x2="93.45" y2="499.75" class="ax"/>
<line x1="952.5" y1="499.75" x2="943.3" y2="499.75" class="ax"/>
<line x1="84.25" y1="571.25" x2="93.45" y2="571.25" class="ax"/>
<line x1="952.5" y1="571.25" x2="943.3" y2="571.25" class="ax"/>
<line x1="84.25" y1="642.75" x2="93.45" y2="642.75" class="ax"/>
<line x1="952.5" y1="642.75" x2="943.3" y2="642.75" class="ax"/>
<path class="d" d="M84.0,698.2L84.3,582.4L84.7,443.4L84.7,697.9L85.1,631.7L85.5,573.6L85.9,522.4L86.3,445.3L86.3,698.8L86.8,648.9L87.2,500.0L87.6,443.4L87.6,699.7L88.0,603.9L88.4,530.0L88.8,444.6L88.8,699.2L89.2,602.0L89.6,551.8L90.0,442.6L90.0,699.3L90.4,637.2L90.8,534.4L91.1,443.5L91.1,698.9L91.5,663.3L91.8,583.2L92.2,530.0L92.6,490.5L92.9,443.6L92.9,698.9L93.3,682.2L93.6,544.4L94.0,493.9L94.4,443.7L94.4,698.5L94.7,643.7L95.1,607.7L95.5,518.5L95.8,494.3L96.2,442.6L96.2,699.7L96.6,561.2L97.1,444.2L97.1,699.8L97.5,589.4L98.0,446.0L98.0,698.4L98.3,612.8L98.7,557.4L99.0,518.6L99.4,445.2L99.4,699.1L99.7,642.8L100.1,603.8L100.5,525.9L100.8,460.2L101.2,444.2L101.2,698.7L101.6,632.8L102.1,502.0L102.5,443.6L102.5,698.0L102.9,643.6L103.3,513.4L103.7,443.7L103.7,698.3L103.8,609.6L103.9,528.8L104.0,443.4L104.0,698.1L104.3,668.6L104.7,664.7L105.0,625.0L105.4,575.3L105.7,539.2L106.1,531.6L106.4,528.2L106.8,471.4L107.1,443.7L107.1,699.4L107.4,666.4L107.8,616.6L108.1,578.4L108.4,521.7L108.8,507.3L109.1,443.2L109.1,695.8L109.5,680.6L109.8,624.2L110.2,607.5L110.5,560.2L110.9,534.3L111.3,520.9L111.6,471.6L112.0,443.2L112.0,699.2L112.3,687.0L112.7,634.9L113.0,603.0L113.4,550.2L113.7,522.6L114.1,481.8L114.4,442.8L114.4,698.8L114.9,639.0L115.3,576.4L115.7,552.6L116.1,444.1L116.1,699.5L116.4,641.3L116.8,610.4L117.1,568.3L117.4,512.1L117.8,486.5L118.1,443.6L118.1,698.3L118.5,678.8L118.8,663.9L119.2,610.0L119.5,569.9L119.9,574.2L120.2,553.9L120.6,505.2L120.9,462.7L121.3,443.8L121.3,698.9L121.7,682.4L122.0,634.5L122.4,610.4L122.7,543.1L123.1,518.9L123.4,500.0L123.8,444.7L123.8,699.7L124.1,669.5L124.5,633.4L124.8,609.0L125.2,576.6L125.5,539.9L125.9,539.9L126.2,489.1L126.6,467.2L126.9,442.8L126.9,699.3L127.3,645.4L127.6,643.4L128.0,581.7L128.3,564.9L128.7,519.2L129.0,468.6L129.4,443.4L129.4,699.2L129.7,690.7L130.1,640.9L130.4,621.4L130.7,583.9L131.1,550.1L131.4,521.4L131.8,466.5L132.1,444.6L132.1,697.7L132.5,653.0L132.8,645.6L133.2,610.3L133.5,557.6L133.9,558.4L134.2,543.0L134.5,501.7L134.9,468.5L135.2,442.9L135.2,699.5L135.6,642.0L135.9,640.8L136.2,583.1L136.6,564.7L136.9,526.5L137.3,477.3L137.6,444.0L137.6,698.3L137.9,662.0L138.3,621.3L138.7,593.0L139.0,552.2L139.4,504.8L139.8,493.3L140.1,443.0L140.1,699.5L140.5,678.5L140.8,615.3L141.2,595.0L141.5,562.3L141.8,544.5L142.2,511.6L142.5,474.1L142.9,443.1L142.9,699.1L143.2,668.7L143.6,639.7L144.0,631.5L144.3,577.0L144.7,525.3L145.0,490.2L145.4,485.9L145.7,443.3L145.7,699.0L146.1,637.0L146.4,556.7L146.7,516.9L147.0,443.9L147.0,697.8L147.3,685.9L147.7,651.4L148.0,629.5L148.4,599.9L148.7,559.4L149.0,549.1L149.4,515.8L149.7,499.6L150.1,459.3L150.4,442.9L150.4,696.9L150.8,664.3L151.1,621.9L151.5,587.5L151.8,570.8L152.2,533.1L152.5,511.7L152.9,469.9L153.2,443.2L153.2,698.6L153.5,691.0L153.7,665.2L153.9,645.0L154.2,610.2L154.4,583.8L154.6,596.8L154.8,549.8L155.1,540.3L155.3,495.5L155.5,471.4L155.8,472.9L156.0,442.6L156.0,699.5L156.4,635.6L156.8,545.8L157.2,506.4L157.6,443.1L157.6,698.4L158.0,624.2L158.4,588.9L158.8,511.1L159.2,442.8L159.2,696.8L159.6,649.9L159.9,605.3L160.3,542.1L160.7,487.6L161.0,443.1L161.0,698.4L161.2,670.1L161.4,617.0L161.5,560.5L161.7,528.8L161.8,491.5L162.0,443.0L162.0,699.9L162.4,653.8L162.7,649.0L163.1,609.0L163.5,578.2L163.8,530.9L164.2,494.3L164.6,470.2L164.9,443.0L164.9,699.7L165.3,668.7L165.6,654.9L165.9,618.5L166.3,581.4L166.6,544.5L166.9,528.8L167.3,514.0L167.6,484.0L167.9,443.1L167.9,698.9L167.9,685.2L167.9,657.9L168.0,631.5L168.0,594.1L168.0,568.9L168.0,563.1L168.0,545.6L168.0,524.1L168.0,484.8L168.0,471.3L168.0,442.9L168.0,699.1L168.4,626.7L168.8,554.6L169.2,507.5L169.5,443.2L169.5,695.9L169.9,620.9L169.9,698.2L170.4,620.6L170.4,696.5L170.9,621.6L170.9,699.8L170.9,614.5L170.9,699.3L171.2,626.6L171.6,575.2L171.9,508.5L172.3,443.2L172.3,698.8L172.7,642.4L173.1,588.7L173.5,515.9L174.0,442.7L174.0,699.6L174.3,646.8L174.7,612.2L175.1,574.4L175.4,521.6L175.8,455.7L176.2,443.3L176.2,699.6L176.4,645.8L176.6,586.5L176.8,489.5L177.0,443.6L177.0,699.6L177.3,538.1L177.7,442.6L177.7,699.7L177.9,601.3L178.1,445.0L178.1,698.6L178.3,585.7L178.4,443.7L178.4,697.5L178.6,560.0L178.8,442.8L178.8,698.2L179.0,590.4L179.3,443.9L179.3,699.2L179.5,527.1L179.6,444.9L179.6,698.6L179.8,581.1L180.0,444.3L180.0,698.7L180.2,564.5L180.5,443.8L180.5,699.0L180.8,559.4L181.0,442.7L181.0,699.9L181.3,582.7L181.7,445.2L181.7,698.9L182.0,572.8L182.3,442.6L182.3,561.0L182.7,444.9L182.7,563.4L183.0,443.5L183.0,563.0L183.5,444.4L183.5,562.1L183.6,442.6L183.6,699.4L183.7,586.0L183.9,444.1L183.9,699.8L184.2,542.3L184.5,443.2L184.5,699.7L184.8,517.1L185.2,442.8L185.2,699.7L185.5,568.4L185.8,443.2L185.8,699.2L186.1,578.6L186.3,443.1L186.3,698.7L186.7,597.2L187.0,443.3L187.0,699.0L187.2,559.5L187.4,443.0L187.4,698.7L187.6,592.7L187.9,443.8L187.9,699.8L188.1,584.2L188.3,444.3L188.3,699.9L188.7,538.3L189.1,443.4L189.1,699.7L189.3,540.8L189.6,443.4L189.6,699.8L189.8,618.5L190.0,443.1L190.0,699.8L190.2,560.2L190.4,444.2L190.4,699.4L190.7,597.2L190.9,442.7L190.9,699.6L191.2,560.4L191.4,442.6L191.4,698.4L191.5,593.9L191.7,443.8L191.7,699.1L192.1,613.3L192.4,443.6L192.4,699.4L192.8,563.2L193.2,442.8L193.2,698.6L193.4,578.3L193.5,443.6L193.5,699.4L193.7,585.8L193.9,442.7L193.9,699.0L194.2,555.0L194.4,443.4L194.4,698.2L194.6,608.0L194.8,443.1L194.8,699.3L195.1,579.9L195.4,444.1L195.4,694.3L195.8,541.7L195.8,696.6L196.2,531.8L196.2,699.1L196.6,535.3L196.6,700.0L196.6,534.8L196.6,697.8L196.9,597.3L197.3,445.0L197.3,699.7L197.7,522.6L198.0,443.2L198.0,698.9L198.3,595.9L198.5,443.5L198.5,699.5L198.8,598.4L199.1,444.6L199.1,699.4L199.3,578.9L199.4,443.3L199.4,699.6L199.8,573.7L200.2,442.8L200.2,698.3L200.7,613.4L200.7,700.0L201.0,608.9L201.0,699.6L201.1,609.9L201.1,698.1L201.3,582.7L201.4,443.3L201.4,698.7L201.8,582.5L202.1,442.9L202.1,697.1L202.4,571.2L202.6,444.5L202.6,699.5L203.0,551.4L203.4,442.7L203.4,698.4L203.6,576.3L203.8,444.4L203.8,698.5L204.2,574.1L204.6,443.4L204.6,698.7L204.9,573.5L205.3,443.8L205.3,699.5L205.5,579.7L205.7,443.3L205.7,698.8L206.0,575.0L206.3,442.8L206.3,699.8L206.6,577.1L206.9,445.1L206.9,699.1L207.2,563.1L207.4,442.9L207.4,698.8L207.7,527.0L207.9,442.8L207.9,697.8L208.2,559.9L208.6,444.4L208.6,698.0L208.9,541.8L209.3,442.8L209.3,698.2L209.5,622.3L209.7,443.5L209.7,698.8L210.0,574.0L210.2,444.0L210.2,698.5L210.6,582.9L210.9,443.6L210.9,699.4L211.1,536.4L211.3,444.0L211.3,697.9L211.5,554.4L211.8,442.6L211.8,697.9L212.1,568.9L212.5,443.8L212.5,699.3L212.7,590.3L213.0,445.0L213.0,699.1L213.3,573.4L213.7,444.2L213.7,698.5L213.9,575.6L214.1,444.1L214.1,699.6L214.4,586.9L214.6,445.0L214.6,699.2L214.8,563.7L215.0,443.1L215.0,699.0L215.2,608.9L215.5,443.4L215.5,698.6L215.7,642.2L215.9,444.2L215.9,698.7L216.1,553.9L216.3,445.4L216.3,699.6L216.7,529.8L217.0,443.4L217.0,699.4L217.4,580.0L217.7,444.1L217.7,697.8L218.1,564.8L218.4,442.9L218.4,699.5L218.8,589.8L219.2,444.4L219.2,698.1L219.6,622.7L220.0,443.6L220.0,699.0L220.3,610.7L220.6,443.4L220.6,698.7L220.8,532.0L221.0,442.7L221.0,696.7L221.3,548.8L221.6,442.7L221.6,698.4L222.0,546.1L222.3,444.5L222.3,699.1L222.6,557.0L222.8,444.2L222.8,699.4L223.1,583.1L223.4,443.3L223.4,699.8L223.7,618.7L224.0,443.2L224.0,699.9L224.2,567.4L224.5,443.0L224.5,699.4L224.8,526.3L225.2,442.6L225.2,699.9L225.4,536.1L225.7,444.1L225.7,699.5L226.0,577.3L226.3,443.9L226.3,699.7L226.7,585.7L227.1,442.9L227.1,699.2L227.4,564.5L227.6,445.5L227.6,698.1L228.0,595.5L228.3,443.4L228.3,696.4L228.5,582.1L228.8,443.8L228.8,697.2L229.1,546.2L229.5,444.0L229.5,698.4L229.8,631.0L230.2,442.7L230.2,698.7L230.5,627.2L230.8,443.3L230.8,698.4L231.1,511.6L231.3,443.2L231.3,698.7L231.7,619.4L232.0,443.8L232.0,699.0L232.4,531.3L232.7,443.8L232.7,699.5L233.1,573.4L233.5,443.0L233.5,698.7L233.7,578.1L233.9,444.5L233.9,699.6L234.1,584.8L234.3,443.0L234.3,699.1L234.5,589.7L234.7,442.8L234.7,699.8L234.9,579.2L235.2,443.7L235.2,698.6L235.5,507.8L235.9,443.9L235.9,699.7L236.3,562.5L236.8,443.2L236.8,699.2L237.2,528.8L237.6,442.8L237.6,699.6L238.0,561.2L238.3,443.3L238.3,699.7L238.6,565.4L238.9,443.8L238.9,699.8L239.1,574.8L239.3,442.6L239.3,698.7L239.8,624.9L240.2,442.8L240.2,698.8L240.5,592.3L240.8,443.4L240.8,699.7L241.1,579.7L241.3,443.1L241.3,697.6L241.5,579.5L241.8,443.1L241.8,699.4L242.1,528.4L242.4,444.0L242.4,699.7L242.8,577.3L243.2,443.5L243.2,699.2L243.5,540.9L243.8,443.3L243.8,698.8L244.0,581.1L244.2,443.9L244.2,698.9L244.5,588.8L244.9,443.4L244.9,698.1L245.2,607.7L245.6,443.1L245.6,699.9L245.9,615.1L246.1,444.4L246.1,700.0L246.5,520.7L246.5,699.1L246.9,510.0L246.9,700.0L247.2,513.2L247.2,699.0L247.7,575.1L248.1,442.6L248.1,699.0L248.5,569.5L248.9,442.6L248.9,698.8L249.2,565.8L249.5,446.0L249.5,697.6L250.0,501.4L250.0,697.0L250.3,499.6L250.3,699.9L250.6,498.3L250.6,700.0L251.1,501.7L251.1,696.8L251.1,499.8L251.1,699.2L251.4,624.0L251.6,443.8L251.6,697.6L251.9,539.0L252.1,443.1L252.1,697.9L252.3,567.0L252.5,443.9L252.5,698.5L252.8,562.0L253.0,444.1L253.0,699.9L253.4,622.6L253.9,443.1L253.9,697.5L254.2,574.6L254.6,445.6L254.6,699.0L254.9,569.2L255.2,443.3L255.2,698.9L255.6,545.2L255.9,443.0L255.9,699.8L256.2,586.9L256.6,442.9L256.6,697.9L256.9,628.4L257.2,442.7L257.2,699.6L257.6,575.2L258.0,442.9L258.0,517.1L258.5,445.4L258.5,516.0L258.9,445.5L258.9,516.4L259.3,442.8L259.3,515.5L259.5,451.0L259.5,699.1L259.7,564.8L259.9,443.2L259.9,699.5L260.2,603.5L260.5,444.5L260.5,698.3L260.7,584.2L260.9,443.6L260.9,697.0L261.0,539.0L261.0,444.0M261.7,698.7L261.9,442.7M264.7,698.9L265.2,444.4M267.3,699.6L267.6,442.7M270.9,699.3L271.4,444.8L271.7,699.3L272.2,444.8M274.8,699.5L275.2,444.6L275.5,699.5L276.1,444.6M277.8,699.6L278.6,443.7L278.8,699.6L279.2,443.7M280.7,699.2L280.8,444.2L281.1,699.2L281.7,444.2M284.3,698.9L285.1,443.8M287.7,699.0L288.6,444.1L288.8,699.0L289.4,444.1M290.7,699.8L291.5,442.7L291.8,699.8L292.4,442.7M293.8,700.0L293.8,700.0L293.9,685.9L294.1,685.8L294.2,684.4L294.3,697.6L294.4,670.6L294.6,677.5L294.7,671.8L294.8,665.3L295.0,667.9L295.1,665.5L295.2,653.8L295.4,662.1L295.5,654.2L295.6,648.9L295.7,613.2L295.9,643.8L296.0,623.9L296.2,631.6L296.4,622.5L296.6,610.3L296.8,618.8L297.0,608.2L297.2,617.1L297.4,612.4L297.6,584.2L297.8,598.3L298.0,592.6L298.2,597.2L298.4,583.0L298.6,574.0L298.8,560.4L299.0,566.0L299.3,571.5L299.7,570.2L300.0,567.1L300.3,557.6L300.7,556.3L301.0,568.2L301.3,554.2L301.7,561.1L302.0,541.4L302.3,544.0L302.7,545.5L303.0,545.8L303.3,550.3L303.7,545.9L304.0,546.0L304.3,543.6L304.7,539.5L305.0,533.0L305.3,544.3L305.7,538.7L306.0,543.5L306.3,534.7L306.6,523.6L306.9,527.7L307.2,515.9L307.5,511.4L307.8,525.8L308.1,511.9L308.4,502.3L308.7,485.6L309.0,487.9L309.2,488.0L309.4,481.7L309.6,487.6L309.8,473.9L310.0,492.1L310.2,483.1L310.4,467.6L310.6,453.7L310.8,461.0L311.0,446.8L311.4,453.2L311.8,450.0L312.1,442.6L312.5,442.6L312.7,442.6L312.7,700.0L312.9,700.0L312.9,700.0L313.0,694.0L313.0,688.8L313.0,675.3L313.1,675.0L313.1,685.4L313.1,670.1L313.2,666.6L313.2,666.7L313.2,677.0L313.2,651.3L313.3,639.9L313.3,656.2L313.3,644.9L313.4,649.3L313.4,637.0L313.4,630.5L313.5,624.6L313.5,622.4L313.5,624.2L313.6,625.4L313.6,614.7L313.6,601.6L313.7,601.8L313.7,602.8L313.7,607.4L313.7,603.2L313.8,600.5L313.8,589.4L313.8,576.1L313.9,579.8L313.9,557.1L313.9,573.3L314.0,573.4L314.0,563.2L314.0,550.0L314.1,548.3L314.1,551.6L314.1,535.0L314.2,538.9L314.2,530.2L314.2,538.7L314.2,530.5L314.3,529.5L314.3,538.0L314.3,516.0L314.4,522.5L314.4,490.2L314.4,503.2L314.5,495.3L314.5,502.0L314.9,484.8L315.2,503.8L315.6,503.6L316.0,497.2L316.4,497.6L316.7,522.0L317.1,501.6L317.4,489.4L317.8,503.3L318.1,502.5L318.4,501.1L318.8,517.3L319.1,528.7L319.5,528.2L319.6,500.9L319.7,500.4L319.8,511.2L319.9,502.2L319.9,491.6L320.0,501.5L320.1,507.7L320.2,490.4L320.3,476.5L320.4,467.1L320.5,484.8L320.6,462.3L320.7,470.7L320.8,464.6L320.8,460.2L320.9,455.5L321.0,450.0L321.1,444.3L321.2,442.6L321.4,442.6L321.4,700.0L321.6,697.1L321.7,700.0L321.7,700.0L321.8,671.4L321.8,691.6L321.9,669.6L322.0,682.2L322.0,662.2L322.1,674.3L322.2,677.0L322.2,651.9L322.3,637.1L322.3,658.4L322.4,642.3L322.5,639.0L322.5,637.4L322.6,637.5L322.6,639.5L322.7,620.0L322.8,617.1L322.8,619.9L322.9,612.2L323.0,605.7L323.0,599.4L323.1,602.5L323.1,606.2L323.2,594.6L323.3,602.0L323.3,578.0L323.4,573.1L323.5,581.1L323.5,573.1L323.6,561.5L323.6,567.2L323.7,567.5L323.8,558.1L324.0,562.2L324.1,547.2L324.2,530.8L324.4,539.1L324.5,551.7L324.6,532.3L324.7,521.1L324.9,514.8L325.0,522.7L325.3,508.8L325.7,513.4L326.0,520.3L326.3,511.2L326.7,513.7L327.0,508.4L327.4,523.6L327.7,535.3L328.0,507.5L328.4,519.2L328.7,507.0L328.9,508.7L329.1,514.4L329.3,505.9L329.5,494.6L329.7,503.1L329.9,479.7L330.0,486.1L330.2,475.3L330.4,472.8L330.6,458.0L330.8,456.1L331.0,472.5L331.2,450.3L331.5,463.0L331.7,452.4L332.0,442.6L332.2,442.6L332.2,700.0L332.5,684.3L332.6,700.0L332.8,695.3L332.9,689.4L333.0,676.8L333.2,675.7L333.3,664.8L333.5,672.2L333.6,655.4L333.7,653.2L333.9,645.5L334.0,663.6L334.1,671.0L334.3,637.5L334.4,652.2L334.6,655.9L334.7,626.6L334.8,644.1L335.0,628.1L335.1,612.6L335.2,610.1L335.4,614.7L335.5,617.7L335.7,613.9L335.8,592.8L335.9,602.1L336.1,594.1L336.2,591.4L336.5,579.4L336.8,576.6L337.1,596.1L337.4,576.3L337.7,573.4L338.0,561.9L338.2,547.4L338.5,561.4L338.8,558.8L339.1,559.2L339.4,555.9L339.7,540.8L340.0,541.1L340.1,526.1L340.1,524.7L340.2,528.8L340.2,512.5L340.3,516.4L340.3,512.2L340.4,514.5L340.4,513.4L340.5,511.2L340.5,488.3L340.6,510.2L340.6,496.5L340.7,480.3L340.7,478.3L340.8,479.7L340.8,468.7L340.9,467.8L340.9,442.6L341.0,467.1L341.0,462.1L341.1,458.7L341.1,442.6L341.2,442.6L341.4,442.6L341.4,700.0L341.6,700.0L341.7,692.1L341.7,694.1L341.8,683.6L341.8,672.3L341.9,676.1L342.0,678.1L342.0,669.1L342.1,666.9L342.1,667.5L342.2,652.7L342.3,663.0L342.3,648.3L342.4,644.5L342.4,645.0L342.5,644.6L342.6,640.8L342.6,633.3L342.7,627.6L342.7,619.3L342.8,619.5L342.8,618.3L342.9,611.8L343.0,612.7L343.0,596.5L343.1,599.1L343.1,593.9L343.2,583.5L343.3,586.9L343.3,572.8L343.4,572.7L343.4,565.1L343.5,566.3L343.6,568.2L343.6,565.4L343.7,561.1L343.7,558.4L343.8,549.2L343.9,545.0L343.9,541.7L344.0,533.9L344.0,528.5L344.1,531.0L344.2,521.5L344.2,521.1L344.3,513.1L344.3,524.1L344.4,513.0L344.4,505.1L344.5,504.4L344.6,493.3L344.6,504.3L344.7,487.2L344.7,479.7L344.8,484.2L344.9,469.0L344.9,480.3L345.0,468.7L345.0,473.7L345.1,467.2L345.2,456.1L345.2,466.8L345.3,443.3L345.3,443.8L345.4,442.6L345.6,442.6L345.6,700.0L345.8,697.9L345.9,690.6L345.9,698.9L346.0,687.0L346.1,673.3L346.1,682.0L346.2,682.5L346.3,678.1L346.3,674.3L346.4,669.0L346.5,661.4L346.6,659.1L346.6,661.5L346.7,651.4L346.8,656.3L346.8,638.3L346.9,634.6L347.0,640.3L347.0,622.5L347.1,628.6L347.2,623.8L347.2,615.2L347.3,615.4L347.4,605.8L347.4,604.9L347.5,596.1L347.6,583.9L347.6,593.0L347.7,586.3L347.8,570.1L347.9,587.1L347.9,576.5L348.0,558.1L348.1,577.6L348.1,563.8L348.2,566.2L348.3,552.0L348.3,547.0L348.4,546.4L348.5,556.6L348.5,541.9L348.6,529.3L348.7,517.1L348.7,526.7L348.8,510.8L348.9,511.9L349.0,521.6L349.0,512.1L349.1,503.1L349.2,514.5L349.2,509.8L349.3,492.8L349.4,493.0L349.4,485.6L349.5,482.0L349.5,472.1L349.7,488.6L349.9,478.9L350.1,488.1L350.3,491.4L350.5,497.0L350.8,505.0L351.0,499.3L351.2,493.7L351.4,490.9L351.6,490.1L351.8,509.7L352.0,491.9L352.2,504.5L352.4,503.4L352.6,498.6L352.8,504.0L353.0,513.4L353.2,509.2L353.4,517.8L353.6,508.8L353.8,492.6L354.0,519.6L354.2,498.2L354.4,505.4L354.6,495.4L354.8,512.4L355.0,527.0L355.2,502.9L355.4,509.5L355.6,505.2L355.8,501.1L356.0,516.2L356.2,510.0L356.4,511.2L356.6,511.8L356.8,519.2L357.0,521.1L357.2,511.0L357.4,526.1L357.6,509.8L357.8,511.6L358.0,533.7L358.2,499.2L358.4,528.7L358.6,537.8L358.8,534.2L359.0,510.3L359.2,514.1L359.4,528.5L359.6,516.8L359.8,526.9L360.0,527.4L360.2,542.9L360.4,522.3L360.6,520.5L360.8,527.4L361.0,536.3L361.2,521.4L361.4,515.6L361.6,531.2L361.8,519.1L362.0,516.4L362.2,519.0L362.4,528.8L362.6,528.9L362.8,534.4L363.0,528.7L363.2,517.0L363.4,524.4L363.6,523.2L363.8,522.9L364.0,539.8L364.2,526.4L364.4,538.0L364.6,526.7L364.8,534.9L365.0,535.4L365.2,527.6L365.4,547.8L365.6,531.8L365.8,532.3L366.0,553.5L366.2,523.8L366.4,533.0L366.6,527.4L366.8,535.0L367.0,544.2L367.2,551.8L367.4,553.5L367.6,540.5L367.8,539.4L368.0,528.0L368.2,550.5L368.4,550.2L368.6,563.2L368.8,540.0L369.0,552.2L369.2,541.5L369.4,546.3L369.6,545.0L369.8,560.9L370.0,561.2L370.2,552.0L370.4,560.3L370.6,545.4L370.8,559.4L371.0,539.7L371.2,559.3L371.4,563.9L371.6,537.4L371.9,543.5L372.1,559.4L372.3,554.3L372.5,560.8L372.7,535.4L372.9,555.8L373.1,555.1L373.3,547.6L373.5,555.8L373.7,541.9L373.9,553.0L374.1,553.8L374.3,551.7L374.5,536.3L374.7,540.9L374.9,491.0L375.1,541.2L375.3,538.5L375.5,552.7L375.7,539.5L375.9,543.2L376.1,547.7L376.3,542.4L376.5,539.5L376.7,551.0L377.0,558.6L377.2,552.5L377.4,527.9L377.6,533.4L377.8,528.3L378.0,539.5L378.2,533.9L378.4,542.0L378.6,549.7L378.8,534.4L379.0,524.3L379.2,540.7L379.4,560.4L379.6,525.8L379.8,543.6L380.0,542.8L380.2,527.1L380.4,528.0L380.6,544.5L380.8,541.0L381.0,537.6L381.2,564.5L381.4,557.7L381.6,543.1L381.8,541.7L382.0,562.5L382.2,556.6L382.4,557.8L382.6,546.9L382.8,566.2L383.0,564.7L383.2,566.4L383.4,567.7L383.6,528.5L383.8,555.2L384.0,557.8L384.2,565.9L384.4,559.8L384.6,574.9L384.8,562.5L385.0,570.8L385.2,619.0L385.4,560.0L385.6,580.0L385.8,563.4L386.0,577.7L386.2,570.3L386.4,566.9L386.6,552.1L386.8,550.2L387.0,575.6L387.2,556.7L387.4,564.4L387.6,570.0L387.8,543.9L388.0,568.4L388.2,562.4L388.4,563.7L388.6,574.4L388.9,539.7L389.1,548.4L389.3,552.1L389.5,543.0L389.7,561.1L389.9,556.7L390.1,539.4L390.3,549.2L390.5,556.1L390.7,554.9L390.9,549.0L391.1,548.9L391.3,543.5L391.5,533.6L391.7,548.3L391.9,552.1L392.1,544.8L392.3,536.7L392.5,547.9L392.7,543.0L392.9,531.2L393.1,536.1L393.3,537.4L393.5,563.5L393.7,549.2L393.9,537.6L394.2,545.2L394.4,530.4L394.6,552.9L394.8,555.3L395.0,532.1L395.2,542.6L395.4,558.2L395.6,607.5L395.8,545.0L396.0,552.5L396.2,569.7L396.4,554.7L396.6,557.5L396.8,536.6L397.0,569.5L397.3,566.1L397.5,566.7L397.7,559.9L397.9,552.3L398.1,556.7L398.3,556.2L398.5,555.9L398.7,567.5L398.9,565.4L399.1,540.0L399.3,564.9L399.5,560.0L399.7,554.4L399.9,561.5L400.1,549.6L400.3,534.1L400.5,572.6L400.7,563.5L400.9,571.9L401.1,530.9L401.3,553.6L401.5,522.2L401.7,548.7L401.9,551.7L402.1,553.9L402.3,551.4L402.5,539.8L402.7,530.5L402.9,533.6L403.1,552.8L403.3,536.9L403.5,568.2L403.7,560.3L403.9,528.3L404.1,544.4L404.3,539.4L404.5,557.6L404.7,565.8L404.9,537.7L405.1,561.2L405.3,549.0L405.5,555.6L405.7,563.2L405.9,563.7L406.1,562.7L406.3,550.2L406.5,552.3L406.7,560.3L406.9,551.4L407.1,565.2L407.3,557.2L407.5,561.7L407.7,552.8L407.9,555.1L408.1,549.1L408.3,556.1L408.5,571.9L408.7,546.3L408.9,554.2L409.1,562.2L409.3,552.3L409.5,570.3L409.7,536.3L409.9,556.7L410.1,541.8L410.3,544.6L410.5,550.2L410.7,541.8L410.9,545.3L411.1,546.8L411.3,558.5L411.5,522.0L411.7,537.8L411.9,536.7L412.1,547.1L412.3,539.2L412.5,542.3L412.7,553.9L412.9,546.6L413.1,537.2L413.3,574.1L413.5,530.9L413.7,551.5L413.9,523.0L414.1,528.2L414.3,544.7L414.5,546.1L414.7,542.5L414.9,543.2L415.1,535.1L415.3,549.1L415.5,526.5L415.7,539.3L415.9,552.9L416.1,554.4L416.4,540.2L416.6,547.9L416.8,541.2L417.0,545.2L417.2,544.4L417.4,544.0L417.6,554.6L417.8,546.9L418.0,523.2L418.2,527.1L418.4,538.2L418.6,531.2L418.8,548.4L419.0,538.4L419.2,527.6L419.4,547.6L419.6,524.8L419.8,534.7L420.0,547.0L420.2,551.2L420.4,542.9L420.6,524.0L420.8,545.3L421.0,555.5L421.2,538.9L421.4,542.7L421.6,552.3L421.8,533.8L422.0,554.5L422.2,536.8L422.4,543.2L422.6,543.4L422.8,533.5L423.0,539.3L423.2,539.0L423.4,549.3L423.6,525.7L423.9,531.4L424.1,527.2L424.3,530.8L424.5,531.3L424.7,553.6L424.9,543.1L425.1,542.8L425.3,541.4L425.5,530.9L425.7,536.0L425.9,530.8L426.1,527.6L426.3,540.5L426.5,546.2L426.7,545.5L426.9,530.4L427.1,524.7L427.3,542.3L427.5,554.2L427.7,536.8L427.9,525.5L428.1,544.4L428.3,532.3L428.5,533.1L428.7,529.4L428.9,536.4L429.1,530.1L429.3,525.5L429.5,550.4L429.7,541.0L429.9,526.7L430.1,556.6L430.3,544.6L430.5,532.7L430.7,532.8L430.9,518.6L431.1,553.5L431.4,552.9L431.6,551.5L431.8,544.7L432.0,533.0L432.2,541.6L432.4,549.8L432.6,548.7L432.8,553.9L433.0,540.7L433.2,550.6L433.4,540.5L433.6,560.8L433.8,557.8L434.0,551.9L434.2,546.5L434.4,543.7L434.6,550.6L434.8,529.9L435.0,546.2L435.2,552.9L435.4,557.6L435.6,536.2L435.8,552.9L436.0,554.0L436.2,548.0L436.4,541.2L436.6,552.3L436.8,544.0L437.0,557.6L437.2,547.6L437.4,553.8L437.6,542.8L437.8,557.1L438.0,562.5L438.2,558.2L438.4,551.9L438.6,545.0L438.8,553.5L439.0,552.7L439.2,556.4L439.4,557.2L439.6,528.2L439.8,546.3L440.0,550.4L440.2,557.6L440.4,535.1L440.6,563.3L440.8,547.6L441.0,543.1L441.2,551.4L441.4,547.9L441.7,551.0L441.9,562.5L442.1,556.1L442.3,544.1L442.5,532.9L442.7,547.4L442.9,562.8L443.1,540.0L443.3,573.2L443.5,560.7L443.7,571.3L443.9,538.0L444.1,565.7L444.3,547.0L444.5,558.2L444.8,537.7L445.0,553.1L445.2,550.3L445.4,557.2L445.6,557.9L445.8,548.8L446.0,541.0L446.2,563.0L446.4,549.9L446.6,570.4L446.8,556.5L447.0,559.9L447.2,564.2L447.4,556.1L447.6,563.2L447.8,562.6L448.0,555.6L448.2,530.3L448.4,549.3L448.6,552.9L448.8,546.9L449.0,556.0L449.2,552.0L449.5,556.0L449.7,536.7L449.9,544.8L450.1,531.5L450.3,534.2L450.5,534.4L450.7,539.6L450.9,536.5L451.1,547.8L451.3,556.8L451.5,548.4L451.7,549.6L451.9,544.5L452.1,545.3L452.3,542.5L452.5,553.9L452.7,545.2L452.9,547.5L453.1,553.1L453.3,531.7L453.5,545.2L453.7,543.4L453.9,538.9L454.1,543.6L454.3,557.2L454.5,534.5L454.7,544.6L454.9,531.5L455.1,527.6L455.3,546.4L455.5,518.8L455.7,560.6L455.9,570.0L456.1,560.6L456.4,542.9L456.6,537.2L456.8,536.5L457.0,529.8L457.2,553.2L457.4,546.8L457.6,560.2L457.8,533.4L458.0,551.7L458.2,535.1L458.4,546.7L458.6,543.4L458.8,558.4L459.0,533.7L459.2,547.6L459.4,555.9L459.6,546.3L459.8,561.1L460.0,549.7L460.2,550.7L460.4,539.4L460.6,572.8L460.8,544.8L461.0,542.4L461.2,532.5L461.4,564.9L461.6,557.2L461.8,548.0L462.0,545.2L462.2,528.2L462.4,535.3L462.6,539.0L462.8,539.4L463.0,523.6L463.2,531.4L463.4,536.3L463.6,526.4L463.9,530.5L464.1,557.8L464.3,532.9L464.5,541.5L464.7,521.2L464.9,525.2L465.1,525.4L465.3,519.2L465.5,524.0L465.7,537.3L465.9,530.4L466.1,539.6L466.3,525.3L466.5,526.4L466.7,536.7L466.9,520.2L467.1,536.2L467.3,521.0L467.5,522.5L467.7,526.3L467.9,540.7L468.1,504.9L468.3,531.7L468.5,520.5L468.7,501.6L468.9,535.6L469.1,513.9L469.4,503.3L469.6,514.1L469.8,509.1L470.0,513.0L470.2,504.4L470.4,509.0L470.6,520.0L470.8,513.4L471.0,503.1L471.2,499.0L471.4,504.3L471.6,499.8L471.8,508.2L472.0,508.9L472.2,532.1L472.4,516.7L472.7,521.4L472.9,514.6L473.1,521.7L473.3,552.7L473.5,533.2L473.7,530.0L474.0,537.1L474.0,539.0L474.1,540.2L474.1,550.3L474.2,545.5L474.2,556.9L474.3,561.2L474.3,560.2L474.4,563.1L474.4,568.2L474.5,574.4L474.5,579.7L474.6,588.1L474.6,584.6L474.6,596.0L474.7,595.6L474.7,600.5L474.8,600.8L474.8,604.4L474.9,610.9L474.9,613.7L475.0,621.3L475.0,626.2L475.1,627.2L475.1,635.6L475.2,633.6L475.2,640.0L475.5,659.5L475.7,642.0L475.9,647.6L476.1,622.3L476.3,644.1L476.5,617.1L476.7,623.9L476.9,603.4L477.1,618.8L477.3,612.8L477.5,580.0L477.7,605.2L477.9,648.3L478.1,590.2L478.3,620.0L478.5,612.0L478.7,624.2L478.9,645.9L479.1,615.8L479.3,612.5L479.5,596.7L479.8,598.8L480.0,621.2L480.2,628.2L480.4,600.7L480.6,612.5L480.8,640.5L481.0,600.2L481.2,614.8L481.4,628.2L481.6,636.1L481.8,607.0L482.0,614.1L482.2,626.9L482.4,624.3L482.6,640.5L482.8,612.0L483.0,617.9L483.2,610.3L483.4,608.7L483.6,616.1L483.8,623.3L484.0,633.5L484.2,634.8L484.4,610.7L484.6,609.6L484.8,622.6L485.0,609.4L485.2,636.6L485.4,624.8L485.6,618.9L485.8,635.0L486.0,627.3L486.2,617.9L486.4,625.1L486.6,609.8L486.8,650.1L487.0,629.6L487.2,645.6L487.4,623.5L487.6,626.6L487.8,634.2L488.0,620.3L488.2,627.6L488.4,619.4L488.6,631.3L488.8,617.5L489.0,607.3L489.2,617.5L489.4,635.6L489.6,614.8L489.8,638.2L490.0,641.5L490.2,648.4L490.4,637.0L490.6,619.6L490.9,652.0L491.1,648.5L491.3,618.1L491.5,630.8L491.7,634.5L491.9,638.2L492.1,626.3L492.3,627.0L492.5,630.4L492.7,649.2L492.9,662.4L493.1,643.3L493.3,654.1L493.5,638.5L493.7,662.0L493.9,635.7L494.1,648.7L494.3,622.1L494.5,643.2L494.7,628.0L494.9,633.0L495.1,635.4L495.4,621.5L495.6,608.8L495.8,620.0L496.0,617.5L496.2,640.1L496.4,600.8L496.6,610.4L496.8,603.8L497.0,587.0L497.2,618.3L497.4,604.7L497.6,595.2L497.8,616.6L498.0,616.1L498.2,612.5L498.4,639.7L498.6,619.7L498.8,602.1L499.0,637.3L499.2,613.4L499.4,622.3L499.6,625.7L499.8,613.5L500.0,609.8L500.2,626.9L500.4,633.6L500.6,620.0L500.8,614.1L501.0,641.2L501.2,632.8L501.4,609.0L501.6,626.9L501.8,612.1L502.0,621.4L502.2,620.1L502.5,613.5L502.7,623.0L502.9,606.3L503.1,626.4L503.3,616.2L503.5,619.8L503.7,638.9L503.9,617.8L504.1,620.8L504.3,641.3L504.5,614.9L504.6,611.8L504.7,613.6L504.8,624.8L504.9,621.7L505.1,652.6L505.2,625.0L505.3,632.4L505.4,617.7L505.5,633.0L505.6,634.8L505.7,661.7L505.8,642.4L505.9,636.0L506.1,652.6L506.2,657.1L506.3,640.3L506.4,662.7L506.5,658.8L506.6,659.6L506.7,671.2L506.8,676.6L506.9,668.4L507.0,677.0L507.1,681.6L507.2,691.5L507.2,670.0L507.3,694.7L507.4,685.4L507.5,646.1L507.6,674.1L507.7,700.0L507.8,673.9L507.9,700.0L508.0,699.0L508.1,700.0L508.1,442.6L508.1,442.6L508.3,462.9L508.4,459.6L508.6,453.2L508.8,486.3L508.9,442.6L509.1,454.1L509.3,468.4L509.4,478.8L509.6,484.2L509.8,473.5L509.9,485.6L510.1,485.2L510.3,475.1L510.4,477.0L510.6,510.4L510.7,503.7L510.9,476.2L511.1,482.2L511.2,547.8L511.4,486.7L511.6,484.1L511.7,476.9L511.9,476.2L512.1,508.8L512.2,488.7L512.4,481.5L512.6,494.9L512.7,522.0L512.9,493.5L513.1,514.4L513.2,485.9L513.4,516.0L513.6,525.2L513.7,552.5L513.9,506.8L514.1,487.1L514.2,500.9L514.4,527.9L514.6,520.1L514.7,529.3L514.9,567.2L515.1,555.4L515.2,528.4L515.4,574.0L515.6,556.2L515.7,552.3L515.9,524.8L516.0,555.6L516.2,560.6L516.4,563.6L516.5,529.4L516.7,537.3L516.9,573.2L517.0,574.1L517.2,584.1L517.4,563.7L517.5,527.2L517.7,552.1L517.9,554.4L518.0,560.5L518.2,553.2L518.4,547.2L518.5,545.6L518.7,561.8L518.9,515.7L519.0,552.8L519.2,555.2L519.4,551.4L519.5,535.2L519.7,550.2L519.9,568.5L520.0,534.5L520.2,552.5L520.4,561.5L520.5,566.3L520.7,599.6L520.8,590.6L521.0,583.3L521.2,568.4L521.3,575.7L521.5,575.2L521.7,574.8L521.8,576.4L522.0,610.2L522.2,597.1L522.3,598.4L522.5,565.8L522.7,629.7L522.8,607.7L523.0,623.0L523.2,629.1L523.3,572.8L523.5,595.9L523.7,586.9L523.8,611.9L524.0,606.2L524.2,635.3L524.3,633.5L524.5,637.8L524.7,648.7L524.8,632.2L525.0,661.8L525.2,662.5L525.3,620.3L525.5,678.4L525.7,638.0L525.8,645.2L526.0,644.7L526.1,618.7L526.3,656.1L526.5,620.8L526.6,616.7L526.8,655.7L527.0,630.7L527.1,649.7L527.3,679.5L527.5,638.8L527.6,632.3L527.8,664.5L528.0,613.3L528.1,673.2L528.3,631.5L528.5,660.1L528.6,619.4L528.8,624.7L529.0,637.0L529.1,638.9L529.3,642.2L529.5,689.8L529.6,649.4L529.8,665.3L530.0,683.1L530.1,662.7L530.3,671.4L530.5,644.2L530.6,664.7L530.8,700.0L531.0,700.0L531.2,700.0L531.2,442.6L532.0,442.6L532.1,468.2L532.3,459.5L532.4,459.4L532.6,465.5L532.8,458.4L532.9,442.6L533.1,448.3L533.3,442.6L533.4,457.7L533.6,475.5L533.8,462.8L533.9,468.4L534.1,459.1L534.3,511.6L534.4,451.4L534.6,508.8L534.8,488.1L534.9,515.1L535.1,509.7L535.2,508.2L535.4,518.3L535.6,521.3L535.7,549.1L535.9,514.5L536.1,536.7L536.2,562.9L536.4,562.5L536.6,576.9L536.7,567.8L536.9,555.8L537.1,558.6L537.2,549.3L537.4,552.7L537.6,534.2L537.7,536.1L537.9,569.1L538.1,536.4L538.2,551.0L538.4,580.1L538.6,550.5L538.7,565.0L538.9,540.2L539.0,553.2L539.2,547.0L539.4,536.6L539.5,572.3L539.7,561.3L539.9,560.9L540.0,553.4L540.2,574.2L540.4,582.6L540.5,587.8L540.7,568.1L540.9,571.0L541.0,554.5L541.2,589.5L541.4,565.3L541.5,564.7L541.7,571.2L541.9,587.2L542.0,596.9L542.2,573.0L542.3,586.1L542.5,621.4L542.7,616.4L542.8,628.9L543.0,584.9L543.2,601.8L543.3,610.0L543.5,619.2L543.7,616.2L543.8,635.5L544.0,640.7L544.2,629.0L544.3,625.8L544.5,608.0L544.7,616.6L544.8,615.3L545.0,600.5L545.1,644.5L545.3,634.2L545.5,603.0L545.6,640.1L545.8,656.1L546.0,617.9L546.1,602.6L546.3,673.4L546.5,639.1L546.6,675.7L546.8,657.0L547.0,665.4L547.1,700.0L547.3,668.0L547.5,700.0L547.6,700.0L547.8,691.3L548.0,700.0L548.1,692.6L548.3,700.0L548.5,700.0L548.8,700.0L548.8,442.6L549.5,442.6L549.6,453.9L549.8,456.5L549.9,474.4L550.1,475.0L550.3,442.6L550.4,470.3L550.6,473.1L550.7,495.8L550.9,481.1L551.1,514.0L551.2,488.9L551.4,512.2L551.5,507.0L551.7,530.6L551.9,544.8L552.0,541.7L552.2,528.2L552.4,539.0L552.5,551.5L552.7,563.3L552.8,569.4L553.0,606.0L553.2,584.4L553.3,549.6L553.5,530.5L553.6,577.7L553.8,592.8L554.0,586.0L554.1,577.3L554.3,625.9L554.5,605.1L554.6,623.4L554.8,631.8L554.9,636.2L555.1,589.1L555.3,635.3L555.4,651.0L555.6,641.0L555.7,639.8L555.9,695.7L556.1,661.1L556.2,636.5L556.4,651.4L556.6,671.9L556.7,687.2L556.9,681.0L557.0,684.3L557.2,700.0L557.5,700.0L557.5,442.6L558.2,442.6L558.4,460.2L558.5,471.1L558.7,461.4L558.8,453.2L559.0,478.8L559.2,517.0L559.3,525.0L559.5,514.2L559.6,536.1L559.8,553.3L560.0,577.6L560.1,572.1L560.3,579.6L560.4,606.6L560.6,589.8L560.8,619.8L560.9,620.1L561.1,628.3L561.2,640.4L561.4,655.4L561.6,647.0L561.7,658.8L561.9,670.2L562.0,699.5L562.2,700.0L562.5,700.0L562.5,442.6L563.2,442.6L563.4,442.6L563.5,449.5L563.7,462.8L563.9,442.6L564.0,442.6L564.2,442.6L564.4,481.9L564.5,442.6L564.7,470.5L564.8,499.9L565.0,476.6L565.2,522.0L565.3,512.1L565.5,480.3L565.7,476.7L565.8,461.0L566.0,522.6L566.2,469.6L566.3,514.0L566.5,505.4L566.7,519.4L566.8,502.9L567.0,513.2L567.1,513.4L567.3,510.5L567.5,521.0L567.6,535.0L567.8,509.0L568.0,510.2L568.1,514.2L568.3,527.2L568.5,521.5L568.6,535.1L568.8,522.3L569.0,547.1L569.1,528.9L569.3,567.8L569.4,514.7L569.6,550.1L569.8,565.8L569.9,578.8L570.1,544.5L570.3,547.5L570.4,563.7L570.6,580.5L570.8,560.0L570.9,569.4L571.1,608.7L571.3,567.9L571.4,607.8L571.6,596.2L571.7,605.7L571.9,574.5L572.1,589.0L572.2,575.7L572.4,557.0L572.6,548.2L572.7,565.5L572.9,583.3L573.1,582.2L573.2,587.1L573.4,609.2L573.6,553.7L573.7,546.0L573.9,569.8L574.0,577.2L574.2,548.0L574.4,551.5L574.5,561.5L574.7,545.4L574.9,562.1L575.0,553.7L575.2,585.8L575.4,595.2L575.5,604.7L575.7,622.9L575.9,606.0L576.0,589.7L576.2,581.3L576.3,602.6L576.5,599.8L576.7,639.9L576.8,579.1L577.0,638.7L577.2,607.8L577.3,578.2L577.5,589.4L577.7,651.4L577.8,624.3L578.0,649.3L578.2,648.5L578.3,662.7L578.5,678.3L578.6,643.4L578.8,664.6L579.0,645.9L579.1,641.0L579.3,648.0L579.5,647.1L579.6,664.7L579.8,687.1L580.0,669.8L580.1,700.0L580.3,690.8L580.5,671.4L580.6,670.7L580.8,696.6L581.0,700.0L581.2,700.0L581.2,442.6L582.0,442.6L582.1,488.8L582.3,450.1L582.4,460.8L582.6,461.3L582.8,469.9L582.9,495.1L583.1,474.9L583.3,481.4L583.4,468.8L583.6,503.0L583.7,482.7L583.9,485.4L584.1,492.3L584.2,486.9L584.4,524.9L584.6,506.8L584.7,531.0L584.9,520.6L585.1,544.7L585.2,474.8L585.4,505.3L585.5,481.3L585.7,531.2L585.9,525.8L586.0,517.8L586.2,543.1L586.4,547.4L586.5,524.2L586.7,522.9L586.9,524.7L587.0,555.8L587.2,570.5L587.3,525.1L587.5,552.0L587.7,583.9L587.8,551.3L588.0,551.8L588.2,574.6L588.3,539.2L588.5,572.7L588.7,586.3L588.8,555.1L589.0,585.7L589.1,576.5L589.3,606.8L589.5,600.1L589.6,568.4L589.8,586.5L590.0,596.5L590.1,600.7L590.3,587.4L590.5,602.7L590.6,556.6L590.8,573.9L590.9,582.7L591.1,586.2L591.3,597.1L591.4,588.2L591.6,616.8L591.8,614.6L591.9,640.2L592.1,633.9L592.2,612.5L592.4,645.4L592.6,611.5L592.7,620.5L592.9,615.5L593.1,657.3L593.2,652.3L593.4,672.6L593.6,630.4L593.7,652.8L593.9,658.8L594.0,670.5L594.2,675.5L594.4,661.2L594.5,693.1L594.7,700.0L595.0,700.0L595.0,442.6L595.4,454.5L595.5,699.2L595.7,444.5L595.7,442.6L595.9,464.1L596.0,442.6L596.2,472.7L596.4,463.9L596.5,485.2L596.7,442.6L596.9,509.1L597.0,480.7L597.2,479.2L597.3,490.6L597.5,472.4L597.7,494.7L597.8,472.4L598.0,489.6L598.2,507.3L598.3,493.5L598.5,516.4L598.7,514.2L598.8,492.9L599.0,485.0L599.2,502.7L599.3,467.6L599.5,508.3L599.6,516.9L599.8,512.9L600.0,537.3L600.1,531.8L600.3,516.2L600.5,527.5L600.6,543.6L600.8,569.6L601.0,553.1L601.1,580.8L601.3,524.1L601.5,565.1L601.6,555.5L601.8,530.4L601.9,554.7L602.1,551.0L602.3,544.2L602.4,534.5L602.6,534.5L602.8,541.3L602.9,535.0L603.1,566.0L603.3,549.5L603.4,563.6L603.6,598.1L603.8,582.6L603.9,585.9L604.1,581.7L604.2,609.7L604.4,597.6L604.6,557.8L604.7,561.7L604.9,600.1L605.1,592.9L605.2,570.3L605.4,596.3L605.6,562.4L605.7,582.0L605.9,592.2L606.1,554.9L606.2,567.1L606.4,589.2L606.6,582.6L606.7,549.1L606.9,602.2L607.0,615.0L607.2,561.0L607.4,605.6L607.5,598.7L607.7,596.5L607.9,607.8L608.0,590.1L608.2,612.6L608.4,632.8L608.5,609.3L608.7,603.4L608.9,627.2L609.0,621.7L609.2,597.1L609.3,600.8L609.5,609.9L609.7,623.8L609.8,633.0L610.0,603.2L610.2,623.7L610.3,606.0L610.5,613.7L610.7,633.2L610.8,627.3L611.0,637.4L611.2,626.5L611.3,668.8L611.5,697.5L611.6,679.5L611.8,680.4L612.0,700.0L612.1,685.6L612.3,653.9L612.5,699.9L612.6,700.0L612.8,698.8L613.0,696.5L613.1,695.5L613.3,700.0L613.5,700.0L613.6,698.1L613.8,687.2L614.0,700.0L614.2,700.0L614.2,442.6L615.0,442.6L615.1,462.6L615.3,449.8L615.4,442.6L615.6,442.6L615.8,459.3L615.9,442.6L616.1,444.5L616.3,462.5L616.4,488.7L616.6,479.9L616.8,486.7L616.9,456.3L617.1,479.6L617.2,505.2L617.4,504.5L617.6,495.6L617.7,507.4L617.9,505.7L618.1,508.8L618.2,545.9L618.4,514.2L618.6,536.5L618.7,538.3L618.9,554.2L619.1,538.2L619.2,556.4L619.4,583.7L619.5,584.0L619.7,602.7L619.9,614.3L620.0,574.1L620.2,586.3L620.4,586.2L620.5,597.2L620.7,582.5L620.9,587.0L621.0,610.7L621.2,568.4L621.4,581.6L621.5,606.8L621.7,587.8L621.8,594.9L622.0,622.7L622.2,615.0L622.3,573.6L622.5,582.4L622.7,607.9L622.8,613.1L623.0,602.6L623.2,609.5L623.3,624.6L623.5,642.9L623.7,627.1L623.8,645.2L624.0,615.9L624.1,643.9L624.3,663.2L624.5,677.1L624.6,644.3L624.8,675.3L625.0,681.9L625.1,673.0L625.3,664.7L625.5,654.9L625.6,700.0L625.8,678.4L626.0,700.0L626.2,700.0L626.2,442.6L627.0,442.6L627.1,445.1L627.3,476.1L627.4,476.8L627.6,463.1L627.8,476.4L627.9,479.9L628.1,457.3L628.3,501.5L628.4,481.8L628.6,501.8L628.8,500.6L628.9,524.0L629.1,497.6L629.2,517.6L629.4,543.7L629.6,499.5L629.7,538.0L629.9,557.3L630.1,552.5L630.2,537.8L630.4,528.3L630.6,521.0L630.7,554.6L630.9,559.5L631.1,585.6L631.2,586.6L631.4,568.5L631.6,580.4L631.7,544.8L631.9,537.4L632.0,553.3L632.2,575.0L632.4,559.8L632.5,577.5L632.7,589.6L632.9,592.4L633.0,544.5L633.2,552.0L633.4,541.2L633.5,574.1L633.7,571.7L633.9,577.5L634.0,593.5L634.2,586.0L634.3,581.4L634.5,589.2L634.7,605.1L634.8,606.2L635.0,589.9L635.2,628.4L635.3,594.5L635.5,630.6L635.7,637.6L635.8,646.7L636.0,587.3L636.1,606.6L636.3,619.4L636.5,630.8L636.6,639.6L636.8,627.5L637.0,640.4L637.1,680.0L637.3,692.8L637.5,685.9L637.6,689.0L637.8,676.2L638.0,669.0L638.1,700.0L638.3,700.0L638.5,700.0L638.8,700.0L638.8,442.6L639.1,496.9L639.2,697.0L639.5,443.1L639.5,442.6L639.6,448.2L639.8,442.6L639.9,460.9L640.1,452.0L640.3,470.9L640.4,470.7L640.6,465.9L640.8,499.2L640.9,465.4L641.1,486.3L641.2,487.3L641.4,496.9L641.6,489.8L641.7,512.4L641.9,548.7L642.1,531.1L642.2,543.8L642.4,525.5L642.5,522.4L642.7,542.7L642.9,520.3L643.0,535.4L643.2,541.8L643.4,583.1L643.5,551.9L643.7,581.0L643.8,570.6L644.0,530.7L644.2,561.6L644.3,565.0L644.5,591.4L644.7,578.9L644.8,585.1L645.0,598.8L645.1,628.2L645.3,589.9L645.5,601.0L645.6,616.4L645.8,616.7L646.0,614.1L646.1,631.4L646.3,623.2L646.4,631.5L646.6,647.3L646.8,652.9L646.9,648.9L647.1,655.0L647.3,669.3L647.4,678.6L647.6,656.1L647.7,677.0L647.9,663.7L648.1,649.4L648.2,646.7L648.4,639.8L648.6,631.7L648.7,660.0L648.9,694.3L649.0,671.7L649.2,674.5L649.4,689.6L649.5,647.2L649.7,700.0L650.0,700.0L650.0,442.6L650.7,442.6L650.9,446.9L651.0,450.4L651.2,477.0L651.4,493.3L651.5,447.8L651.7,472.8L651.8,479.9L652.0,475.1L652.2,468.6L652.3,483.5L652.5,483.9L652.7,505.7L652.8,508.4L653.0,483.6L653.1,543.3L653.3,530.4L653.5,491.2L653.6,533.5L653.8,514.0L654.0,550.7L654.1,545.6L654.3,567.1L654.5,562.2L654.6,566.8L654.8,592.0L654.9,600.4L655.1,563.0L655.3,585.5L655.4,604.2L655.6,616.6L655.8,596.7L655.9,616.2L656.1,602.7L656.2,626.0L656.4,628.2L656.6,656.5L656.7,642.0L656.9,672.8L657.1,651.0L657.2,691.6L657.4,700.0L657.5,688.6L657.7,655.2L657.9,691.3L658.0,700.0L658.2,700.0L658.5,700.0L658.5,442.6M658.7,443.1L658.9,699.0L659.1,443.1L659.8,699.0M660.2,443.7L660.3,699.9L660.5,443.7L660.9,699.9M661.6,443.9L661.8,699.2L662.0,443.9L662.3,699.2M663.0,444.1L663.3,699.8M664.4,444.7L664.9,699.6L665.1,444.7L665.6,699.6M665.9,444.2L666.4,699.7M666.3,442.6L666.3,442.6L666.4,496.2L666.6,489.9L666.7,470.2L666.8,504.5L666.9,516.6L667.1,588.2L667.2,551.3L667.3,591.0L667.4,615.9L667.6,589.9L667.7,605.9L667.8,603.2L667.9,606.0L668.1,609.2L668.2,636.9L668.3,677.7L668.5,700.0L668.8,700.0L668.8,442.6L668.8,442.6L668.9,487.1L669.0,490.8L669.1,474.8L669.3,513.9L669.4,507.1L669.5,552.8L669.7,507.8L669.8,555.6L669.9,588.8L670.0,599.2L670.2,588.0L670.3,601.6L670.4,663.9L670.6,669.0L670.7,680.5L670.8,695.2L671.0,700.0L671.2,700.0L671.2,442.6L671.2,442.6L671.4,466.9L671.5,477.5L671.7,464.3L671.8,486.8L671.9,463.4L672.1,442.6L672.2,534.7L672.3,540.8L672.5,471.8L672.6,518.1L672.7,526.0L672.9,535.7L673.0,514.2L673.1,509.1L673.3,521.5L673.4,590.4L673.5,531.9L673.7,582.9L673.8,577.6L673.9,574.6L674.1,616.4L674.2,619.6L674.3,630.6L674.5,641.4L674.6,647.7L674.7,646.0L674.9,677.4L675.0,637.6L675.1,630.9L675.3,660.4L675.4,639.1L675.5,696.5L675.7,688.6L675.8,656.8L676.0,700.0L676.2,700.0L676.2,442.6L676.6,455.1L676.8,699.1L677.0,444.6L676.2,442.6L676.4,451.8L676.5,442.6L676.7,442.6L676.8,477.7L676.9,448.5L677.1,463.2L677.2,531.1L677.4,534.3L677.5,518.5L677.6,519.3L677.8,539.3L677.9,559.6L678.0,541.2L678.2,604.0L678.3,577.3L678.5,558.0L678.6,580.6L678.7,596.9L678.9,677.1L679.0,605.6L679.2,614.9L679.3,552.4L679.4,610.7L679.6,638.7L679.7,677.5L679.8,627.6L680.0,626.0L680.1,700.0L680.3,645.1L680.4,649.5L680.5,671.7L680.7,611.2L680.8,662.1L681.0,666.2L681.1,692.6L681.2,648.8L681.4,652.2L681.5,694.9L681.6,688.2L681.8,638.7L681.9,623.8L682.1,671.1L682.2,700.0L682.5,700.0L682.5,442.6L682.5,442.6L682.6,442.6L682.8,459.9L682.9,505.5L683.0,504.5L683.2,461.2L683.3,529.5L683.4,477.2L683.6,562.4L683.7,492.3L683.8,532.5L684.0,564.0L684.1,523.8L684.2,583.6L684.4,521.4L684.5,571.8L684.6,544.5L684.8,591.0L684.9,556.3L685.1,600.5L685.2,642.1L685.3,553.1L685.5,601.2L685.6,605.3L685.7,642.9L685.9,595.4L686.0,636.1L686.1,637.9L686.3,651.0L686.4,622.3L686.5,681.9L686.7,638.7L686.8,697.5L686.9,677.7L687.1,700.0L687.2,700.0L687.5,700.0L687.5,442.6L687.5,442.6L687.6,442.6L687.8,442.6L687.9,479.6L688.1,443.3L688.2,504.4L688.3,495.6L688.5,497.2L688.6,472.9L688.7,485.1L688.9,515.8L689.0,504.6L689.2,496.3L689.3,532.2L689.4,473.3L689.6,480.0L689.7,500.6L689.9,508.3L690.0,486.2L690.1,555.0L690.3,544.8L690.4,528.2L690.5,504.6L690.7,516.7L690.8,562.1L691.0,571.8L691.1,636.2L691.2,599.8L691.4,596.0L691.5,596.8L691.7,616.8L691.8,596.9L691.9,607.5L692.1,605.5L692.2,590.4L692.3,590.2L692.5,584.4L692.6,622.3L692.8,627.8L692.9,614.9L693.0,674.8L693.2,661.7L693.3,671.9L693.5,700.0L693.8,700.0L693.8,442.6L693.8,442.6L693.9,460.1L694.0,493.7L694.2,471.2L694.3,442.6L694.4,463.1L694.6,498.1L694.7,478.2L694.9,501.2L695.0,548.4L695.1,521.1L695.3,484.6L695.4,467.8L695.5,524.6L695.7,516.9L695.8,560.5L696.0,573.3L696.1,521.7L696.2,547.3L696.4,597.4L696.5,627.3L696.7,577.0L696.8,587.7L696.9,549.6L697.1,558.2L697.2,607.6L697.3,482.9L697.5,608.1L697.6,582.7L697.8,610.8L697.9,602.3L698.0,656.9L698.2,565.2L698.3,623.2L698.5,619.9L698.6,632.3L698.7,647.6L698.9,584.4L699.0,620.0L699.1,672.0L699.3,658.0L699.4,646.6L699.6,657.6L699.7,700.0L700.0,700.0L700.0,442.6L700.0,442.6L700.1,442.6L700.3,476.3L700.4,482.9L700.5,485.2L700.7,447.1L700.8,476.5L701.0,462.6L701.1,485.4L701.2,478.2L701.4,513.5L701.5,530.6L701.6,484.0L701.8,497.4L701.9,482.3L702.1,469.9L702.2,536.3L702.3,546.3L702.5,522.9L702.6,569.3L702.7,503.9L702.9,492.8L703.0,596.2L703.1,581.6L703.3,571.8L703.4,587.7L703.6,523.9L703.7,592.6L703.8,566.1L704.0,581.9L704.1,574.3L704.2,553.4L704.4,586.3L704.5,586.3L704.6,619.4L704.8,612.3L704.9,645.8L705.1,600.7L705.2,600.7L705.3,667.8L705.5,667.3L705.6,646.8L705.7,634.6L705.9,627.6L706.0,663.5L706.2,626.6L706.3,675.5L706.4,627.8L706.6,643.2L706.7,700.0L707.0,700.0L707.0,442.6L707.4,463.4L707.5,698.4L707.7,443.1L707.0,442.6L707.1,461.7L707.3,550.7L707.4,446.2L707.5,532.6L707.7,456.7L707.8,453.7L708.0,498.5L708.1,493.8L708.2,512.8L708.4,522.5L708.5,509.9L708.6,508.2L708.8,514.8L708.9,581.9L709.1,538.0L709.2,549.0L709.3,578.9L709.5,622.2L709.6,522.1L709.7,562.7L709.9,577.9L710.0,533.3L710.2,563.8L710.3,534.6L710.4,568.3L710.6,541.5L710.7,610.6L710.8,593.3L711.0,611.2L711.1,595.6L711.3,620.6L711.4,590.2L711.5,569.7L711.7,637.3L711.8,632.2L711.9,640.6L712.1,648.2L712.2,692.6L712.4,666.3L712.5,692.6L712.6,643.6L712.8,697.3L712.9,696.6L713.0,700.0L713.2,679.2L713.3,697.7L713.5,700.0L713.8,700.0L713.8,442.6L714.1,481.0L714.2,699.1L714.5,444.3L714.0,442.6L714.3,447.4L714.7,452.8L715.0,450.1L715.3,462.8L715.7,463.4L716.0,471.5L716.2,490.3L716.4,470.5L716.6,496.0L716.8,481.5L716.9,486.1L717.1,496.2L717.3,499.4L717.5,500.4L717.8,495.4L718.1,498.2L718.4,528.6L718.7,511.8L719.0,512.1L719.2,537.9L719.5,519.2L719.8,522.6L720.1,545.2L720.4,538.9L720.7,541.7L721.0,547.9L721.3,553.6L721.6,560.4L721.9,565.0L722.1,566.9L722.4,554.8L722.7,572.6L723.0,586.1L723.3,575.5L723.6,589.2L723.9,581.1L724.1,605.4L724.4,605.7L724.7,604.1L725.0,609.1L725.1,620.3L725.2,613.5L725.2,622.7L725.3,621.7L725.4,632.7L725.5,619.0L725.5,636.6L725.6,648.5L725.7,653.5L725.8,640.6L725.9,646.4L725.9,645.5L726.0,657.3L726.1,650.4L726.2,661.3L726.3,685.3L726.3,681.2L726.4,680.8L726.5,683.3L726.6,687.4L726.6,700.0L726.7,690.9L726.8,700.0L727.0,700.0L727.0,442.6L727.0,442.6L727.1,442.6L727.3,464.7L727.4,465.5L727.5,463.0L727.7,462.9L727.8,467.2L728.0,491.6L728.1,506.8L728.2,472.2L728.4,481.7L728.5,560.3L728.6,496.8L728.8,548.7L728.9,477.5L729.1,527.7L729.2,528.7L729.3,518.1L729.5,551.1L729.6,548.9L729.7,559.2L729.9,641.2L730.0,592.3L730.2,583.7L730.3,587.9L730.4,532.3L730.6,590.9L730.7,560.3L730.8,579.6L731.0,642.1L731.1,564.5L731.3,605.0L731.4,633.9L731.5,642.5L731.7,653.1L731.8,656.0L731.9,643.6L732.1,636.2L732.2,632.7L732.4,695.6L732.5,700.0L732.6,651.1L732.8,695.3L732.9,683.0L733.0,700.0L733.2,700.0L733.3,700.0L733.5,700.0L733.8,700.0L733.8,442.6L734.1,459.4L734.2,697.3L734.5,442.9L733.8,442.6L733.9,489.1L734.0,504.6L734.2,497.0L734.3,502.2L734.4,459.5L734.6,455.8L734.7,485.7L734.8,487.8L735.0,517.6L735.1,543.3L735.2,541.2L735.4,492.9L735.5,551.8L735.6,539.8L735.8,598.5L735.9,555.0L736.0,592.0L736.2,510.5L736.3,543.4L736.4,564.5L736.6,587.5L736.7,578.9L736.8,585.0L737.0,600.0L737.1,637.0L737.2,614.0L737.4,612.6L737.5,569.2L737.6,674.3L737.8,635.9L737.9,635.8L738.0,662.9L738.2,677.6L738.3,677.5L738.5,700.0L738.8,700.0L738.8,442.6L739.1,448.3L739.2,698.1L739.5,445.3L738.8,442.6L738.9,455.4L739.0,457.4L739.2,442.6L739.3,455.6L739.4,482.9L739.6,442.6L739.7,532.8L739.8,529.7L740.0,577.9L740.1,529.4L740.2,541.9L740.4,554.5L740.5,524.7L740.6,550.3L740.8,527.6L740.9,598.3L741.0,600.9L741.2,611.6L741.3,580.6L741.4,592.4L741.6,597.5L741.7,626.6L741.8,604.1L742.0,637.5L742.1,628.0L742.2,633.1L742.4,659.7L742.5,663.7L742.6,700.0L742.8,688.6L742.9,688.0L743.0,700.0L743.2,698.0L743.3,662.9L743.5,700.0L743.8,700.0L743.8,442.6L744.1,469.6L744.2,699.3L744.5,444.4L743.8,442.6L743.9,442.6L744.0,460.4L744.2,442.6L744.3,481.3L744.4,442.6L744.6,442.6L744.7,442.6L744.9,442.6L745.0,442.6L745.1,478.0L745.3,442.6L745.4,496.9L745.5,472.7L745.7,505.1L745.8,527.4L746.0,512.9L746.1,460.4L746.2,498.3L746.4,564.9L746.5,569.1L746.7,556.4L746.8,585.1L746.9,581.0L747.1,640.0L747.2,601.6L747.4,576.2L747.5,669.2L747.6,655.2L747.8,577.9L747.9,640.1L748.0,586.0L748.2,576.9L748.3,634.1L748.5,590.8L748.6,619.9L748.7,645.1L748.9,610.4L749.0,607.7L749.1,590.2L749.3,652.2L749.4,611.6L749.6,631.4L749.7,616.5L749.8,642.8L750.0,573.7L750.1,700.0L750.3,657.6L750.4,663.6L750.5,700.0L750.7,697.8L750.8,675.9L751.0,700.0L751.2,700.0L751.2,442.6L751.6,468.8L751.8,698.9L752.0,443.0L751.2,442.6L751.4,457.8L751.5,452.6L751.7,487.0L751.8,448.4L751.9,493.8L752.1,508.5L752.2,512.0L752.4,532.5L752.5,495.9L752.6,473.4L752.8,512.7L752.9,529.0L753.0,529.1L753.2,469.4L753.3,521.4L753.5,549.0L753.6,589.7L753.7,577.2L753.9,592.8L754.0,556.6L754.2,560.8L754.3,540.1L754.4,604.3L754.6,546.7L754.7,615.9L754.9,633.1L755.0,599.2L755.1,612.3L755.3,684.9L755.4,618.8L755.5,647.3L755.7,630.7L755.8,638.4L756.0,636.2L756.1,660.0L756.2,603.5L756.4,672.6L756.5,651.9L756.6,657.5L756.8,627.6L756.9,639.6L757.1,669.9L757.2,665.0L757.3,696.8L757.5,667.6L757.6,700.0L757.8,680.6L757.9,673.5L758.0,683.6L758.2,680.8L758.3,700.0L758.5,700.0L758.8,700.0L758.8,442.6L758.8,442.6L758.9,442.6L759.0,482.2L759.2,442.6L759.3,442.6L759.4,459.8L759.6,442.6L759.7,464.2L759.9,465.1L760.0,442.6L760.1,483.0L760.3,529.2L760.4,536.1L760.5,542.7L760.7,549.7L760.8,542.2L761.0,531.7L761.1,546.8L761.2,588.1L761.4,560.3L761.5,605.5L761.7,606.4L761.8,580.6L761.9,595.7L762.1,615.1L762.2,581.0L762.3,627.0L762.5,597.9L762.6,644.1L762.8,617.4L762.9,652.8L763.0,646.9L763.2,693.9L763.3,686.6L763.5,677.0L763.6,662.9L763.7,678.3L763.9,700.0L764.0,700.0L764.1,673.9L764.3,698.5L764.4,700.0L764.6,700.0L764.7,700.0L765.0,700.0L765.0,442.6L765.2,444.5L765.2,446.1L765.2,448.9L765.2,457.4L765.3,461.9L765.3,460.0L765.3,464.2L765.3,468.7L765.3,475.7L765.3,483.0L765.4,480.5L765.4,482.9L765.4,493.3L765.4,497.6L765.4,501.7L765.4,504.0L765.4,503.5L765.5,511.2L765.5,514.2L765.5,517.3L765.5,521.9L765.5,523.1L765.5,530.5L765.5,532.6L765.6,543.6L765.6,543.6L765.6,547.4L765.6,552.1L765.6,556.9L765.6,560.5L765.7,559.1L765.7,569.3L765.7,565.5L765.7,576.6L765.7,576.2L765.7,586.3L765.7,586.1L765.8,594.5L765.8,596.8L765.8,598.5L765.8,601.3L765.8,605.7L765.8,609.4L765.8,616.3L765.9,621.8L765.9,620.5L765.9,629.2L765.9,634.2L765.9,631.5L765.9,638.5L766.0,640.5L766.0,650.5L766.0,650.3L766.0,655.0L766.0,681.5L766.1,664.1L766.3,674.6L766.5,665.1L766.6,674.8L766.8,668.9L766.9,681.0L767.0,689.3L767.2,688.3L767.4,690.0L767.5,639.5L767.6,672.8L767.8,694.7L768.0,692.9L768.1,675.4L768.2,668.7L768.4,659.5L768.5,670.8L768.7,700.0L768.9,653.1L769.0,681.1L769.1,679.2L769.3,689.0L769.4,686.5L769.6,688.8L769.7,664.5L769.9,685.7L770.0,689.7L770.2,670.2L770.3,675.7L770.5,658.4L770.6,665.7L770.6,672.7L770.7,679.0L770.7,689.8L770.8,680.9L770.8,695.3L770.9,697.3L770.9,668.4L771.0,700.0L771.0,687.7L771.1,687.6L771.1,700.0L771.2,700.0L771.2,442.6L771.4,443.9L771.4,442.6L771.4,442.6L771.4,442.6L771.4,442.6L771.4,449.0L771.4,442.6L771.4,470.7L771.4,456.2L771.4,460.2L771.4,471.5L771.4,455.8L771.4,479.4L771.5,460.6L771.5,483.0L771.5,472.6L771.5,454.6L771.5,452.6L771.5,458.0L771.5,480.4L771.5,483.9L771.5,472.8L771.5,472.0L771.5,492.1L771.5,504.0L771.5,486.2L771.5,505.1L771.5,486.9L771.5,494.7L771.5,482.9L771.5,483.6L771.5,485.6L771.5,497.6L771.5,518.5L771.5,485.8L771.5,496.8L771.5,499.9L771.5,501.1L771.6,511.0L771.6,520.6L771.6,509.0L771.6,516.8L771.6,522.6L771.6,532.3L771.6,520.8L771.6,507.2L771.6,539.6L771.6,529.1L771.6,531.2L771.6,543.7L771.6,520.6L771.6,524.1L771.6,536.2L771.6,549.8L771.6,538.2L771.6,531.3L771.6,538.5L771.6,543.4L771.6,548.8L771.6,544.4L771.6,554.7L771.6,576.9L771.6,554.2L771.6,545.0L771.7,553.4L771.7,553.2L771.7,561.7L771.7,547.1L771.7,553.3L771.7,566.9L771.7,557.4L771.7,558.8L771.7,558.5L771.7,560.4L771.7,574.6L771.7,588.1L771.7,578.7L771.7,579.7L771.7,587.1L771.7,586.6L771.7,566.7L771.7,589.6L771.7,583.0L771.7,572.4L771.7,606.6L771.7,598.6L771.7,571.8L771.7,580.6L771.7,592.0L771.8,597.4L771.8,626.2L771.8,588.3L771.8,588.2L771.8,596.4L771.8,591.3L771.8,602.6L771.8,608.6L771.8,609.6L771.8,623.8L771.8,617.9L771.8,603.9L771.8,629.5L771.8,614.1L771.8,619.0L771.8,621.9L771.8,614.4L771.8,626.5L771.8,617.4L771.8,631.4L771.8,633.1L771.8,637.0L771.8,649.3L771.8,634.3L771.8,631.9L771.9,655.1L771.9,634.4L771.9,634.2L771.9,640.6L771.9,640.4L771.9,637.2L771.9,668.3L771.9,654.2L771.9,652.7L771.9,650.6L771.9,660.3L771.9,651.4L771.9,665.4L772.0,672.1L772.0,641.7L772.1,657.3L772.2,649.7L772.2,664.4L772.3,694.4L772.3,674.3L772.4,672.4L772.5,670.7L772.5,700.0L772.6,675.0L772.8,690.3L772.9,684.1L773.1,684.5L773.2,682.3L773.4,661.5L773.4,675.8L773.4,691.1L773.4,674.6L773.5,674.7L773.5,685.3L773.5,700.0L773.5,681.8L773.5,700.0L773.5,696.4L773.5,674.7L773.6,686.6L773.6,688.9L773.6,700.0L773.6,700.0L773.8,700.0L773.8,442.6L773.9,447.9L774.0,442.6L774.2,449.8L774.3,450.9L774.5,442.6L774.6,452.0L774.8,453.3L774.9,464.3L775.1,466.9L775.2,463.9L775.4,472.5L775.5,471.0L775.7,473.3L775.9,483.2L776.0,473.3L776.2,474.6L776.4,480.7L776.6,502.7L776.8,496.1L777.0,489.3L777.1,485.3L777.3,492.8L777.5,501.6L777.7,505.6L777.9,503.5L778.1,499.3L778.3,511.2L778.5,500.4L778.7,502.9L778.9,500.2L779.1,511.8L779.3,497.5L779.5,512.5L779.7,531.2L779.9,503.0L780.1,509.6L780.3,530.4L780.5,506.6L780.7,527.9L780.9,528.2L781.1,530.7L781.3,534.6L781.5,532.1L781.7,531.4L781.9,510.7L782.1,536.8L782.3,541.1L782.5,532.7L782.7,523.3L782.9,544.4L783.1,539.0L783.3,539.5L783.5,530.7L783.7,547.2L783.9,550.8L784.1,556.2L784.3,556.1L784.5,544.0L784.7,552.1L784.9,548.8L785.1,539.1L785.3,535.1L785.5,563.9L785.7,561.3L785.9,547.2L786.1,558.3L786.3,563.8L786.5,575.8L786.7,552.9L786.9,566.9L787.1,585.2L787.3,576.1L787.5,548.0L787.7,569.2L787.9,579.2L788.1,566.8L788.3,561.6L788.5,564.6L788.7,538.0L788.9,584.5L789.1,567.0L789.3,572.7L789.5,576.3L789.7,578.0L789.9,596.1L790.0,595.0L790.2,599.7L790.4,585.3L790.6,587.0L790.8,602.9L791.0,611.6L791.2,605.0L791.2,615.1L791.4,632.0L791.6,586.3L791.8,624.2L792.1,592.3L792.3,618.0L792.5,611.9L792.7,627.3L792.9,623.0L793.1,620.5L793.4,641.6L793.6,639.6L793.8,623.1L794.0,619.2L794.2,625.7L794.4,624.0L794.6,642.9L794.8,625.0L795.0,638.1L795.2,630.8L795.4,623.7L795.6,640.2L795.8,596.0L796.0,634.4L796.2,626.6L796.4,630.6L796.6,595.4L796.8,624.4L797.0,621.8L797.2,633.7L797.4,631.6L797.6,626.3L797.8,623.5L798.0,617.8L798.2,624.6L798.4,605.4L798.6,640.2L798.8,629.8L799.0,611.1L799.2,639.4L799.4,624.9L799.6,627.2L799.8,646.2L800.0,632.1L800.2,634.4L800.4,636.0L800.6,626.8L800.8,626.7L801.0,643.8L801.2,635.3L801.4,640.2L801.6,628.5L801.8,643.5L802.0,632.5L802.2,653.4L802.4,653.5L802.6,643.4L802.9,648.8L803.1,621.7L803.3,634.9L803.5,626.5L803.7,623.4L803.9,644.0L804.1,620.6L804.3,609.5L804.5,625.0L804.8,694.0L805.0,442.6L805.2,694.0L805.4,656.4L805.6,638.7L805.8,627.2L806.0,650.4L806.2,655.4L806.4,643.7L806.6,629.2L806.8,637.8L807.0,634.6L807.2,621.6L807.4,603.3L807.6,613.2L807.8,606.1L808.0,621.4L808.2,638.9L808.4,610.1L808.6,627.7L808.8,617.1L809.0,624.7L809.2,617.3L809.4,610.0L809.6,642.1L809.8,638.2L810.0,611.5L810.2,631.3L810.4,627.5L810.6,641.4L810.8,621.7L811.0,639.4L811.2,637.6L811.4,632.0L811.6,633.8L811.8,626.3L812.0,649.7L812.2,638.6L812.4,641.3L812.6,632.7L812.8,640.8L813.0,647.7L813.2,635.8L813.4,640.5L813.6,644.0L813.8,637.0L814.0,605.5L814.2,640.4L814.4,607.7L814.6,639.2L814.8,642.8L815.0,637.6L815.0,657.6L815.1,646.3L815.1,620.3L815.1,623.9L815.2,632.3L815.2,626.0L815.3,609.7L815.3,615.9L815.3,625.6L815.4,631.6L815.4,614.0L815.4,627.0L815.5,611.9L815.5,601.0L815.5,601.4L815.6,603.7L815.6,604.0L815.7,606.2L815.7,586.8L815.7,598.4L815.8,593.1L815.8,600.0L815.8,593.3L815.9,596.7L815.9,566.0L815.9,555.1L816.0,568.9L816.0,576.0L816.1,565.8L816.1,570.9L816.1,546.2L816.2,553.0L816.2,560.0L816.4,568.8L816.7,552.7L816.9,555.0L817.2,560.1L817.5,562.6L817.7,555.0L818.0,566.3L818.2,558.5L818.5,561.4L818.8,571.2L819.0,563.9L819.2,589.1L819.5,584.9L819.8,579.1L820.0,579.0L820.2,583.8L820.5,588.8L820.8,588.7L821.0,583.7L821.2,599.8L821.5,585.7L821.5,595.9L821.5,613.3L821.6,610.4L821.6,623.0L821.6,626.8L821.6,620.4L821.7,631.9L821.7,626.4L821.7,631.4L821.7,624.3L821.8,627.0L821.8,640.5L821.8,646.1L821.8,642.5L821.9,646.8L821.9,660.1L821.9,651.7L821.9,654.7L822.0,649.6L822.0,670.3L822.0,677.4L822.0,674.9L822.1,659.8L822.1,669.2L822.1,675.1L822.1,676.1L822.2,683.5L822.2,683.0L822.2,681.6L822.2,683.8L822.3,700.0L822.3,690.5L822.3,700.0L822.5,700.0L822.5,442.6M823.5,442.6L823.7,698.6L823.9,442.6L824.3,698.6M826.7,443.9L827.0,699.1L827.3,443.9L827.9,699.1M829.5,442.8L829.9,699.3M832.4,442.6L832.9,698.9M835.8,443.4L836.1,697.2M836.0,442.6L836.2,583.3L836.4,698.3L836.4,442.6L836.7,595.6L837.0,699.4L837.0,443.6L837.3,558.9L837.5,697.4L837.5,442.9L837.8,552.1L838.1,699.9L838.1,445.2L838.4,537.1L838.6,699.2L838.6,443.0L838.9,554.6L839.2,699.3L839.2,445.3L839.5,575.1L839.8,699.3L839.8,444.0L840.1,514.2L840.1,444.5L840.5,510.4L840.5,442.6L840.7,515.3L840.7,444.0L841.1,519.9L841.5,698.7L841.5,442.9L841.7,543.2L841.9,699.8L841.9,445.6L842.1,550.6L842.3,699.5L842.3,443.3L842.5,613.1L842.8,699.9L842.8,443.1L843.0,557.4L843.2,696.8L843.2,443.0L843.6,584.5L844.0,697.6L844.0,442.8L844.4,572.1L844.8,699.9L844.8,443.9L845.1,585.7L845.5,699.4L845.5,443.4L845.8,586.2L846.2,699.6L846.2,442.8L846.5,594.3L846.9,699.6L846.9,444.2L847.1,586.0L847.4,697.0L847.4,444.3L847.7,558.7L848.1,699.0L848.1,442.8L848.3,567.5L848.6,699.8L848.6,443.6L849.0,546.9L849.4,698.6L849.4,444.0L849.8,567.3L850.1,696.1L850.1,443.3L850.4,592.8L850.8,699.7L850.8,442.6L850.9,578.3L851.1,699.4L851.1,603.7L851.5,698.3L851.5,607.5L851.9,694.6L851.9,602.0L852.0,699.3L852.0,442.6L852.2,607.2L852.4,697.1L852.4,442.6L852.6,555.2L852.9,699.1L852.9,444.2L853.1,550.9L853.3,699.6L853.3,442.9L853.6,556.8L853.8,697.5L853.8,442.7L854.3,570.5L854.7,698.8L854.7,444.1L855.0,573.9L855.3,699.8L855.3,444.3L855.6,585.1L855.9,699.2L855.9,443.2L856.1,576.7L856.3,699.7L856.3,442.8L856.6,580.4L857.0,699.1L857.0,444.2L857.4,593.0L857.4,442.6L857.7,588.3L857.7,443.0L858.0,591.2L858.0,442.6L858.4,600.8L858.4,442.6L858.7,588.1L858.7,444.1L859.0,600.5L859.4,697.9L859.4,443.5L859.8,594.7L860.1,699.3L860.1,443.1L860.4,575.5L860.8,699.2L860.8,442.9L861.0,579.7L861.2,699.7L861.2,444.0L861.5,539.8L861.7,697.8L861.7,443.1L862.1,554.6L862.5,699.1L862.5,443.6L862.8,560.8L863.0,698.6L863.0,443.5L863.2,593.7L863.4,697.7L863.4,443.0L863.7,560.8L864.0,699.6L864.0,443.3L864.2,594.5L864.4,697.8L864.4,443.4L864.6,569.4L864.9,698.7L864.9,443.9L865.1,585.0L865.4,697.8L865.4,442.7L865.7,562.1L866.1,698.6L866.1,443.2L866.3,535.6L866.5,699.1L866.5,443.8L866.9,604.5L867.3,699.5L867.3,443.4L867.5,571.6L867.7,699.3L867.7,442.8L868.0,552.1L868.3,697.5L868.3,443.2L868.5,569.9L868.7,699.8L868.7,445.5L869.1,554.9L869.6,699.3L869.6,444.3L869.7,595.0L869.9,699.9L869.9,443.6L870.1,588.6L870.3,699.7L870.3,443.8L870.5,573.9L870.7,699.4L870.7,442.6L870.9,579.0L871.1,699.6L871.1,443.4L871.3,568.7L871.5,698.3L871.5,443.2L871.8,607.8L872.1,699.7L872.1,443.1L872.3,597.7L872.5,699.0L872.5,443.1L872.9,617.1L873.2,698.4L873.2,443.5L873.5,551.7L873.8,699.1L873.8,539.8L874.2,694.8L874.2,537.5L874.5,694.8L874.5,540.3L874.9,696.8L874.9,539.9L875.2,699.1L875.2,443.0L875.4,583.1L875.6,699.3L875.6,444.0L876.0,546.2L876.4,698.8L876.4,443.0L876.7,570.0L877.0,699.7L877.0,442.8L877.4,566.4L877.8,699.8L877.8,443.1L878.2,522.4L878.5,697.8L878.5,444.4L878.7,555.3L878.9,698.6L878.9,443.7L879.1,571.4L879.3,699.4L879.3,443.0L879.5,594.5L879.8,697.1L879.8,443.0L880.2,582.0L880.7,699.3L880.7,564.7L881.1,700.0L881.1,561.6L881.5,695.5L881.5,563.2L881.9,696.1L881.9,561.3L882.0,700.0L882.0,444.1L882.3,613.4L882.6,698.4L882.6,442.7L882.8,559.5L883.1,698.7L883.1,443.7L883.4,546.3L883.8,699.7L883.8,442.7L884.0,582.8L884.2,699.2L884.2,443.0L884.5,533.6L884.7,699.8L884.7,445.4L885.2,650.4L885.2,444.2L885.5,648.1L885.5,443.5L885.9,636.0L885.9,442.6L886.3,598.2L886.7,699.8L886.7,445.1L887.0,562.9L887.3,699.0L887.3,443.1L887.7,581.3L888.0,698.8L888.0,442.6L888.3,571.0L888.6,698.4L888.6,443.2L888.9,578.8L889.3,699.1L889.3,443.2L889.6,643.4L889.8,698.2L889.8,442.7L890.2,556.9L890.5,699.1L890.5,442.7L890.8,571.0L891.1,698.3L891.1,443.9L891.4,607.9L891.7,699.4L891.7,443.3L892.0,525.0L892.3,699.4L892.3,443.4L892.7,528.3L893.1,699.9L893.1,444.0L893.4,583.5L893.8,699.9L893.8,442.7L894.0,602.1L894.3,699.6L894.3,592.4L894.7,690.4L894.7,593.8L895.1,697.9L895.1,595.9L895.2,700.0L895.2,443.6L895.6,556.8L896.0,699.6L896.0,442.9L896.0,565.7L896.0,699.4L896.0,443.6L896.5,598.0L896.5,442.6L896.8,597.8L896.8,443.0L897.2,589.3L897.2,443.8L897.6,523.5L898.0,613.8L898.4,699.9L898.4,443.0L898.7,551.2L899.0,698.2L899.0,442.6L899.4,534.2L899.4,442.6L899.8,535.2L899.8,442.6L900.1,535.8L900.1,442.6L900.5,533.0L900.5,443.9L900.8,598.8L901.1,699.6L901.1,590.6L901.5,700.0L901.5,589.2L901.9,694.9L901.9,590.0L902.3,692.1L902.3,589.4L902.6,700.0L902.6,442.9L902.9,493.5L903.3,573.0L903.7,639.9L904.0,699.9L904.0,442.6L904.5,637.2L904.5,442.6L904.9,634.0L904.9,442.6L905.0,627.9L905.0,444.9L905.5,582.7L906.0,699.1L906.0,444.4L906.4,516.4L906.9,606.5L907.3,699.3L907.3,443.8L907.7,650.1L907.7,442.6L908.2,641.7L908.2,446.0L908.5,646.6L908.5,443.7L908.6,655.4L908.6,443.4L909.0,548.2L909.3,616.1L909.7,699.1L909.7,443.3L910.2,540.9L910.6,699.1L910.6,443.0L910.9,570.1L911.2,696.6L911.2,443.2L911.4,543.4L911.6,625.4L911.8,623.8L912.0,699.9L912.0,444.1L912.3,613.2L912.6,699.0L912.6,443.7L912.9,562.5L913.2,697.8L913.2,442.8L913.5,517.9L913.7,699.1L913.7,443.2L914.0,587.7L914.3,698.4L914.3,442.8L914.6,542.7L914.8,698.7L914.8,442.9L915.1,555.7L915.4,699.2L915.4,442.9L915.8,568.6L916.1,699.6L916.1,443.5L916.4,580.6L916.6,699.8L916.6,443.1L916.9,607.7L917.2,699.4L917.2,444.6L917.4,583.3L917.6,699.9L917.6,446.8L917.8,569.6L918.0,698.5L918.0,444.1L918.3,551.6L918.5,699.4L918.5,442.8L918.8,546.9L919.2,697.5L919.2,444.7L919.4,586.1L919.6,699.1L919.6,442.8L919.9,577.9L920.1,699.9L920.1,442.7L920.4,542.2L920.8,698.4L920.8,442.6L921.1,532.0L921.1,442.6L921.6,538.6L921.6,446.7L921.9,531.4L921.9,442.9L922.0,533.5L922.0,442.7L922.3,599.2L922.7,699.1L922.7,496.5L923.1,700.0L923.1,497.4L923.6,699.0L923.6,494.5L924.0,695.0L924.0,444.9L924.5,563.9L924.9,697.8L924.9,443.7L925.3,523.9L925.7,617.6L926.1,699.2L926.1,444.3L926.6,535.4L927.1,699.4L927.1,442.6L927.5,570.0L927.5,442.9L927.9,559.9L927.9,443.5L928.1,561.7L928.1,442.8L928.5,520.0L928.9,648.2L929.3,698.8L929.3,443.2L929.7,523.0L930.1,611.6L930.5,699.5L930.5,536.3L930.9,699.7L930.9,540.5L931.3,693.7L931.3,539.3L931.7,695.6L931.7,541.6L931.9,694.0L931.9,442.6L932.3,612.2L932.3,445.8L932.6,617.8L932.6,443.2L933.0,601.1L933.0,444.1L933.3,615.0L933.3,446.7L933.5,615.8L933.5,442.6L933.9,578.9L933.9,445.8L934.2,580.4L934.2,445.2L934.6,582.2L934.6,445.8L934.9,489.1L935.3,531.2L935.6,642.8L936.0,661.0L936.3,699.2L936.3,500.0L936.8,696.6L936.8,503.4L937.2,698.4L937.2,503.7L937.2,700.0L937.2,445.0L937.7,593.2L937.7,445.3L938.0,587.5L938.0,442.6L938.4,589.3L938.4,444.6L938.5,594.3L938.5,444.3L938.9,486.8L939.2,593.0L939.6,656.3L939.9,699.6L939.9,445.3L939.9,524.6L939.9,580.5L940.0,583.9L940.0,647.3L940.0,699.3L940.0,443.1L940.2,571.0L940.4,699.7L940.4,444.7L940.9,574.0L941.4,696.6L941.4,444.1L941.8,572.6L942.2,698.1L942.2,443.5L942.5,614.7L942.7,699.1L942.7,444.0L942.9,606.8L943.1,699.0L943.1,443.4L943.4,596.5L943.7,699.1L943.7,445.5L944.0,535.6L944.3,698.5L944.3,443.8L944.7,595.2L945.1,699.7L945.1,444.5L945.5,553.7L946.0,699.7L946.0,445.2L946.5,530.5L946.9,699.9L946.9,443.0L947.3,521.8L947.6,698.0L947.6,443.1L947.8,578.2L948.1,699.5L948.1,442.6L948.5,578.0L948.8,699.4L948.8,444.3L949.2,589.1L949.5,699.3L949.5,444.4L949.8,582.2L950.0,699.4L950.0,444.7L950.5,579.0L951.0,697.2L951.0,445.5L951.3,575.7L951.5,699.9L951.5,443.4L952.0,576.8L952.4,699.7L952.4,442.6L952.6,513.0L952.8,698.9"/>
</g>
<g opacity="0.999">
<text x="82.7" y="344.1" class="t" text-anchor="middle">0</text>
<text x="82.7" y="742.0" class="t" text-anchor="middle">0</text>
<text x="191.2" y="344.1" class="t" text-anchor="middle">3</text>
<text x="191.2" y="742.0" class="t" text-anchor="middle">3</text>
<text x="299.6" y="344.1" class="t" text-anchor="middle">6</text>
<text x="299.6" y="742.0" class="t" text-anchor="middle">6</text>
<text x="408.1" y="344.1" class="t" text-anchor="middle">9</text>
<text x="408.1" y="742.0" class="t" text-anchor="middle">9</text>
<text x="516.5" y="344.1" class="t" text-anchor="middle">12</text>
<text x="516.5" y="742.0" class="t" text-anchor="middle">12</text>
<text x="625.0" y="344.1" class="t" text-anchor="middle">15</text>
<text x="625.0" y="742.0" class="t" text-anchor="middle">15</text>
<text x="733.4" y="344.1" class="t" text-anchor="middle">18</text>
<text x="733.4" y="742.0" class="t" text-anchor="middle">18</text>
<text x="841.9" y="344.1" class="t" text-anchor="middle">21</text>
<text x="841.9" y="742.0" class="t" text-anchor="middle">21</text>
<text x="950.3" y="344.1" class="t" text-anchor="middle">24</text>
<text x="950.3" y="742.0" class="t" text-anchor="middle">24</text>
<text x="70.6" y="35.1" class="t" text-anchor="end">-55</text>
<text x="70.6" y="92.7" class="t" text-anchor="end">-60</text>
<text x="70.6" y="150.2" class="t" text-anchor="end">-65</text>
<text x="70.6" y="207.7" class="t" text-anchor="end">-70</text>
<text x="70.6" y="265.1" class="t" text-anchor="end">-75</text>
<text x="70.6" y="322.6" class="t" text-anchor="end">-80</text>
<text x="68.8" y="435.1" class="t" text-anchor="end">200</text>
<text x="68.8" y="506.6" class="t" text-anchor="end">100</text>
<text x="73.0" y="578.1" class="t" text-anchor="end">0</text>
<text x="68.8" y="649.6" class="t" text-anchor="end">-100</text>
<text x="68.8" y="721.1" class="t" text-anchor="end">-200</text>
<text x="497.3" y="17.2" class="ttl" text-anchor="middle">NAA20240610.txt</text>
<text x="496" y="772.5" class="lab" text-anchor="middle">Time (hours after midnight UTC)</text>
<text transform="translate(29.9,181.8) rotate(-90)" class="lab" text-anchor="middle">Amplitude (dB)</text>
<text transform="translate(17.9,579.5) rotate(-90)" class="lab" text-anchor="middle">Phase (degrees)</text>
</g>
</svg>
</body>
</html>
